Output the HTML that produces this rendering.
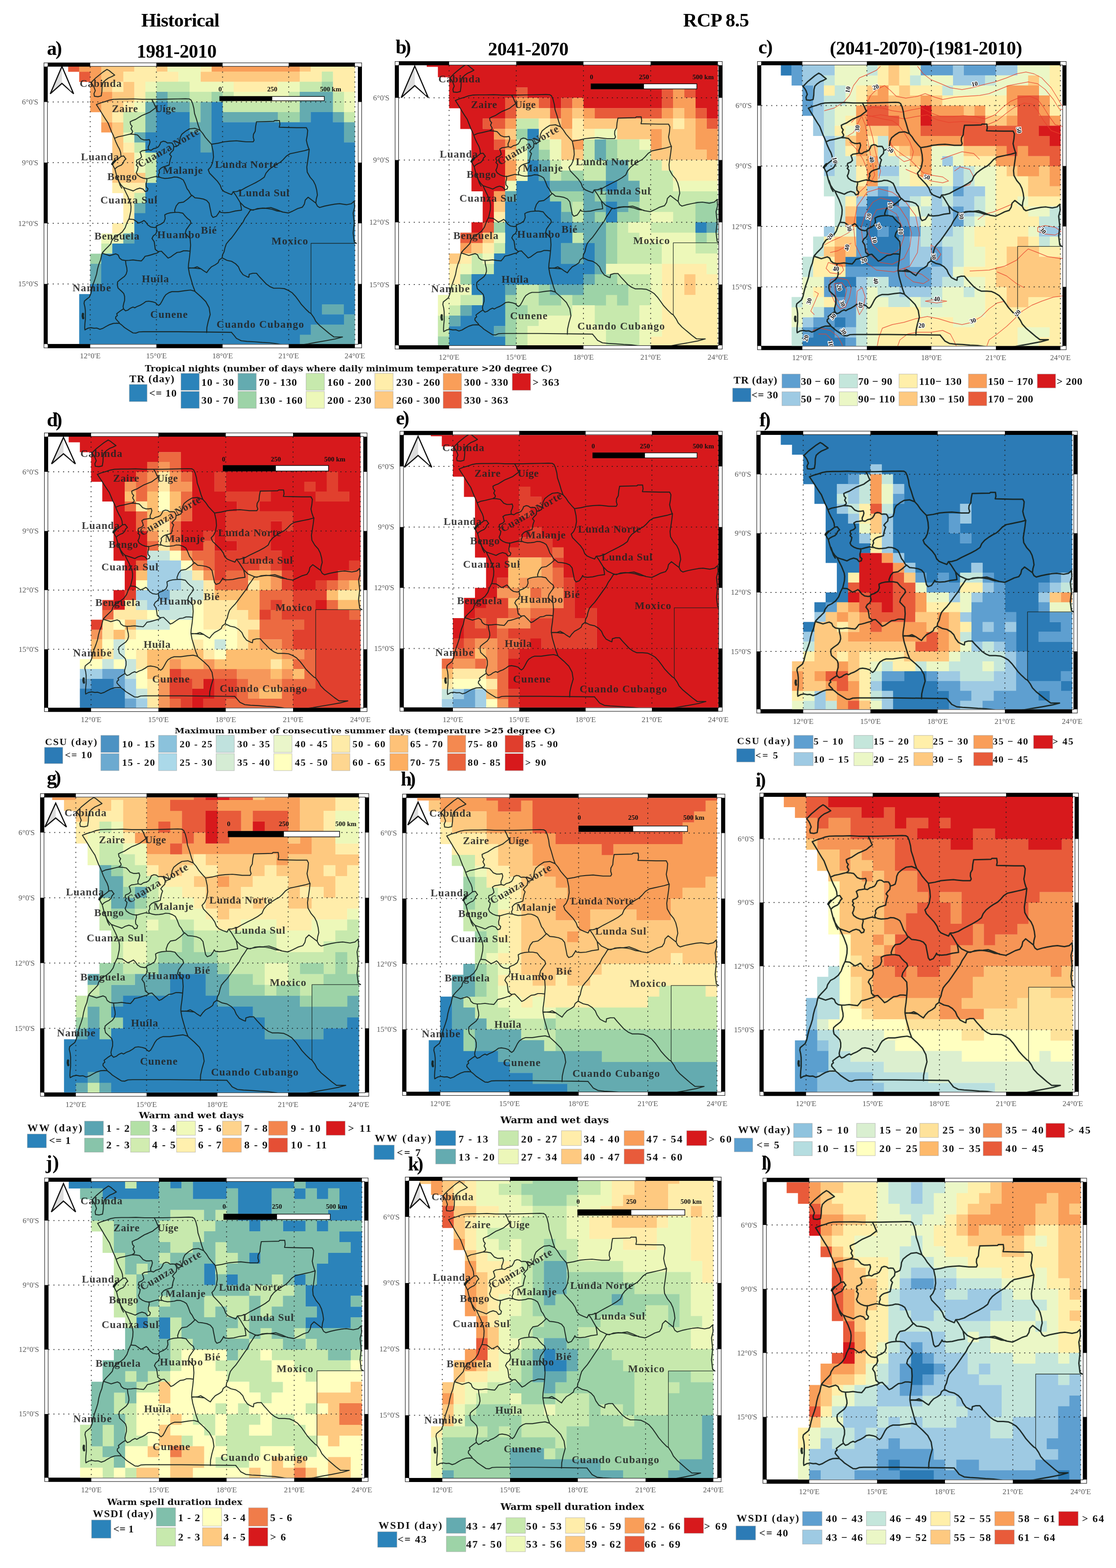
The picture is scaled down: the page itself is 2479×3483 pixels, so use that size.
<!DOCTYPE html>
<html lang="en"><head><meta charset="utf-8"><title>Climate indices over Angola</title>
<style>
html,body{margin:0;padding:0;background:#fff}
svg{display:block}
text{font-family:"Liberation Serif","DejaVu Serif",serif}
.tk text{font-size:17px;fill:#5a5a5a}
.sb text{font-size:15px;font-weight:bold;fill:#111}
.ttl{font-size:41px;font-weight:bold;fill:#000}
.pl{font-size:44px;font-weight:bold;fill:#000}
.lab text{font-weight:bold;fill:#222;fill-opacity:.88}
.lg text{font-weight:bold;fill:#111}
.cl text{font-weight:bold;font-size:14px;fill:#111;stroke:#fff;stroke-width:3px;paint-order:stroke;text-anchor:middle}
</style></head><body>
<svg xmlns="http://www.w3.org/2000/svg" width="2479" height="3483" viewBox="0 0 2479 3483">
<rect width="2479" height="3483" fill="#fff"/>
<defs><g id="brd" fill="none" stroke="#16211c" stroke-opacity=".92" stroke-linejoin="round" stroke-linecap="round"><path vector-effect="non-scaling-stroke" d="M3 -95l21 -23l17 -15l17 -15l18 -13l10 6l11 10l14 12l-14 8l-15 7l-13 10l-11 12l-4 17l-1 27l-3 22l-15 4l-16 -2l-2 -13l6 -15l-6 -18l-6 -11zM28 13l18 -8l22 -7l18 -7l19 -4l28 -1l32 0l33 -1l38 2l40 0l41 0l41 -1l40 -1l34 -1l18 1M450 -14l7 4l7 17l6 25l3 25l9 29l8 30l8 24l12 15l12 20l16 20l12 14M28 13l10 17l11 19l10 18l11 19l11 18l8 22l8 22l8 18l5 14l6 17l8 19l9 18l5 16l1 12l1 7l-10 9l-11 9l-11 9l-8 11l5 11l7 14l4 17l4 16l4 15l6 15l5 16l8 15M140 269l12 -2l5 8l5 7l-8 8l-5 13l-8 9l-11 5l-11 7l-7 8M124 372l7 23l10 17l10 11l10 23l10 22l6 17l6 17l2 16M185 518l-1 22l-4 20l-4 19M175 579l-9 20l-8 24l-13 20l-18 15l-17 9l-13 20l-4 15l-13 15l-13 14l-11 13M54 748l-3 12l-4 21l-8 22l-6 24l-4 24l-7 24l-8 24l-6 24l-5 24l-7 18l-13 11l-9 8l-2 12l4 18l2 18l0 21l0 21l-2 21l-1 21l1 11M60 740l-6 8M-24 1127l13 -8l14 -3l14 3l13 -1l14 6l14 -5l14 -9l16 -9l17 -6l17 -1l11 1l11 9l11 11l14 10l13 9l12 8l13 1l14 -6l20 -1l158 0M399 1136l242 3M279 -13l8 15l6 16l5 10l-14 11l-13 11l-19 9l-16 7l-14 9l-16 11l-14 6l-11 6l2 13l7 9l-5 12l7 13l-1 7l-10 7M110 180l17 -8l19 -4l19 -5l16 -4M181 159l17 1l16 3l8 9l8 10l14 6l13 0l11 -2l3 11l-3 13l-5 12l1 14M264 236l-15 3l-13 2l-10 7l4 11l3 13l-8 9l-14 6l-2 9l5 7l-5 9l8 9l-3 16l-5 12l5 12l13 10l14 6l16 3M264 236l12 3l11 -8l11 -3l11 -6l7 -12l4 -11l11 -5l10 2l9 7l10 -1l11 1l6 10l2 9M379 222l-2 16l-11 12l-6 9l8 10l-5 15l-3 15l-2 13l-14 5l-13 4l-10 6l-9 11l2 11l-5 12l3 11M257 380l19 -6l19 -5l17 3M379 222l11 -3l11 -6l5 -19l2 -18l7 -16l10 -9l7 -6M432 145l18 -12l25 -3l23 10M151 423l15 6l14 5l15 6l15 -9l15 -5l15 5l9 12l10 -3l3 -11l-8 -9l-1 -14l4 -17l-1 -11M311 370l12 5l15 3l15 -1l15 -2l12 -4l15 1l15 6l12 8l7 15l5 14l5 14l8 11l7 14l5 8M461 461l-19 19l-19 15l-22 4l-11 15l-7 21l1 11M384 546l-20 2l-15 4l-11 6l2 19l-6 17l-15 11l-15 6l-5 7M384 546l17 0l19 4l11 15l11 12l11 9l4 13l-11 16l-11 17l-4 17l11 13l11 13l2 33l-2 30M299 618l4 19l-6 16l-11 9l-6 13l10 16l3 22l2 16l13 11l15 -2l7 8l12 13l11 13l11 -5l15 -12l15 -11l15 -2l14 -6l15 0l15 2M461 461l14 13l19 2l19 4l15 7l11 14l3 17l4 21l4 22l7 10l15 -6l11 -17l4 -9l4 7l18 2l23 -2l26 -7l28 -4l-2 -17l-4 -21l-19 -34l-11 -17M550 209l7 35l2 29l-5 30l-8 19l-11 13l6 17l18 20l17 19l13 20l7 20l11 12l17 8l17 7l7 -14M993 234l-22 7l-22 5l-21 5l-22 5l-17 12l-14 17l-13 13l-17 10l-17 12l-18 15l-13 17l-8 20l-18 14l-21 13l-22 12l-22 12l-21 13l-22 7l-15 1M680 497l19 21l18 9l8 4M725 531l14 4l19 -8l22 -2l24 2l21 4l22 8l23 3M550 209l30 -5l27 -7l26 -3l30 -2l17 2l26 3l33 0l4 -8l-4 -14l1 -15l8 -15l2 -24l4 -23l43 -1l35 -1l4 -4l22 0l2 19l-3 14l36 1l43 1l44 0l6 13l-2 25l-4 24l4 20l6 20l3 5l-3 29l-4 30l-4 29l2 25l13 25l15 19l9 20l6 25l3 24l-5 20l-2 20M1023 500l7 15l10 7l22 -7l22 -5l26 -5l21 -2l31 5l22 -5l13 -13M726 535l19 -3l26 -5l26 -2l22 -3l26 10l26 12l28 5l20 -10l22 -12l21 -7l9 -15l4 -20l13 -14l35 29M726 535l-11 19l-13 20l-9 20l-13 19l-13 20l-13 20l-13 19l-13 15l-11 15l-6 19l-4 20l-7 15l-2 15M598 771l22 12l21 5l18 12l13 15l8 20l13 19l18 10l8 3l2 -15l16 -5l17 0l13 17l13 15l17 20l18 14l17 8l26 0l22 2l17 8l18 12l17 20l13 19l13 20l17 20l18 19l8 5l13 20l9 19l17 20l22 20l22 20l21 17l22 0l17 0l-34 10l-44 9l-43 8l-35 7l-34 5l-35 7M598 771l-13 10l-5 14l-13 10l-17 10l-13 15l-9 14l-13 -9l-13 -10l-17 -10l-13 5l-26 2M1197 490l2 30l-7 29l5 50l-5 49l5 44l10 7M476 938l26 25l22 24l15 30l5 34l-9 34l-6 30l-1 25M641 1140l11 14l11 15l22 12l26 3l34 2l35 3l35 2l34 5l35 8M175 579l21 2l11 8l13 10l11 -5l13 -8l8 8l9 14l13 10l17 3l9 -3M54 748l18 6l16 6l12 -4l16 -5l11 6l6 15l11 9l16 3l17 -1l17 -2l19 3l19 2l9 -11l8 -12l14 -3l13 -4l14 -5l11 -3l9 -6M160 784l2 19l4 18l1 15l-4 15l-8 12l-11 9l-11 9l-9 9l-1 15l3 15l9 9l9 9l8 9l4 15l0 19l-4 15l-3 15l2 12l-13 9l-11 9l-7 6l3 9l-7 6l-1 9l7 9l8 9l3 6M151 1023l9 10l11 -4l11 -9l12 -6l8 4l11 -7l14 -6l14 -9l11 -9l13 -2l17 3l14 5l8 9l6 4l8 -7l8 -15l9 -19l8 -12l14 -10l13 -5l17 0l12 0M399 938l31 -5l25 -3l20 6M453 738l-3 32l-4 30l-1 20l5 30l8 30l8 30l9 26M445 820l30 2l27 3"/><path vector-effect="non-scaling-stroke" stroke-width="5" d="M100 307l5 -8l7 -8M-33 1048l-1 11l2 10"/><path vector-effect="non-scaling-stroke" stroke-width="1.3" d="M1001 1046l0 -347l206 0"/></g></defs>
<g id="p_a">
<clipPath id="clip_a"><rect x="106" y="148" width="689" height="616.3"/></clipPath>
<rect x="97.6" y="139.6" width="705.8" height="633.1" fill="#fff" stroke="#222" stroke-width="1.2"/>
<rect x="105.4" y="147.4" width="690.2" height="617.5" fill="none" stroke="#222" stroke-width="1.2"/>
<path fill="#000" d="M106 139H200.4V148H106ZM106 764.3H200.4V773.3H106ZM347.4 139H494.4V148H347.4ZM347.4 764.3H494.4V773.3H347.4ZM641.3 139H788.3V148H641.3ZM641.3 764.3H788.3V773.3H641.3ZM97 148H106V226.5H97ZM795 148H804V226.5H795ZM97 361.3H106V496H97ZM795 361.3H804V496H795ZM97 630.8H106V764.3H97ZM795 630.8H804V764.3H795Z"/>
<g clip-path="url(#clip_a)">
<path fill="#e85b3a" d="M151.4 148H176.2V159.4H151.4ZM175.9 159.1H200.7V181.9H175.9Z"/>
<path fill="#f99e59" d="M175.9 148H225.2V159.4H175.9ZM469.9 148H666.1V159.4H469.9ZM200.4 159.1H225.2V181.9H200.4ZM200.4 181.6H225.2V204.3H200.4ZM200.4 204H249.7V226.8H200.4ZM200.4 226.5H225.2V249.3H200.4ZM224.9 271.4H249.7V294.2H224.9Z"/>
<path fill="#fec980" d="M224.9 148H298.7V159.4H224.9ZM347.4 148H372.2V159.4H347.4ZM665.8 148H690.6V159.4H665.8ZM224.9 159.1H274.2V181.9H224.9ZM445.4 159.1H666.1V181.9H445.4ZM224.9 181.6H249.7V204.3H224.9ZM273.9 181.6H298.7V204.3H273.9ZM249.4 204H298.7V226.8H249.4ZM224.9 226.5H274.2V249.3H224.9ZM224.9 249H249.7V271.7H224.9ZM249.4 271.4H274.2V294.2H249.4ZM249.4 293.9H274.2V316.6H249.4ZM249.4 316.3H274.2V339.1H249.4ZM249.4 338.8H298.7V361.6H249.4ZM249.4 361.3H298.7V384H249.4ZM249.4 383.7H323.2V406.5H249.4Z"/>
<path fill="#ffedaa" d="M298.4 148H347.7V159.4H298.4ZM445.4 148H470.2V159.4H445.4ZM690.3 148H788.6V159.4H690.3ZM273.9 159.1H396.7V181.9H273.9ZM665.8 159.1H715.1V181.9H665.8ZM739.3 159.1H788.6V181.9H739.3ZM249.4 181.6H274.2V204.3H249.4ZM298.4 181.6H323.2V204.3H298.4ZM518.8 181.6H617.1V204.3H518.8ZM739.3 181.6H788.6V204.3H739.3ZM298.4 204H323.2V226.8H298.4ZM273.9 226.5H298.7V249.3H273.9ZM249.4 249H274.2V271.7H249.4ZM273.9 316.3H298.7V339.1H273.9ZM249.4 406.2H323.2V428.9H249.4ZM273.9 428.6H298.7V451.4H273.9ZM273.9 451.1H298.7V473.9H273.9ZM273.9 473.6H298.7V496.3H273.9ZM249.4 496H274.2V518.8H249.4Z"/>
<path fill="#edf8b9" d="M371.9 148H445.7V159.4H371.9ZM396.4 159.1H445.7V181.9H396.4ZM322.9 181.6H347.7V204.3H322.9ZM420.9 181.6H519.1V204.3H420.9ZM616.8 181.6H666.1V204.3H616.8ZM518.8 204H641.6V226.8H518.8ZM763.8 204H788.6V226.8H763.8ZM298.4 226.5H323.2V249.3H298.4ZM763.8 226.5H788.6V249.3H763.8ZM273.9 293.9H298.7V316.6H273.9ZM298.4 338.8H323.2V361.6H298.4ZM298.4 361.3H323.2V384H298.4ZM273.9 496H298.7V518.8H273.9ZM224.9 518.5H274.2V541.3H224.9Z"/>
<path fill="#c7e9ad" d="M714.8 159.1H739.6V181.9H714.8ZM347.4 181.6H421.2V204.3H347.4ZM665.8 181.6H715.1V204.3H665.8ZM322.9 204H347.7V226.8H322.9ZM420.9 204H470.2V226.8H420.9ZM494.4 204H519.1V226.8H494.4ZM641.3 204H666.1V226.8H641.3ZM739.3 204H764.1V226.8H739.3ZM494.4 226.5H666.1V249.3H494.4ZM739.3 226.5H764.1V249.3H739.3ZM273.9 249H323.2V271.7H273.9ZM763.8 249H788.6V271.7H763.8ZM273.9 271.4H323.2V294.2H273.9ZM298.4 316.3H323.2V339.1H298.4ZM322.9 338.8H347.7V361.6H322.9ZM322.9 361.3H347.7V384H322.9ZM322.9 383.7H347.7V406.5H322.9ZM298.4 428.6H323.2V451.4H298.4ZM224.9 541H249.7V563.7H224.9Z"/>
<path fill="#9dd3a7" d="M714.8 181.6H739.6V204.3H714.8ZM371.9 204H421.2V226.8H371.9ZM469.9 204H494.7V226.8H469.9ZM420.9 226.5H445.7V249.3H420.9ZM420.9 249H445.7V271.7H420.9ZM616.8 249H666.1V271.7H616.8ZM200.4 563.4H225.2V586.2H200.4Z"/>
<path fill="#64abb0" d="M347.4 204H372.2V226.8H347.4ZM665.8 204H739.6V226.8H665.8ZM322.9 226.5H347.7V249.3H322.9ZM371.9 226.5H421.2V249.3H371.9ZM445.4 226.5H470.2V249.3H445.4ZM665.8 226.5H739.6V249.3H665.8ZM322.9 249H347.7V271.7H322.9ZM445.4 249H470.2V271.7H445.4ZM494.4 249H617.1V271.7H494.4ZM665.8 249H690.6V271.7H665.8ZM739.3 249H764.1V271.7H739.3ZM322.9 271.4H347.7V294.2H322.9ZM420.9 271.4H470.2V294.2H420.9ZM763.8 271.4H788.6V294.2H763.8ZM298.4 293.9H323.2V316.6H298.4ZM445.4 293.9H470.2V316.6H445.4ZM763.8 293.9H788.6V316.6H763.8ZM445.4 316.3H470.2V339.1H445.4ZM298.4 451.1H323.2V473.9H298.4ZM273.9 518.5H298.7V541.3H273.9ZM200.4 585.9H225.2V608.6H200.4ZM200.4 608.3H225.2V631.1H200.4ZM714.8 675.7H764.1V698.5H714.8ZM763.8 698.2H788.6V720.9H763.8ZM690.3 720.6H788.6V743.4H690.3ZM665.8 743.1H788.6V764.6H665.8Z"/>
<path fill="#2b83ba" d="M347.4 226.5H372.2V249.3H347.4ZM469.9 226.5H494.7V249.3H469.9ZM347.4 249H421.2V271.7H347.4ZM469.9 249H494.7V271.7H469.9ZM690.3 249H739.6V271.7H690.3ZM347.4 271.4H421.2V294.2H347.4ZM469.9 271.4H764.1V294.2H469.9ZM322.9 293.9H445.7V316.6H322.9ZM469.9 293.9H764.1V316.6H469.9ZM322.9 316.3H445.7V339.1H322.9ZM469.9 316.3H788.6V339.1H469.9ZM347.4 338.8H788.6V361.6H347.4ZM347.4 361.3H788.6V384H347.4ZM347.4 383.7H788.6V406.5H347.4ZM322.9 406.2H788.6V428.9H322.9ZM322.9 428.6H788.6V451.4H322.9ZM322.9 451.1H788.6V473.9H322.9ZM298.4 473.6H788.6V496.3H298.4ZM298.4 496H788.6V518.8H298.4ZM298.4 518.5H788.6V541.3H298.4ZM249.4 541H788.6V563.7H249.4ZM224.9 563.4H788.6V586.2H224.9ZM224.9 585.9H788.6V608.6H224.9ZM224.9 608.3H788.6V631.1H224.9ZM200.4 630.8H788.6V653.6H200.4ZM175.9 653.3H788.6V676H175.9ZM175.9 675.7H715.1V698.5H175.9ZM763.8 675.7H788.6V698.5H763.8ZM175.9 698.2H764.1V720.9H175.9ZM175.9 720.6H690.6V743.4H175.9ZM175.9 743.1H666.1V764.6H175.9Z"/>

<path d="M200.4 148V764.3M347.4 148V764.3M494.4 148V764.3M641.3 148V764.3M788.3 148V764.3M106 226.5H795M106 361.3H795M106 496H795M106 630.8H795" fill="none" stroke="#1a1a1a" stroke-opacity="0.8" stroke-width="2" stroke-dasharray="2.5 8.5"/>
<use href="#brd" stroke-width="2.2" transform="translate(200.4 226.5) scale(0.48992 0.44922)"/>
<g class="lab" font-size="23.5"><text x="176.9" y="192.8" textLength="93">Cabinda</text><text x="248.4" y="249" textLength="57.7">Zaire</text><text x="343.9" y="249" textLength="46.6">Uíge</text><text x="179.8" y="356.3" textLength="84.2">Luanda</text><text x="238.6" y="399.5" textLength="65.4">Bengo</text><text x="222.9" y="451.6" textLength="126.4">Cuanza Sul</text><text x="361.6" y="386" textLength="88.7">Malanje</text><text x="311.6" y="372.9" textLength="152.7" transform="rotate(-30 311.6 372.9)">Cuanza Norte</text><text x="477.7" y="372.9" textLength="139.7">Lunda Norte</text><text x="529.6" y="435.8" textLength="113">Lunda Sul</text><text x="209.7" y="532.4" textLength="99.8">Benguela</text><text x="349.3" y="529.3" textLength="95.3">Huambo</text><text x="315" y="627.2" textLength="59.9">Huíla</text><text x="161.2" y="647.4" textLength="85.3">Namibe</text><text x="333.7" y="706.3" textLength="83.1">Cunene</text><text x="446.3" y="518.5" textLength="35">Bié</text><text x="603.1" y="543.2" textLength="80.9">Moxico</text><text x="481.1" y="728.3" textLength="194">Cuando Cubango</text></g>

<rect x="488.1" y="214.3" width="232.3" height="9.5" fill="#fff" stroke="#111" stroke-width="1.5"/><rect x="488.1" y="214.3" width="116.6" height="9.5" fill="#000"/><g class="sb"><text x="489.1" y="203" text-anchor="middle">0</text><text x="604.7" y="203" text-anchor="middle">250</text><text x="734.4" y="203" text-anchor="middle">500 km</text></g>
<path d="M137.6 147.4L111.6 208.4L137.6 185.2Z" fill="#dcdcdc"/><path d="M137.6 147.4L111.6 208.4L137.6 185.2L163.6 208.4Z" fill="none" stroke="#111" stroke-width="2.6" stroke-linejoin="miter"/><path d="M138.4 154.4L138.4 182.7L159.1 203.9Z" fill="#fff" stroke="none"/>
</g>
<g class="tk"><text x="200.4" y="796.3" text-anchor="middle">12°0'E</text><text x="347.4" y="796.3" text-anchor="middle">15°0'E</text><text x="494.4" y="796.3" text-anchor="middle">18°0'E</text><text x="641.3" y="796.3" text-anchor="middle">21°0'E</text><text x="788.3" y="796.3" text-anchor="middle">24°0'E</text><text x="85" y="232" text-anchor="end">6°0'S</text><text x="85" y="366.8" text-anchor="end">9°0'S</text><text x="85" y="501.5" text-anchor="end">12°0'S</text><text x="85" y="636.3" text-anchor="end">15°0'S</text></g>
</g>
<g id="p_b">
<clipPath id="clip_b"><rect x="886" y="145" width="710" height="622"/></clipPath>
<rect x="877.6" y="136.6" width="726.8" height="638.8" fill="#fff" stroke="#222" stroke-width="1.2"/>
<rect x="885.4" y="144.4" width="711.2" height="623.2" fill="none" stroke="#222" stroke-width="1.2"/>
<path fill="#000" d="M886 136H997.6V145H886ZM886 767H997.6V776H886ZM1146.8 136H1296V145H1146.8ZM1146.8 767H1296V776H1146.8ZM1445.3 136H1594.5V145H1445.3ZM1445.3 767H1594.5V776H1445.3ZM877 145H886V217.2H877ZM1596 145H1605V217.2H1596ZM877 355.5H886V493.7H877ZM1596 355.5H1605V493.7H1596ZM877 632H886V767H877ZM1596 632H1605V767H1596Z"/>
<g clip-path="url(#clip_b)">
<path fill="#d7191c" d="M947.9 145H1594.8V148.4H947.9ZM972.7 148.1H1594.8V171.4H972.7ZM997.6 171.1H1594.8V194.5H997.6ZM997.6 194.2H1147.1V217.5H997.6ZM1171.7 194.2H1470.4V217.5H1171.7ZM1544.8 194.2H1594.8V217.5H1544.8ZM997.6 217.2H1122.3V240.5H997.6ZM1221.4 217.2H1246.6V240.5H1221.4ZM1296 217.2H1470.4V240.5H1296ZM1544.8 217.2H1594.8V240.5H1544.8ZM1022.5 240.2H1122.3V263.6H1022.5ZM1569.6 240.2H1594.8V263.6H1569.6ZM1022.5 263.3H1072.5V286.6H1022.5ZM1047.3 286.3H1097.4V309.7H1047.3ZM1047.3 309.4H1097.4V332.7H1047.3ZM1047.3 332.4H1122.3V355.8H1047.3ZM1047.3 355.5H1122.3V378.8H1047.3ZM1047.3 378.5H1122.3V401.9H1047.3ZM1047.3 401.6H1122.3V424.9H1047.3ZM1072.2 424.6H1097.4V447.9H1072.2ZM1072.2 447.6H1097.4V471H1072.2ZM1072.2 470.7H1097.4V494H1072.2ZM1047.3 493.7H1072.5V517.1H1047.3Z"/>
<path fill="#e85b3a" d="M1146.8 194.2H1172V217.5H1146.8ZM1470.1 194.2H1495.3V217.5H1470.1ZM1519.9 194.2H1545.1V217.5H1519.9ZM1122 217.2H1147.1V240.5H1122ZM1196.6 217.2H1221.7V240.5H1196.6ZM1246.3 217.2H1271.5V240.5H1246.3ZM1470.1 217.2H1495.3V240.5H1470.1ZM1122 240.2H1147.1V263.6H1122ZM1221.4 240.2H1246.6V263.6H1221.4ZM1320.9 240.2H1470.4V263.6H1320.9ZM1544.8 240.2H1569.9V263.6H1544.8ZM1072.2 263.3H1122.3V286.6H1072.2ZM1569.6 263.3H1594.8V286.6H1569.6ZM1097.1 309.4H1122.3V332.7H1097.1ZM1072.2 493.7H1097.4V517.1H1072.2ZM1022.5 516.8H1072.5V540.1H1022.5Z"/>
<path fill="#f99e59" d="M1495 194.2H1520.2V217.5H1495ZM1146.8 217.2H1196.9V240.5H1146.8ZM1271.2 217.2H1296.3V240.5H1271.2ZM1495 217.2H1545.1V240.5H1495ZM1246.3 240.2H1271.5V263.6H1246.3ZM1296 240.2H1321.2V263.6H1296ZM1470.1 240.2H1495.3V263.6H1470.1ZM1519.9 240.2H1545.1V263.6H1519.9ZM1122 263.3H1147.1V286.6H1122ZM1246.3 263.3H1271.5V286.6H1246.3ZM1544.8 263.3H1569.9V286.6H1544.8ZM1097.1 286.3H1122.3V309.7H1097.1ZM1445.3 286.3H1470.4V309.7H1445.3ZM1544.8 286.3H1594.8V309.7H1544.8ZM1122 309.4H1147.1V332.7H1122ZM1271.2 309.4H1296.3V332.7H1271.2ZM1445.3 309.4H1470.4V332.7H1445.3ZM1544.8 309.4H1594.8V332.7H1544.8ZM1569.6 332.4H1594.8V355.8H1569.6ZM1122 355.5H1147.1V378.8H1122ZM1122 378.5H1147.1V401.9H1122ZM1097.1 424.6H1122.3V447.9H1097.1ZM1022.5 539.8H1047.6V563.2H1022.5Z"/>
<path fill="#fec980" d="M1146.8 240.2H1221.7V263.6H1146.8ZM1271.2 240.2H1296.3V263.6H1271.2ZM1495 240.2H1520.2V263.6H1495ZM1221.4 263.3H1246.6V286.6H1221.4ZM1296 263.3H1495.3V286.6H1296ZM1519.9 263.3H1545.1V286.6H1519.9ZM1122 286.3H1147.1V309.7H1122ZM1221.4 286.3H1271.5V309.7H1221.4ZM1370.7 286.3H1445.6V309.7H1370.7ZM1470.1 286.3H1545.1V309.7H1470.1ZM1246.3 309.4H1271.5V332.7H1246.3ZM1470.1 309.4H1545.1V332.7H1470.1ZM1122 332.4H1147.1V355.8H1122ZM1246.3 332.4H1296.3V355.8H1246.3ZM1445.3 332.4H1569.9V355.8H1445.3ZM1097.1 447.6H1122.3V471H1097.1ZM1072.2 516.8H1097.4V540.1H1072.2ZM1047.3 539.8H1072.5V563.2H1047.3ZM997.6 562.9H1022.8V586.2H997.6ZM1519.9 609H1545.1V632.3H1519.9ZM1519.9 632H1545.1V655.3H1519.9Z"/>
<path fill="#c7e9ad" d="M1146.8 263.3H1196.9V286.6H1146.8ZM1146.8 309.4H1172V332.7H1146.8ZM1196.6 309.4H1221.7V332.7H1196.6ZM1296 309.4H1321.2V332.7H1296ZM1370.7 309.4H1420.7V332.7H1370.7ZM1296 332.4H1321.2V355.8H1296ZM1370.7 332.4H1445.6V355.8H1370.7ZM1221.4 355.5H1246.6V378.8H1221.4ZM1296 355.5H1346.1V378.8H1296ZM1395.5 355.5H1470.4V378.8H1395.5ZM1221.4 378.5H1246.6V401.9H1221.4ZM1296 378.5H1346.1V401.9H1296ZM1395.5 378.5H1495.3V401.9H1395.5ZM1420.4 401.6H1495.3V424.9H1420.4ZM1420.4 424.6H1594.8V447.9H1420.4ZM1271.2 447.6H1296.3V471H1271.2ZM1420.4 447.6H1545.1V471H1420.4ZM1271.2 470.7H1296.3V494H1271.2ZM1420.4 470.7H1445.6V494H1420.4ZM1495 470.7H1545.1V494H1495ZM1370.7 493.7H1395.8V517.1H1370.7ZM1445.3 493.7H1545.1V517.1H1445.3ZM1271.2 516.8H1296.3V540.1H1271.2ZM1370.7 516.8H1420.7V540.1H1370.7ZM1569.6 516.8H1594.8V540.1H1569.6ZM1097.1 539.8H1122.3V563.2H1097.1ZM1370.7 539.8H1470.4V563.2H1370.7ZM1544.8 539.8H1594.8V563.2H1544.8ZM1047.3 562.9H1072.5V586.2H1047.3ZM1370.7 562.9H1470.4V586.2H1370.7ZM1047.3 585.9H1097.4V609.3H1047.3ZM1370.7 609H1445.6V632.3H1370.7ZM1146.8 632H1196.9V655.3H1146.8ZM1395.5 632H1445.6V655.3H1395.5ZM1022.5 655H1072.5V678.4H1022.5ZM1146.8 655H1196.9V678.4H1146.8ZM1246.3 655H1271.5V678.4H1246.3ZM1345.8 655H1371V678.4H1345.8ZM1395.5 655H1445.6V678.4H1395.5ZM997.6 678.1H1022.8V701.4H997.6ZM1171.7 678.1H1271.5V701.4H1171.7ZM1320.9 678.1H1420.7V701.4H1320.9ZM972.7 701.1H997.9V724.5H972.7ZM1146.8 701.1H1196.9V724.5H1146.8ZM1320.9 701.1H1420.7V724.5H1320.9ZM972.7 724.2H997.9V747.5H972.7ZM1146.8 724.2H1172V747.5H1146.8ZM1345.8 724.2H1420.7V747.5H1345.8ZM1146.8 747.2H1172V767.3H1146.8ZM1345.8 747.2H1420.7V767.3H1345.8Z"/>
<path fill="#ffedaa" d="M1196.6 263.3H1221.7V286.6H1196.6ZM1271.2 263.3H1296.3V286.6H1271.2ZM1495 263.3H1520.2V286.6H1495ZM1196.6 286.3H1221.7V309.7H1196.6ZM1271.2 286.3H1321.2V309.7H1271.2ZM1146.8 355.5H1172V378.8H1146.8ZM1470.1 355.5H1594.8V378.8H1470.1ZM1495 378.5H1594.8V401.9H1495ZM1097.1 470.7H1122.3V494H1097.1ZM1072.2 539.8H1097.4V563.2H1072.2ZM1022.5 562.9H1047.6V586.2H1022.5ZM997.6 585.9H1022.8V609.3H997.6ZM1470.1 585.9H1569.9V609.3H1470.1ZM997.6 609H1022.8V632.3H997.6ZM1470.1 609H1520.2V632.3H1470.1ZM1544.8 609H1594.8V632.3H1544.8ZM1470.1 632H1520.2V655.3H1470.1ZM1544.8 632H1594.8V655.3H1544.8ZM1470.1 655H1594.8V678.4H1470.1ZM1470.1 678.1H1594.8V701.4H1470.1ZM1470.1 701.1H1594.8V724.5H1470.1ZM1470.1 724.2H1594.8V747.5H1470.1ZM1445.3 747.2H1594.8V767.3H1445.3Z"/>
<path fill="#9dd3a7" d="M1146.8 286.3H1172V309.7H1146.8ZM1345.8 309.4H1371V332.7H1345.8ZM1196.6 332.4H1221.7V355.8H1196.6ZM1345.8 332.4H1371V355.8H1345.8ZM1246.3 378.5H1296.3V401.9H1246.3ZM1221.4 424.6H1296.3V447.9H1221.4ZM1320.9 424.6H1346.1V447.9H1320.9ZM1246.3 447.6H1271.5V471H1246.3ZM1395.5 447.6H1420.7V471H1395.5ZM1544.8 447.6H1594.8V471H1544.8ZM1320.9 470.7H1346.1V494H1320.9ZM1370.7 470.7H1420.7V494H1370.7ZM1544.8 470.7H1594.8V494H1544.8ZM1097.1 493.7H1122.3V517.1H1097.1ZM1345.8 493.7H1371V517.1H1345.8ZM1345.8 516.8H1371V540.1H1345.8ZM1544.8 516.8H1569.9V540.1H1544.8ZM1345.8 539.8H1371V563.2H1345.8ZM1345.8 562.9H1371V586.2H1345.8ZM1022.5 609H1047.6V632.3H1022.5ZM1320.9 609H1371V632.3H1320.9ZM1196.6 632H1221.7V655.3H1196.6ZM1296 632H1395.8V655.3H1296ZM1122 655H1147.1V678.4H1122ZM1196.6 655H1246.6V678.4H1196.6ZM1271.2 655H1346.1V678.4H1271.2ZM1370.7 655H1395.8V678.4H1370.7ZM1122 678.1H1172V701.4H1122ZM1122 701.1H1147.1V724.5H1122ZM1122 724.2H1147.1V747.5H1122ZM972.7 747.2H997.9V767.3H972.7ZM1122 747.2H1147.1V767.3H1122Z"/>
<path fill="#2b83ba" d="M1171.7 286.3H1196.9V309.7H1171.7ZM1171.7 355.5H1196.9V378.8H1171.7ZM1171.7 378.5H1196.9V401.9H1171.7ZM1146.8 401.6H1221.7V424.9H1146.8ZM1345.8 401.6H1371V424.9H1345.8ZM1146.8 424.6H1221.7V447.9H1146.8ZM1122 447.6H1246.6V471H1122ZM1345.8 447.6H1371V471H1345.8ZM1122 470.7H1246.6V494H1122ZM1345.8 470.7H1371V494H1345.8ZM1122 493.7H1271.5V517.1H1122ZM1544.8 493.7H1569.9V517.1H1544.8ZM1122 516.8H1271.5V540.1H1122ZM1122 539.8H1246.6V563.2H1122ZM1296 539.8H1321.2V563.2H1296ZM1097.1 562.9H1246.6V586.2H1097.1ZM1296 562.9H1321.2V586.2H1296ZM1097.1 585.9H1321.2V609.3H1097.1ZM1047.3 609H1296.3V632.3H1047.3ZM1047.3 632H1122.3V655.3H1047.3ZM1072.2 655H1122.3V678.4H1072.2ZM1047.3 678.1H1122.3V701.4H1047.3ZM1022.5 701.1H1122.3V724.5H1022.5ZM997.6 724.2H1097.4V747.5H997.6ZM997.6 747.2H1122.3V767.3H997.6Z"/>
<path fill="#edf8b9" d="M1320.9 286.3H1371V309.7H1320.9ZM1221.4 309.4H1246.6V332.7H1221.4ZM1420.4 309.4H1445.6V332.7H1420.4ZM1146.8 332.4H1172V355.8H1146.8ZM1221.4 332.4H1246.6V355.8H1221.4ZM1246.3 355.5H1296.3V378.8H1246.3ZM1146.8 378.5H1172V401.9H1146.8ZM1122 401.6H1147.1V424.9H1122ZM1495 401.6H1594.8V424.9H1495ZM1445.3 470.7H1495.3V494H1445.3ZM1395.5 493.7H1445.6V517.1H1395.5ZM1097.1 516.8H1122.3V540.1H1097.1ZM1420.4 516.8H1545.1V540.1H1420.4ZM1470.1 539.8H1545.1V563.2H1470.1ZM1072.2 562.9H1097.4V586.2H1072.2ZM1470.1 562.9H1594.8V586.2H1470.1ZM1022.5 585.9H1047.6V609.3H1022.5ZM1345.8 585.9H1470.4V609.3H1345.8ZM1569.6 585.9H1594.8V609.3H1569.6ZM1445.3 609H1470.4V632.3H1445.3ZM997.6 632H1047.6V655.3H997.6ZM1445.3 632H1470.4V655.3H1445.3ZM972.7 655H1022.8V678.4H972.7ZM1445.3 655H1470.4V678.4H1445.3ZM972.7 678.1H997.9V701.4H972.7ZM1271.2 678.1H1321.2V701.4H1271.2ZM1420.4 678.1H1470.4V701.4H1420.4ZM1196.6 701.1H1321.2V724.5H1196.6ZM1420.4 701.1H1470.4V724.5H1420.4ZM1171.7 724.2H1346.1V747.5H1171.7ZM1420.4 724.2H1470.4V747.5H1420.4ZM1171.7 747.2H1346.1V767.3H1171.7ZM1420.4 747.2H1445.6V767.3H1420.4Z"/>
<path fill="#64abb0" d="M1171.7 309.4H1196.9V332.7H1171.7ZM1320.9 309.4H1346.1V332.7H1320.9ZM1171.7 332.4H1196.9V355.8H1171.7ZM1320.9 332.4H1346.1V355.8H1320.9ZM1196.6 355.5H1221.7V378.8H1196.6ZM1345.8 355.5H1395.8V378.8H1345.8ZM1196.6 378.5H1221.7V401.9H1196.6ZM1345.8 378.5H1395.8V401.9H1345.8ZM1221.4 401.6H1346.1V424.9H1221.4ZM1370.7 401.6H1420.7V424.9H1370.7ZM1122 424.6H1147.1V447.9H1122ZM1296 424.6H1321.2V447.9H1296ZM1345.8 424.6H1420.7V447.9H1345.8ZM1296 447.6H1346.1V471H1296ZM1370.7 447.6H1395.8V471H1370.7ZM1246.3 470.7H1271.5V494H1246.3ZM1296 470.7H1321.2V494H1296ZM1271.2 493.7H1346.1V517.1H1271.2ZM1569.6 493.7H1594.8V517.1H1569.6ZM1296 516.8H1346.1V540.1H1296ZM1246.3 539.8H1296.3V563.2H1246.3ZM1320.9 539.8H1346.1V563.2H1320.9ZM1246.3 562.9H1296.3V586.2H1246.3ZM1320.9 562.9H1346.1V586.2H1320.9ZM1320.9 585.9H1346.1V609.3H1320.9ZM1296 609H1321.2V632.3H1296ZM1122 632H1147.1V655.3H1122ZM1221.4 632H1296.3V655.3H1221.4ZM1022.5 678.1H1047.6V701.4H1022.5ZM997.6 701.1H1022.8V724.5H997.6ZM1097.1 724.2H1122.3V747.5H1097.1Z"/>

<path d="M997.6 145V767M1146.8 145V767M1296 145V767M1445.3 145V767M1594.5 145V767M886 217.2H1596M886 355.5H1596M886 493.7H1596M886 632H1596" fill="none" stroke="#1a1a1a" stroke-opacity="0.8" stroke-width="2" stroke-dasharray="2.5 8.5"/>
<use href="#brd" stroke-width="2.2" transform="translate(997.6 217.2) scale(0.49742 0.46089)"/>
<g class="lab" font-size="23.5"><text x="973.7" y="182.6" textLength="93">Cabinda</text><text x="1046.3" y="240.2" textLength="57.7">Zaire</text><text x="1143.3" y="240.2" textLength="46.6">Uíge</text><text x="976.7" y="350.4" textLength="84.2">Luanda</text><text x="1036.4" y="394.6" textLength="65.4">Bengo</text><text x="1020.5" y="448.1" textLength="126.4">Cuanza Sul</text><text x="1161.3" y="380.8" textLength="88.7">Malanje</text><text x="1110.5" y="367.4" textLength="152.7" transform="rotate(-30 1110.5 367.4)">Cuanza Norte</text><text x="1279.1" y="367.4" textLength="139.7">Lunda Norte</text><text x="1331.9" y="432" textLength="113">Lunda Sul</text><text x="1007.1" y="531.1" textLength="99.8">Benguela</text><text x="1148.8" y="527.8" textLength="95.3">Huambo</text><text x="1114" y="628.3" textLength="59.9">Huíla</text><text x="957.8" y="649.1" textLength="85.3">Namibe</text><text x="1132.9" y="709.4" textLength="83.1">Cunene</text><text x="1247.3" y="516.8" textLength="35">Bié</text><text x="1406.5" y="542.1" textLength="80.9">Moxico</text><text x="1282.6" y="732" textLength="194">Cuando Cubango</text></g>

<rect x="1312.9" y="186.2" width="235" height="11.3" fill="#fff" stroke="#111" stroke-width="1.5"/><rect x="1312.9" y="186.2" width="117.5" height="11.3" fill="#000"/><g class="sb"><text x="1313.9" y="175.5" text-anchor="middle">0</text><text x="1430.4" y="175.5" text-anchor="middle">250</text><text x="1561.9" y="175.5" text-anchor="middle">500 km</text></g>
<path d="M921.3 146.8L891.3 216.8L921.3 190.2Z" fill="#dcdcdc"/><path d="M921.3 146.8L891.3 216.8L921.3 190.2L951.3 216.8Z" fill="none" stroke="#111" stroke-width="2.6" stroke-linejoin="miter"/><path d="M922.1 153.8L922.1 187.7L946.8 212.3Z" fill="#fff" stroke="none"/>
</g>
<g class="tk"><text x="997.6" y="799" text-anchor="middle">12°0'E</text><text x="1146.8" y="799" text-anchor="middle">15°0'E</text><text x="1296" y="799" text-anchor="middle">18°0'E</text><text x="1445.3" y="799" text-anchor="middle">21°0'E</text><text x="1594.5" y="799" text-anchor="middle">24°0'E</text><text x="865" y="222.7" text-anchor="end">6°0'S</text><text x="865" y="361" text-anchor="end">9°0'S</text><text x="865" y="499.2" text-anchor="end">12°0'S</text><text x="865" y="637.5" text-anchor="end">15°0'S</text></g>
</g>
<g id="p_c">
<clipPath id="clip_c"><rect x="1691" y="145" width="669" height="623.4"/></clipPath>
<rect x="1682.6" y="136.6" width="685.8" height="640.2" fill="#fff" stroke="#222" stroke-width="1.2"/>
<rect x="1690.4" y="144.4" width="670.2" height="624.6" fill="none" stroke="#222" stroke-width="1.2"/>
<path fill="#000" d="M1691 136H1782.3V145H1691ZM1691 768.4H1782.3V777.4H1691ZM1925.6 136H2068.9V145H1925.6ZM1925.6 768.4H2068.9V777.4H1925.6ZM2212.2 136H2355.5V145H2212.2ZM2212.2 768.4H2355.5V777.4H2212.2ZM1682 145H1691V234.5H1682ZM2360 145H2369V234.5H2360ZM1682 368.8H1691V503H1682ZM2360 368.8H2369V503H2360ZM1682 637.3H1691V768.4H1682ZM2360 637.3H2369V768.4H2360Z"/>
<g clip-path="url(#clip_c)">
<path fill="#2c7bb6" d="M1734.5 145H1758.7V167.7H1734.5ZM1925.6 435.9H1997.5V458.6H1925.6ZM1925.6 458.3H1973.7V481H1925.6ZM1901.7 480.7H1997.5V503.3H1901.7ZM1925.6 503H1949.8V525.7H1925.6ZM1973.4 503H2021.4V525.7H1973.4ZM1925.6 525.4H1997.5V548.1H1925.6ZM1925.6 547.8H1997.5V570.5H1925.6ZM1877.8 570.2H1997.5V592.8H1877.8ZM1854 614.9H1902V637.6H1854ZM1854 637.3H1878.1V660H1854ZM1854 704.4H1878.1V727.1H1854ZM1806.2 726.8H1854.2V749.5H1806.2ZM1782.3 749.2H1878.1V768.7H1782.3Z"/>
<path fill="#5e9fd0" d="M1758.4 145H1782.6V167.7H1758.4ZM2045 145H2117V167.7H2045ZM2140.6 145H2212.5V167.7H2140.6ZM1758.4 167.4H1782.6V190H1758.4ZM1782.3 189.7H1806.5V212.4H1782.3ZM1782.3 212.1H1806.5V234.8H1782.3ZM1782.3 234.5H1806.5V257.2H1782.3ZM1949.5 413.5H1973.7V436.2H1949.5ZM2116.7 413.5H2140.9V436.2H2116.7ZM1901.7 458.3H1925.9V481H1901.7ZM1973.4 458.3H2021.4V481H1973.4ZM2116.7 458.3H2140.9V481H2116.7ZM1997.2 480.7H2021.4V503.3H1997.2ZM2116.7 480.7H2140.9V503.3H2116.7ZM1901.7 503H1925.9V525.7H1901.7ZM1949.5 503H1973.7V525.7H1949.5ZM2021.1 503H2045.3V525.7H2021.1ZM1901.7 525.4H1925.9V548.1H1901.7ZM1997.2 525.4H2021.4V548.1H1997.2ZM1901.7 547.8H1925.9V570.5H1901.7ZM1997.2 547.8H2021.4V570.5H1997.2ZM2068.9 547.8H2093.1V570.5H2068.9ZM1997.2 570.2H2021.4V592.8H1997.2ZM2068.9 570.2H2093.1V592.8H2068.9ZM1877.8 592.5H2069.2V615.2H1877.8ZM1830.1 614.9H1854.2V637.6H1830.1ZM1973.4 614.9H2069.2V637.6H1973.4ZM1830.1 637.3H1854.2V660H1830.1ZM1877.8 637.3H1902V660H1877.8ZM1854 659.7H1902V682.4H1854ZM1830.1 682.1H1902V704.7H1830.1ZM1806.2 704.4H1854.2V727.1H1806.2ZM1877.8 704.4H1902V727.1H1877.8ZM1782.3 726.8H1806.5V749.5H1782.3ZM1854 726.8H1878.1V749.5H1854ZM1877.8 749.2H1902V768.7H1877.8Z"/>
<path fill="#9ecae3" d="M1782.3 145H1854.2V167.7H1782.3ZM2116.7 145H2140.9V167.7H2116.7ZM2212.2 145H2260.3V167.7H2212.2ZM1782.3 167.4H1830.4V190H1782.3ZM2116.7 167.4H2188.6V190H2116.7ZM1806.2 189.7H1830.4V212.4H1806.2ZM1806.2 212.1H1830.4V234.8H1806.2ZM1806.2 234.5H1830.4V257.2H1806.2ZM1806.2 256.9H1830.4V279.6H1806.2ZM1806.2 279.3H1830.4V301.9H1806.2ZM1830.1 301.6H1854.2V324.3H1830.1ZM1830.1 324H1854.2V346.7H1830.1ZM1830.1 346.4H1854.2V369.1H1830.1ZM2092.8 346.4H2117V369.1H2092.8ZM1830.1 368.8H1854.2V391.4H1830.1ZM1949.5 368.8H1997.5V391.4H1949.5ZM2116.7 368.8H2140.9V391.4H2116.7ZM2116.7 391.1H2140.9V413.8H2116.7ZM1925.6 413.5H1949.8V436.2H1925.6ZM1973.4 413.5H2093.1V436.2H1973.4ZM2140.6 413.5H2188.6V436.2H2140.6ZM1901.7 435.9H1925.9V458.6H1901.7ZM1997.2 435.9H2021.4V458.6H1997.2ZM2068.9 435.9H2093.1V458.6H2068.9ZM2116.7 435.9H2164.7V458.6H2116.7ZM2068.9 458.3H2117V481H2068.9ZM2140.6 458.3H2164.7V481H2140.6ZM2021.1 480.7H2045.3V503.3H2021.1ZM2068.9 480.7H2117V503.3H2068.9ZM1830.1 503H1854.2V525.7H1830.1ZM2068.9 503H2117V525.7H2068.9ZM2307.7 503H2355.8V525.7H2307.7ZM2021.1 525.4H2045.3V548.1H2021.1ZM2068.9 525.4H2093.1V548.1H2068.9ZM2021.1 547.8H2069.2V570.5H2021.1ZM2092.8 547.8H2117V570.5H2092.8ZM2021.1 570.2H2069.2V592.8H2021.1ZM2092.8 570.2H2117V592.8H2092.8ZM2068.9 592.5H2117V615.2H2068.9ZM1901.7 614.9H1925.9V637.6H1901.7ZM2068.9 614.9H2093.1V637.6H2068.9ZM1901.7 637.3H1925.9V660H1901.7ZM1997.2 637.3H2069.2V660H1997.2ZM1901.7 659.7H1925.9V682.4H1901.7ZM1782.3 704.4H1806.5V727.1H1782.3ZM1877.8 726.8H1902V749.5H1877.8Z"/>
<path fill="#ebf7c6" d="M1854 145H1925.9V167.7H1854ZM2021.1 145H2045.3V167.7H2021.1ZM2260 145H2331.9V167.7H2260ZM1854 167.4H1949.8V190H1854ZM2045 167.4H2117V190H2045ZM2212.2 167.4H2284.2V190H2212.2ZM2307.7 167.4H2331.9V190H2307.7ZM1877.8 189.7H1902V212.4H1877.8ZM2116.7 189.7H2236.4V212.4H2116.7ZM2307.7 189.7H2331.9V212.4H2307.7ZM1877.8 212.1H1902V234.8H1877.8ZM1854 234.5H1902V257.2H1854ZM1854 256.9H1878.1V279.6H1854ZM1877.8 279.3H1902V301.9H1877.8ZM2068.9 324H2140.9V346.7H2068.9ZM1997.2 346.4H2021.4V369.1H1997.2ZM2068.9 346.4H2093.1V369.1H2068.9ZM2116.7 346.4H2140.9V369.1H2116.7ZM1997.2 368.8H2021.4V391.4H1997.2ZM2068.9 368.8H2117V391.4H2068.9ZM2164.4 368.8H2212.5V391.4H2164.4ZM1997.2 391.1H2021.4V413.8H1997.2ZM2068.9 391.1H2117V413.8H2068.9ZM2164.4 391.1H2212.5V413.8H2164.4ZM2188.3 413.5H2212.5V436.2H2188.3ZM2045 435.9H2069.2V458.6H2045ZM2188.3 435.9H2212.5V458.6H2188.3ZM2260 435.9H2284.2V458.6H2260ZM2021.1 458.3H2045.3V481H2021.1ZM2188.3 458.3H2212.5V481H2188.3ZM2283.8 458.3H2331.9V481H2283.8ZM2045 480.7H2069.2V503.3H2045ZM2164.4 480.7H2188.6V503.3H2164.4ZM1854 503H1902V525.7H1854ZM2140.6 503H2164.7V525.7H2140.6ZM2283.8 503H2308V525.7H2283.8ZM2140.6 525.4H2164.7V548.1H2140.6ZM2331.6 525.4H2355.8V548.1H2331.6ZM2140.6 547.8H2188.6V570.5H2140.6ZM2140.6 570.2H2188.6V592.8H2140.6ZM2116.7 592.5H2140.9V615.2H2116.7ZM1782.3 614.9H1830.4V637.6H1782.3ZM2140.6 614.9H2188.6V637.6H2140.6ZM1782.3 637.3H1806.5V660H1782.3ZM1925.6 637.3H1949.8V660H1925.6ZM2092.8 637.3H2140.9V660H2092.8ZM2164.4 637.3H2188.6V660H2164.4ZM1782.3 659.7H1830.4V682.4H1782.3ZM1925.6 659.7H1973.7V682.4H1925.6ZM2021.1 659.7H2045.3V682.4H2021.1ZM2092.8 659.7H2188.6V682.4H2092.8ZM1758.4 682.1H1806.5V704.7H1758.4ZM1925.6 682.1H1949.8V704.7H1925.6ZM2045 682.1H2188.6V704.7H2045ZM1758.4 704.4H1782.6V727.1H1758.4ZM1925.6 704.4H1949.8V727.1H1925.6ZM2116.7 704.4H2164.7V727.1H2116.7ZM1925.6 726.8H1949.8V749.5H1925.6ZM2260 726.8H2331.9V749.5H2260ZM1925.6 749.2H1949.8V768.7H1925.6ZM2260 749.2H2308V768.7H2260Z"/>
<path fill="#c4e6db" d="M1925.6 145H1949.8V167.7H1925.6ZM1830.1 167.4H1854.2V190H1830.1ZM2021.1 167.4H2045.3V190H2021.1ZM2188.3 167.4H2212.5V190H2188.3ZM1854 189.7H1878.1V212.4H1854ZM2092.8 189.7H2117V212.4H2092.8ZM1830.1 212.1H1878.1V234.8H1830.1ZM1830.1 234.5H1854.2V257.2H1830.1ZM1830.1 256.9H1854.2V279.6H1830.1ZM1830.1 279.3H1854.2V301.9H1830.1ZM1854 301.6H1878.1V324.3H1854ZM1949.5 301.6H1973.7V324.3H1949.5ZM1854 324H1878.1V346.7H1854ZM1949.5 324H1973.7V346.7H1949.5ZM1854 346.4H1902V369.1H1854ZM1949.5 346.4H1997.5V369.1H1949.5ZM1854 368.8H1902V391.4H1854ZM2140.6 368.8H2164.7V391.4H2140.6ZM1830.1 391.1H1902V413.8H1830.1ZM1949.5 391.1H1997.5V413.8H1949.5ZM2140.6 391.1H2164.7V413.8H2140.6ZM1830.1 413.5H1902V436.2H1830.1ZM2092.8 413.5H2117V436.2H2092.8ZM1854 435.9H1878.1V458.6H1854ZM2021.1 435.9H2045.3V458.6H2021.1ZM2092.8 435.9H2117V458.6H2092.8ZM2164.4 435.9H2188.6V458.6H2164.4ZM1854 458.3H1878.1V481H1854ZM2045 458.3H2069.2V481H2045ZM2164.4 458.3H2188.6V481H2164.4ZM2331.6 458.3H2355.8V481H2331.6ZM1854 480.7H1878.1V503.3H1854ZM2140.6 480.7H2164.7V503.3H2140.6ZM2307.7 480.7H2355.8V503.3H2307.7ZM2045 503H2069.2V525.7H2045ZM2116.7 503H2140.9V525.7H2116.7ZM1806.2 525.4H1830.4V548.1H1806.2ZM2045 525.4H2069.2V548.1H2045ZM2092.8 525.4H2140.9V548.1H2092.8ZM2307.7 525.4H2331.9V548.1H2307.7ZM1806.2 547.8H1830.4V570.5H1806.2ZM2116.7 547.8H2140.9V570.5H2116.7ZM1782.3 570.2H1806.5V592.8H1782.3ZM2116.7 570.2H2140.9V592.8H2116.7ZM1782.3 592.5H1806.5V615.2H1782.3ZM1925.6 614.9H1973.7V637.6H1925.6ZM2092.8 614.9H2140.9V637.6H2092.8ZM1949.5 637.3H1997.5V660H1949.5ZM2068.9 637.3H2093.1V660H2068.9ZM2140.6 637.3H2164.7V660H2140.6ZM1758.4 659.7H1782.6V682.4H1758.4ZM1973.4 659.7H2021.4V682.4H1973.4ZM2045 659.7H2093.1V682.4H2045ZM1806.2 682.1H1830.4V704.7H1806.2ZM1901.7 682.1H1925.9V704.7H1901.7ZM1901.7 704.4H1925.9V727.1H1901.7ZM1758.4 726.8H1782.6V749.5H1758.4ZM1901.7 726.8H1925.9V749.5H1901.7ZM1758.4 749.2H1782.6V768.7H1758.4ZM1901.7 749.2H1925.9V768.7H1901.7Z"/>
<path fill="#ffefaa" d="M1949.5 145H1973.7V167.7H1949.5ZM1997.2 145H2021.4V167.7H1997.2ZM2331.6 145H2355.8V167.7H2331.6ZM1949.5 167.4H1973.7V190H1949.5ZM1997.2 167.4H2021.4V190H1997.2ZM2331.6 167.4H2355.8V190H2331.6ZM1830.1 189.7H1854.2V212.4H1830.1ZM1901.7 189.7H1925.9V212.4H1901.7ZM1973.4 189.7H1997.5V212.4H1973.4ZM2021.1 189.7H2093.1V212.4H2021.1ZM2331.6 189.7H2355.8V212.4H2331.6ZM1901.7 212.1H1925.9V234.8H1901.7ZM2092.8 212.1H2236.4V234.8H2092.8ZM2331.6 212.1H2355.8V234.8H2331.6ZM2188.3 234.5H2236.4V257.2H2188.3ZM2331.6 234.5H2355.8V257.2H2331.6ZM1877.8 256.9H1902V279.6H1877.8ZM1854 279.3H1878.1V301.9H1854ZM1925.6 301.6H1949.8V324.3H1925.6ZM1877.8 324H1902V346.7H1877.8ZM1973.4 324H1997.5V346.7H1973.4ZM2140.6 346.4H2212.5V369.1H2140.6ZM1901.7 368.8H1925.9V391.4H1901.7ZM2021.1 368.8H2045.3V391.4H2021.1ZM2212.2 368.8H2236.4V391.4H2212.2ZM1901.7 391.1H1925.9V413.8H1901.7ZM2021.1 391.1H2069.2V413.8H2021.1ZM2212.2 391.1H2284.2V413.8H2212.2ZM2212.2 413.5H2284.2V436.2H2212.2ZM1877.8 435.9H1902V458.6H1877.8ZM2212.2 435.9H2260.3V458.6H2212.2ZM2283.8 435.9H2355.8V458.6H2283.8ZM2212.2 458.3H2284.2V481H2212.2ZM2188.3 480.7H2308V503.3H2188.3ZM2164.4 503H2284.2V525.7H2164.4ZM1830.1 525.4H1854.2V548.1H1830.1ZM2164.4 525.4H2260.3V548.1H2164.4ZM2283.8 525.4H2308V548.1H2283.8ZM2188.3 547.8H2236.4V570.5H2188.3ZM2307.7 547.8H2355.8V570.5H2307.7ZM1806.2 570.2H1854.2V592.8H1806.2ZM2188.3 570.2H2236.4V592.8H2188.3ZM1806.2 592.5H1878.1V615.2H1806.2ZM2140.6 592.5H2212.5V615.2H2140.6ZM2188.3 614.9H2212.5V637.6H2188.3ZM1806.2 637.3H1830.4V660H1806.2ZM2188.3 637.3H2236.4V660H2188.3ZM1830.1 659.7H1854.2V682.4H1830.1ZM2188.3 659.7H2236.4V682.4H2188.3ZM2283.8 659.7H2355.8V682.4H2283.8ZM1949.5 682.1H2045.3V704.7H1949.5ZM2188.3 682.1H2355.8V704.7H2188.3ZM1949.5 704.4H2117V727.1H1949.5ZM2164.4 704.4H2355.8V727.1H2164.4ZM1949.5 726.8H2260.3V749.5H1949.5ZM2331.6 726.8H2355.8V749.5H2331.6ZM1949.5 749.2H2260.3V768.7H1949.5ZM2307.7 749.2H2355.8V768.7H2307.7Z"/>
<path fill="#fec980" d="M1973.4 145H1997.5V167.7H1973.4ZM1973.4 167.4H1997.5V190H1973.4ZM2283.8 167.4H2308V190H2283.8ZM1925.6 189.7H1949.8V212.4H1925.6ZM1997.2 189.7H2021.4V212.4H1997.2ZM1973.4 212.1H2045.3V234.8H1973.4ZM2068.9 212.1H2093.1V234.8H2068.9ZM2140.6 234.5H2164.7V257.2H2140.6ZM2236.1 234.5H2260.3V257.2H2236.1ZM2188.3 256.9H2236.4V279.6H2188.3ZM1925.6 279.3H1973.7V301.9H1925.6ZM1877.8 301.6H1902V324.3H1877.8ZM1925.6 324H1949.8V346.7H1925.6ZM1997.2 324H2021.4V346.7H1997.2ZM2140.6 324H2212.5V346.7H2140.6ZM1901.7 346.4H1925.9V369.1H1901.7ZM2021.1 346.4H2045.3V369.1H2021.1ZM2236.1 368.8H2260.3V391.4H2236.1ZM2307.7 368.8H2331.9V391.4H2307.7ZM2283.8 391.1H2331.9V413.8H2283.8ZM1901.7 413.5H1925.9V436.2H1901.7ZM2283.8 413.5H2355.8V436.2H2283.8ZM1877.8 458.3H1902V481H1877.8ZM1854 525.4H1902V548.1H1854ZM2260 525.4H2284.2V548.1H2260ZM1830.1 547.8H1854.2V570.5H1830.1ZM1877.8 547.8H1902V570.5H1877.8ZM2236.1 547.8H2308V570.5H2236.1ZM2236.1 570.2H2355.8V592.8H2236.1ZM2212.2 592.5H2355.8V615.2H2212.2ZM2212.2 614.9H2355.8V637.6H2212.2ZM2236.1 637.3H2355.8V660H2236.1ZM2236.1 659.7H2284.2V682.4H2236.1Z"/>
<path fill="#f99e59" d="M1949.5 189.7H1973.7V212.4H1949.5ZM2236.1 189.7H2308V212.4H2236.1ZM1925.6 212.1H1973.7V234.8H1925.6ZM2045 212.1H2069.2V234.8H2045ZM2236.1 212.1H2260.3V234.8H2236.1ZM2307.7 212.1H2331.9V234.8H2307.7ZM1901.7 234.5H1925.9V257.2H1901.7ZM1973.4 234.5H2045.3V257.2H1973.4ZM2068.9 234.5H2140.9V257.2H2068.9ZM2164.4 234.5H2188.6V257.2H2164.4ZM2307.7 234.5H2331.9V257.2H2307.7ZM1901.7 256.9H1925.9V279.6H1901.7ZM1997.2 256.9H2045.3V279.6H1997.2ZM2236.1 256.9H2260.3V279.6H2236.1ZM2331.6 256.9H2355.8V279.6H2331.6ZM1901.7 279.3H1925.9V301.9H1901.7ZM1973.4 279.3H2045.3V301.9H1973.4ZM1901.7 301.6H1925.9V324.3H1901.7ZM1973.4 301.6H2140.9V324.3H1973.4ZM1901.7 324H1925.9V346.7H1901.7ZM2021.1 324H2069.2V346.7H2021.1ZM2212.2 324H2236.4V346.7H2212.2ZM2260 324H2284.2V346.7H2260ZM1925.6 346.4H1949.8V369.1H1925.6ZM2045 346.4H2069.2V369.1H2045ZM2212.2 346.4H2331.9V369.1H2212.2ZM1925.6 368.8H1949.8V391.4H1925.6ZM2045 368.8H2069.2V391.4H2045ZM2260 368.8H2308V391.4H2260ZM2331.6 368.8H2355.8V391.4H2331.6ZM1925.6 391.1H1949.8V413.8H1925.6ZM2331.6 391.1H2355.8V413.8H2331.6ZM1877.8 480.7H1902V503.3H1877.8ZM1854 547.8H1878.1V570.5H1854ZM1854 570.2H1878.1V592.8H1854Z"/>
<path fill="#e85b3a" d="M2260 212.1H2308V234.8H2260ZM1925.6 234.5H1973.7V257.2H1925.6ZM2260 234.5H2308V257.2H2260ZM1925.6 256.9H1997.5V279.6H1925.6ZM2068.9 256.9H2188.6V279.6H2068.9ZM2260 256.9H2331.9V279.6H2260ZM2045 279.3H2308V301.9H2045ZM2140.6 301.6H2331.9V324.3H2140.6ZM2236.1 324H2260.3V346.7H2236.1ZM2283.8 324H2355.8V346.7H2283.8ZM2331.6 346.4H2355.8V369.1H2331.6Z"/>
<path fill="#d7191c" d="M2045 234.5H2069.2V257.2H2045ZM2045 256.9H2069.2V279.6H2045ZM2307.7 279.3H2355.8V301.9H2307.7ZM2331.6 301.6H2355.8V324.3H2331.6Z"/>
<path d="M1831 246L1853 240L1874 227L1887 212L1896 190L1909 173L1930 164L1947 156L1956 147M1926 229L1934 212L1947 199L1965 190L1978 201L1991 214L2012 218L2038 214L2055 208L2077 216L2094 221L2120 216L2146 214L2176 212L2197 208L2219 199L2241 190L2262 186L2284 182L2305 186L2322 199L2340 221L2353 242L2370 246M2038 147L2051 164L2068 177L2090 186L2111 195L2137 199L2159 195L2185 188L2210 182L2236 173L2258 164L2279 160L2297 164L2314 173L2335 195L2348 216L2361 238L2374 242M1922 246L1939 238L1960 240L1982 246L2003 249L2025 244L2047 240L2068 251L2090 259L2116 259L2141 257L2167 259L2189 264L2210 255L2228 238L2245 225L2266 216L2288 214L2305 221L2318 238L2331 259L2344 277L2361 281M1930 259L1956 255L1982 259L2008 264L2034 259L2060 255L2081 266L2107 272L2137 270L2167 272L2193 277L2215 268L2236 251L2254 238L2275 229L2292 231L2305 246L2318 268L2335 290L2357 298M1891 272L1904 259L1922 255L1939 259L1960 264L1982 268L1995 277L2008 294L2021 315L2029 337L2025 354L2008 359L1991 346L1982 328L1978 315M1883 302L1896 294L1904 277L1913 259M1887 315L1904 333L1917 354L1926 376L1930 397L1922 415L1909 427L1904 440M1913 255L1922 277L1926 302L1930 324L1934 346L1939 367L1943 389L1934 406M1922 259L1932 281L1939 307L1944 333L1950 359L1956 380L1952 397M1978 320L1991 333L2008 346L2021 354L2038 371L2051 384L2068 389L2094 393L2107 402L2094 406L2068 402L2042 389L2021 380L2012 376M1939 449L1922 475L1913 505L1917 540L1930 565L1956 583L1982 587L2008 574L2021 548L2025 518L2016 488L1999 462L1978 445L1956 440L1939 449M1947 466L1934 492L1930 518L1939 544L1956 561L1982 565L1999 553L2008 527L2003 501L1991 475L1969 462L1947 466M1926 427L1904 458L1896 501L1900 544L1917 578L1947 600L1986 604L2021 591L2038 561L2042 518L2034 479L2012 449L1982 427L1952 419L1926 427M1840 583L1853 587L1870 589L1874 600L1866 609L1844 606L1835 596L1840 583M1844 622L1861 617L1883 622L1891 639L1887 660L1878 682L1866 686L1853 669L1844 647L1844 622M1853 630L1870 628L1881 643L1876 665L1866 675L1857 660L1853 630M1805 734L1822 729L1844 734L1861 747L1870 764L1874 777M1818 742L1835 742L1848 755L1853 777M1947 777L1952 751L1960 729L1982 721L2008 716L2034 708L2060 703L2085 708L2111 716L2137 721L2159 716L2180 703L2197 686L2215 673L2232 669M1991 777L1999 755L2016 742L2038 738L2068 738L2094 734L2111 742L2120 759L2128 777M2189 777L2197 755L2215 742L2236 725L2254 708L2271 691L2292 678L2314 669L2340 660L2370 656M2154 602L2197 600L2232 591L2258 578L2275 561L2284 553L2305 561L2327 570L2353 574L2374 574M2215 604L2236 613L2258 630L2275 639M2305 505L2322 501L2344 505L2357 514L2344 522L2322 520L2305 514L2305 505M2055 669L2077 665L2103 669L2081 673L2055 669M2090 354L2111 346L2137 337L2163 341L2176 354M2120 380L2133 371L2154 376L2163 393L2154 410L2137 415M1831 544L1848 535L1866 527L1883 518L1896 509M1844 561L1861 557L1878 548L1891 540M1809 647L1818 652L1809 673L1801 691L1809 699M1904 647L1915 639L1922 660L1917 686L1909 699L1902 678L1904 647M2008 596L2025 604L2047 609L2064 622L2051 630L2029 626L2012 613L2008 596M2172 488L2189 475L2206 471L2228 462L2249 453M2068 544L2081 553L2090 565L2081 578L2070 570L2068 544" fill="none" stroke="#e8412c" stroke-opacity=".8" stroke-width="1.4" stroke-linejoin="round"/>
<path d="M1782.3 145V768.4M1925.6 145V768.4M2068.9 145V768.4M2212.2 145V768.4M2355.5 145V768.4M1691 234.5H2360M1691 368.8H2360M1691 503H2360M1691 637.3H2360" fill="none" stroke="#1a1a1a" stroke-opacity="0.8" stroke-width="2" stroke-dasharray="2.5 8.5"/>
<use href="#brd" stroke-width="3.0" transform="translate(1782.3 234.5) scale(0.47767 0.44756)"/>

<g class="cl"><text x="1883" y="199" transform="rotate(-80 1883 199)" dy="5">10</text><text x="1945" y="193" transform="rotate(-20 1945 193)" dy="5">20</text><text x="2165" y="186" transform="rotate(-10 2165 186)" dy="5">10</text><text x="1904" y="285" transform="rotate(-85 1904 285)" dy="5">30</text><text x="1978" y="333" transform="rotate(30 1978 333)" dy="5">50</text><text x="1937" y="354" transform="rotate(80 1937 354)" dy="5">40</text><text x="1855" y="356" transform="rotate(80 1855 356)" dy="5">10</text><text x="2059" y="393" transform="rotate(10 2059 393)" dy="5">50</text><text x="2264" y="289" transform="rotate(80 2264 289)" dy="5">50</text><text x="1978" y="456" transform="rotate(85 1978 456)" dy="5">10</text><text x="1929" y="481" transform="rotate(-80 1929 481)" dy="5">20</text><text x="1952" y="502" transform="rotate(60 1952 502)" dy="5">20</text><text x="1943" y="533" transform="rotate(80 1943 533)" dy="5">10</text><text x="2001" y="514" transform="rotate(90 2001 514)" dy="5">10</text><text x="1887" y="507" transform="rotate(80 1887 507)" dy="5">30</text><text x="1844" y="525" transform="rotate(-50 1844 525)" dy="5">20</text><text x="1881" y="550" transform="rotate(-80 1881 550)" dy="5">40</text><text x="1919" y="578" transform="rotate(-20 1919 578)" dy="5">20</text><text x="1857" y="597" transform="rotate(0 1857 597)" dy="5">40</text><text x="2136" y="480" transform="rotate(85 2136 480)" dy="5">30</text><text x="2317" y="512" transform="rotate(50 2317 512)" dy="5">30</text><text x="2075" y="570" transform="rotate(80 2075 570)" dy="5">30</text><text x="1946" y="624" transform="rotate(80 1946 624)" dy="5">40</text><text x="1865" y="639" transform="rotate(80 1865 639)" dy="5">20</text><text x="1872" y="674" transform="rotate(70 1872 674)" dy="5">30</text><text x="1912" y="677" transform="rotate(85 1912 677)" dy="5">40</text><text x="1797" y="669" transform="rotate(-75 1797 669)" dy="5">30</text><text x="1850" y="703" transform="rotate(-50 1850 703)" dy="5">30</text><text x="1874" y="736" transform="rotate(60 1874 736)" dy="5">30</text><text x="1790" y="751" transform="rotate(-75 1790 751)" dy="5">20</text><text x="1846" y="764" transform="rotate(80 1846 764)" dy="5">10</text><text x="2081" y="664" transform="rotate(0 2081 664)" dy="5">40</text><text x="2047" y="723" transform="rotate(0 2047 723)" dy="5">20</text><text x="2161" y="712" transform="rotate(-20 2161 712)" dy="5">30</text><text x="2260" y="695" transform="rotate(-50 2260 695)" dy="5">20</text></g>


</g>
<g class="tk"><text x="1782.3" y="800.4" text-anchor="middle">12°0'E</text><text x="1925.6" y="800.4" text-anchor="middle">15°0'E</text><text x="2068.9" y="800.4" text-anchor="middle">18°0'E</text><text x="2212.2" y="800.4" text-anchor="middle">21°0'E</text><text x="2355.5" y="800.4" text-anchor="middle">24°0'E</text><text x="1670" y="240" text-anchor="end">6°0'S</text><text x="1670" y="374.3" text-anchor="end">9°0'S</text><text x="1670" y="508.5" text-anchor="end">12°0'S</text><text x="1670" y="642.8" text-anchor="end">15°0'S</text></g>
</g>
<g id="p_d">
<clipPath id="clip_d"><rect x="107" y="970" width="700" height="602.2"/></clipPath>
<rect x="98.6" y="961.6" width="716.8" height="619" fill="#fff" stroke="#222" stroke-width="1.2"/>
<rect x="106.4" y="969.4" width="701.2" height="603.4" fill="none" stroke="#222" stroke-width="1.2"/>
<path fill="#000" d="M107 961H202.3V970H107ZM107 1572.2H202.3V1581.2H107ZM351.9 961H501.4V970H351.9ZM351.9 1572.2H501.4V1581.2H351.9ZM651 961H800.5V970H651ZM651 1572.2H800.5V1581.2H651ZM98 970H107V1048H98ZM807 970H816V1048H807ZM98 1179.4H107V1310.8H98ZM807 1179.4H816V1310.8H807ZM98 1442.2H107V1572.2H98ZM807 1442.2H816V1572.2H807Z"/>
<g clip-path="url(#clip_d)">
<path fill="#d7191c" d="M152.5 970H800.8V982.6H152.5ZM177.4 982.3H800.8V1004.5H177.4ZM202.3 1004.2H352.2V1026.4H202.3ZM401.7 1004.2H800.8V1026.4H401.7ZM202.3 1026.1H327.2V1048.3H202.3ZM401.7 1026.1H800.8V1048.3H401.7ZM202.3 1048H302.3V1070.2H202.3ZM426.6 1048H476.8V1070.2H426.6ZM501.4 1048H726V1070.2H501.4ZM750.7 1048H800.8V1070.2H750.7ZM227.2 1069.9H277.4V1092.1H227.2ZM426.6 1069.9H476.8V1092.1H426.6ZM501.4 1069.9H676.2V1092.1H501.4ZM700.8 1069.9H726V1092.1H700.8ZM750.7 1069.9H800.8V1092.1H750.7ZM227.2 1091.8H277.4V1114H227.2ZM426.6 1091.8H501.7V1114H426.6ZM601.1 1091.8H701.1V1114H601.1ZM775.6 1091.8H800.8V1114H775.6ZM252.2 1113.7H277.4V1135.9H252.2ZM426.6 1113.7H526.6V1135.9H426.6ZM576.2 1113.7H800.8V1135.9H576.2ZM252.2 1135.6H302.3V1157.8H252.2ZM426.6 1135.6H501.7V1157.8H426.6ZM651 1135.6H800.8V1157.8H651ZM252.2 1157.5H302.3V1179.7H252.2ZM401.7 1157.5H501.7V1179.7H401.7ZM601.1 1157.5H626.3V1179.7H601.1ZM651 1157.5H800.8V1179.7H651ZM252.2 1179.4H327.2V1201.6H252.2ZM401.7 1179.4H451.9V1201.6H401.7ZM476.5 1179.4H501.7V1201.6H476.5ZM601.1 1179.4H800.8V1201.6H601.1ZM252.2 1201.3H327.2V1223.5H252.2ZM401.7 1201.3H451.9V1223.5H401.7ZM476.5 1201.3H526.6V1223.5H476.5ZM601.1 1201.3H800.8V1223.5H601.1ZM252.2 1223.2H327.2V1245.4H252.2ZM626 1223.2H800.8V1245.4H626ZM277.1 1245.1H302.3V1267.3H277.1ZM626 1245.1H775.9V1267.3H626ZM277.1 1267H302.3V1289.2H277.1ZM651 1267H751V1289.2H651ZM277.1 1288.9H302.3V1311.1H277.1ZM651 1288.9H701.1V1311.1H651ZM252.2 1310.8H277.4V1333H252.2ZM252.2 1332.7H277.4V1354.9H252.2ZM700.8 1332.7H726V1354.9H700.8ZM451.6 1507.9H476.8V1530.1H451.6ZM426.6 1529.8H476.8V1552H426.6ZM426.6 1551.7H451.9V1572.5H426.6Z"/>
<path fill="#ec6a41" d="M351.9 1004.2H402V1026.4H351.9ZM326.9 1026.1H352.2V1048.3H326.9ZM376.8 1026.1H402V1048.3H376.8ZM302 1048H327.2V1070.2H302ZM401.7 1048H426.9V1070.2H401.7ZM302 1069.9H327.2V1092.1H302ZM302 1091.8H327.2V1114H302ZM401.7 1091.8H426.9V1114H401.7ZM277.1 1113.7H302.3V1135.9H277.1ZM401.7 1113.7H426.9V1135.9H401.7ZM302 1135.6H327.2V1157.8H302ZM401.7 1135.6H426.9V1157.8H401.7ZM302 1157.5H327.2V1179.7H302ZM376.8 1157.5H402V1179.7H376.8ZM376.8 1179.4H402V1201.6H376.8ZM326.9 1201.3H352.2V1223.5H326.9ZM451.6 1201.3H476.8V1223.5H451.6ZM426.6 1223.2H476.8V1245.4H426.6ZM302 1245.1H327.2V1267.3H302ZM451.6 1245.1H476.8V1267.3H451.6ZM576.2 1245.1H601.4V1267.3H576.2ZM501.4 1267H551.5V1289.2H501.4ZM750.7 1267H800.8V1289.2H750.7ZM476.5 1288.9H551.5V1311.1H476.5ZM725.7 1288.9H751V1311.1H725.7ZM576.2 1310.8H651.2V1333H576.2ZM576.2 1332.7H601.4V1354.9H576.2ZM626 1332.7H651.2V1354.9H626ZM725.7 1332.7H751V1354.9H725.7ZM227.2 1354.6H252.5V1376.8H227.2ZM601.1 1354.6H626.3V1376.8H601.1ZM775.6 1354.6H800.8V1376.8H775.6ZM576.2 1376.5H676.2V1398.7H576.2ZM576.2 1398.4H651.2V1420.6H576.2ZM626 1420.3H651.2V1442.5H626ZM675.9 1442.2H701.1V1464.4H675.9ZM651 1464.1H701.1V1486.3H651ZM401.7 1486H526.6V1508.2H401.7ZM675.9 1486H701.1V1508.2H675.9ZM426.6 1507.9H451.9V1530.1H426.6ZM526.3 1507.9H551.5V1530.1H526.3ZM626 1507.9H701.1V1530.1H626ZM526.3 1529.8H551.5V1552H526.3ZM626 1529.8H651.2V1552H626ZM376.8 1551.7H402V1572.5H376.8ZM501.4 1551.7H651.2V1572.5H501.4Z"/>
<path fill="#f6975a" d="M351.9 1026.1H377.1V1048.3H351.9ZM326.9 1048H352.2V1070.2H326.9ZM376.8 1048H402V1070.2H376.8ZM277.1 1069.9H302.3V1092.1H277.1ZM326.9 1069.9H352.2V1092.1H326.9ZM376.8 1069.9H426.9V1092.1H376.8ZM376.8 1135.6H402V1157.8H376.8ZM326.9 1179.4H352.2V1201.6H326.9ZM376.8 1201.3H402V1223.5H376.8ZM401.7 1223.2H426.9V1245.4H401.7ZM426.6 1245.1H451.9V1267.3H426.6ZM451.6 1267H476.8V1289.2H451.6ZM601.1 1267H626.3V1289.2H601.1ZM601.1 1288.9H626.3V1311.1H601.1ZM750.7 1288.9H775.9V1311.1H750.7ZM202.3 1398.4H227.5V1420.6H202.3ZM576.2 1420.3H626.3V1442.5H576.2ZM626 1442.2H676.2V1464.4H626ZM376.8 1464.1H402V1486.3H376.8ZM451.6 1464.1H476.8V1486.3H451.6ZM526.3 1486H601.4V1508.2H526.3ZM626 1486H651.2V1508.2H626ZM351.9 1507.9H377.1V1530.1H351.9ZM551.2 1507.9H626.3V1530.1H551.2ZM351.9 1529.8H377.1V1552H351.9ZM551.2 1529.8H576.5V1552H551.2ZM351.9 1551.7H377.1V1572.5H351.9Z"/>
<path fill="#ffe9a5" d="M351.9 1048H377.1V1070.2H351.9ZM351.9 1069.9H377.1V1092.1H351.9ZM302 1113.7H327.2V1135.9H302ZM351.9 1157.5H377.1V1179.7H351.9ZM351.9 1179.4H377.1V1201.6H351.9ZM351.9 1201.3H377.1V1223.5H351.9ZM426.6 1267H451.9V1289.2H426.6ZM451.6 1288.9H476.8V1311.1H451.6ZM551.2 1288.9H576.5V1311.1H551.2ZM451.6 1310.8H476.8V1333H451.6ZM750.7 1310.8H800.8V1333H750.7ZM277.1 1332.7H302.3V1354.9H277.1ZM451.6 1332.7H526.6V1354.9H451.6ZM252.2 1354.6H327.2V1376.8H252.2ZM451.6 1354.6H551.5V1376.8H451.6ZM227.2 1376.5H252.5V1398.7H227.2ZM451.6 1376.5H501.7V1398.7H451.6ZM526.3 1376.5H576.5V1398.7H526.3ZM227.2 1398.4H252.5V1420.6H227.2ZM277.1 1398.4H302.3V1420.6H277.1ZM526.3 1398.4H551.5V1420.6H526.3ZM426.6 1420.3H451.9V1442.5H426.6ZM526.3 1420.3H551.5V1442.5H526.3ZM227.2 1442.2H252.5V1464.4H227.2ZM302 1442.2H327.2V1464.4H302ZM451.6 1442.2H476.8V1464.4H451.6ZM302 1464.1H327.2V1486.3H302ZM601.1 1464.1H626.3V1486.3H601.1ZM326.9 1507.9H352.2V1530.1H326.9ZM326.9 1529.8H352.2V1552H326.9ZM326.9 1551.7H352.2V1572.5H326.9Z"/>
<path fill="#e1402e" d="M476.5 1048H501.7V1070.2H476.5ZM725.7 1048H751V1070.2H725.7ZM476.5 1069.9H501.7V1092.1H476.5ZM675.9 1069.9H701.1V1092.1H675.9ZM725.7 1069.9H751V1092.1H725.7ZM501.4 1091.8H601.4V1114H501.4ZM700.8 1091.8H775.9V1114H700.8ZM526.3 1113.7H576.5V1135.9H526.3ZM501.4 1135.6H651.2V1157.8H501.4ZM501.4 1157.5H601.4V1179.7H501.4ZM626 1157.5H651.2V1179.7H626ZM451.6 1179.4H476.8V1201.6H451.6ZM501.4 1179.4H601.4V1201.6H501.4ZM526.3 1201.3H601.4V1223.5H526.3ZM476.5 1223.2H626.3V1245.4H476.5ZM476.5 1245.1H576.5V1267.3H476.5ZM601.1 1245.1H626.3V1267.3H601.1ZM775.6 1245.1H800.8V1267.3H775.6ZM476.5 1267H501.7V1289.2H476.5ZM626 1267H651.2V1289.2H626ZM626 1288.9H651.2V1311.1H626ZM700.8 1288.9H726V1311.1H700.8ZM277.1 1310.8H302.3V1333H277.1ZM651 1310.8H726V1333H651ZM227.2 1332.7H252.5V1354.9H227.2ZM601.1 1332.7H626.3V1354.9H601.1ZM651 1332.7H701.1V1354.9H651ZM576.2 1354.6H601.4V1376.8H576.2ZM626 1354.6H775.9V1376.8H626ZM202.3 1376.5H227.5V1398.7H202.3ZM675.9 1376.5H800.8V1398.7H675.9ZM651 1398.4H800.8V1420.6H651ZM651 1420.3H800.8V1442.5H651ZM700.8 1442.2H800.8V1464.4H700.8ZM700.8 1464.1H800.8V1486.3H700.8ZM376.8 1486H402V1508.2H376.8ZM700.8 1486H800.8V1508.2H700.8ZM376.8 1507.9H426.9V1530.1H376.8ZM476.5 1507.9H526.6V1530.1H476.5ZM700.8 1507.9H800.8V1530.1H700.8ZM376.8 1529.8H426.9V1552H376.8ZM476.5 1529.8H526.6V1552H476.5ZM651 1529.8H800.8V1552H651ZM401.7 1551.7H426.9V1572.5H401.7ZM451.6 1551.7H501.7V1572.5H451.6ZM651 1551.7H800.8V1572.5H651Z"/>
<path fill="#fdbe70" d="M277.1 1091.8H302.3V1114H277.1ZM326.9 1091.8H352.2V1114H326.9ZM376.8 1091.8H402V1114H376.8ZM326.9 1113.7H352.2V1135.9H326.9ZM376.8 1113.7H402V1135.9H376.8ZM326.9 1135.6H377.1V1157.8H326.9ZM326.9 1157.5H352.2V1179.7H326.9ZM302 1267H327.2V1289.2H302ZM551.2 1267H601.4V1289.2H551.2ZM576.2 1288.9H601.4V1311.1H576.2ZM775.6 1288.9H800.8V1311.1H775.6ZM476.5 1310.8H576.5V1333H476.5ZM725.7 1310.8H751V1333H725.7ZM526.3 1332.7H576.5V1354.9H526.3ZM750.7 1332.7H800.8V1354.9H750.7ZM551.2 1354.6H576.5V1376.8H551.2ZM277.1 1376.5H302.3V1398.7H277.1ZM252.2 1398.4H277.4V1420.6H252.2ZM551.2 1398.4H576.5V1420.6H551.2ZM202.3 1420.3H227.5V1442.5H202.3ZM551.2 1420.3H576.5V1442.5H551.2ZM202.3 1442.2H227.5V1464.4H202.3ZM326.9 1442.2H451.9V1464.4H326.9ZM501.4 1442.2H626.3V1464.4H501.4ZM326.9 1464.1H377.1V1486.3H326.9ZM401.7 1464.1H451.9V1486.3H401.7ZM476.5 1464.1H601.4V1486.3H476.5ZM626 1464.1H651.2V1486.3H626ZM326.9 1486H377.1V1508.2H326.9ZM601.1 1486H626.3V1508.2H601.1ZM651 1486H676.2V1508.2H651ZM576.2 1529.8H626.3V1552H576.2Z"/>
<path fill="#ffffbf" d="M351.9 1091.8H377.1V1114H351.9ZM351.9 1113.7H377.1V1135.9H351.9ZM376.8 1223.2H402V1245.4H376.8ZM401.7 1245.1H426.9V1267.3H401.7ZM302 1288.9H327.2V1311.1H302ZM426.6 1332.7H451.9V1354.9H426.6ZM326.9 1354.6H352.2V1376.8H326.9ZM426.6 1354.6H451.9V1376.8H426.6ZM252.2 1376.5H277.4V1398.7H252.2ZM376.8 1376.5H451.9V1398.7H376.8ZM501.4 1376.5H526.6V1398.7H501.4ZM302 1398.4H526.6V1420.6H302ZM227.2 1420.3H252.5V1442.5H227.2ZM277.1 1420.3H426.9V1442.5H277.1ZM451.6 1420.3H476.8V1442.5H451.6ZM501.4 1420.3H526.6V1442.5H501.4ZM277.1 1442.2H302.3V1464.4H277.1ZM476.5 1442.2H501.7V1464.4H476.5ZM177.4 1464.1H227.5V1486.3H177.4ZM252.2 1464.1H277.4V1486.3H252.2ZM302 1486H327.2V1508.2H302ZM302 1507.9H327.2V1530.1H302Z"/>
<path fill="#c9e6dc" d="M326.9 1223.2H377.1V1245.4H326.9ZM401.7 1267H426.9V1289.2H401.7ZM401.7 1288.9H451.9V1311.1H401.7ZM376.8 1310.8H451.9V1333H376.8ZM302 1332.7H327.2V1354.9H302ZM376.8 1332.7H426.9V1354.9H376.8ZM351.9 1354.6H426.9V1376.8H351.9ZM302 1376.5H377.1V1398.7H302ZM252.2 1420.3H277.4V1442.5H252.2ZM476.5 1420.3H501.7V1442.5H476.5ZM252.2 1442.2H277.4V1464.4H252.2ZM227.2 1464.1H252.5V1486.3H227.2ZM277.1 1464.1H302.3V1486.3H277.1ZM277.1 1486H302.3V1508.2H277.1ZM302 1529.8H327.2V1552H302Z"/>
<path fill="#a3cfe5" d="M326.9 1245.1H402V1267.3H326.9ZM326.9 1267H402V1289.2H326.9ZM326.9 1288.9H402V1311.1H326.9ZM302 1310.8H352.2V1333H302ZM326.9 1332.7H377.1V1354.9H326.9ZM177.4 1486H227.5V1508.2H177.4ZM277.1 1507.9H302.3V1530.1H277.1ZM277.1 1529.8H302.3V1552H277.1ZM302 1551.7H327.2V1572.5H302Z"/>
<path fill="#6aa6d1" d="M351.9 1310.8H377.1V1333H351.9ZM227.2 1486H277.4V1508.2H227.2ZM177.4 1507.9H202.6V1530.1H177.4ZM252.2 1507.9H277.4V1530.1H252.2ZM277.1 1551.7H302.3V1572.5H277.1Z"/>
<path fill="#2c7bb6" d="M202.3 1507.9H252.5V1530.1H202.3ZM177.4 1529.8H277.4V1552H177.4ZM177.4 1551.7H277.4V1572.5H177.4Z"/>

<path d="M202.3 970V1572.2M351.9 970V1572.2M501.4 970V1572.2M651 970V1572.2M800.5 970V1572.2M107 1048H807M107 1179.4H807M107 1310.8H807M107 1442.2H807" fill="none" stroke="#1a1a1a" stroke-opacity="0.8" stroke-width="2" stroke-dasharray="2.5 8.5"/>
<use href="#brd" stroke-width="2.2" transform="translate(202.3 1048) scale(0.49850 0.43800)"/>
<g class="lab" font-size="23.5"><text x="178.4" y="1015.1" textLength="93">Cabinda</text><text x="251.2" y="1069.9" textLength="57.7">Zaire</text><text x="348.4" y="1069.9" textLength="46.6">Uíge</text><text x="181.4" y="1174.6" textLength="84.2">Luanda</text><text x="241.2" y="1216.6" textLength="65.4">Bengo</text><text x="225.2" y="1267.4" textLength="126.4">Cuanza Sul</text><text x="366.3" y="1203.5" textLength="88.7">Malanje</text><text x="315.5" y="1190.8" textLength="152.7" transform="rotate(-30 315.5 1190.8)">Cuanza Norte</text><text x="484.5" y="1190.8" textLength="139.7">Lunda Norte</text><text x="537.3" y="1252.1" textLength="113">Lunda Sul</text><text x="211.8" y="1346.3" textLength="99.8">Benguela</text><text x="353.8" y="1343.2" textLength="95.3">Huambo</text><text x="318.9" y="1438.7" textLength="59.9">Huíla</text><text x="162.4" y="1458.4" textLength="85.3">Namibe</text><text x="337.9" y="1515.8" textLength="83.1">Cunene</text><text x="452.5" y="1332.7" textLength="35">Bié</text><text x="612.1" y="1356.8" textLength="80.9">Moxico</text><text x="487.9" y="1537.2" textLength="194">Cuando Cubango</text></g>

<rect x="495.7" y="1034" width="234" height="12.3" fill="#fff" stroke="#111" stroke-width="1.5"/><rect x="495.7" y="1034" width="117" height="12.3" fill="#000"/><g class="sb"><text x="496.7" y="1025" text-anchor="middle">0</text><text x="612.7" y="1025" text-anchor="middle">250</text><text x="743.7" y="1025" text-anchor="middle">500 km</text></g>
<path d="M141 971.4L114.5 1030.4L141 1008Z" fill="#dcdcdc"/><path d="M141 971.4L114.5 1030.4L141 1008L167.5 1030.4Z" fill="none" stroke="#111" stroke-width="2.6" stroke-linejoin="miter"/><path d="M141.8 978.4L141.8 1005.5L163 1025.9Z" fill="#fff" stroke="none"/>
</g>
<g class="tk"><text x="202.3" y="1604.2" text-anchor="middle">12°0'E</text><text x="351.9" y="1604.2" text-anchor="middle">15°0'E</text><text x="501.4" y="1604.2" text-anchor="middle">18°0'E</text><text x="651" y="1604.2" text-anchor="middle">21°0'E</text><text x="800.5" y="1604.2" text-anchor="middle">24°0'E</text><text x="86" y="1053.5" text-anchor="end">6°0'S</text><text x="86" y="1184.9" text-anchor="end">9°0'S</text><text x="86" y="1316.3" text-anchor="end">12°0'S</text><text x="86" y="1447.7" text-anchor="end">15°0'S</text></g>
</g>
<g id="p_e">
<clipPath id="clip_e"><rect x="896.8" y="966.3" width="699.2" height="605.3"/></clipPath>
<rect x="888.4" y="957.9" width="716" height="622.1" fill="#fff" stroke="#222" stroke-width="1.2"/>
<rect x="896.2" y="965.7" width="700.4" height="606.5" fill="none" stroke="#222" stroke-width="1.2"/>
<path fill="#000" d="M896.8 957.3H1006V966.3H896.8ZM896.8 1571.6H1006V1580.6H896.8ZM1153.4 957.3H1300.8V966.3H1153.4ZM1153.4 1571.6H1300.8V1580.6H1153.4ZM1448.1 957.3H1595.5V966.3H1448.1ZM1448.1 1571.6H1595.5V1580.6H1448.1ZM887.8 966.3H896.8V1036H887.8ZM1596 966.3H1605V1036H1596ZM887.8 1170.8H896.8V1305.7H887.8ZM1596 1170.8H1605V1305.7H1596ZM887.8 1440.5H896.8V1571.6H887.8ZM1596 1440.5H1605V1571.6H1596Z"/>
<g clip-path="url(#clip_e)">
<path fill="#d7191c" d="M956.9 966.3H1595.8V968.9H956.9ZM981.4 968.6H1595.8V991.4H981.4ZM1006 991.1H1595.8V1013.8H1006ZM1006 1013.5H1595.8V1036.3H1006ZM1006 1036H1595.8V1058.8H1006ZM1030.6 1058.5H1595.8V1081.2H1030.6ZM1030.6 1080.9H1153.7V1103.7H1030.6ZM1177.9 1080.9H1595.8V1103.7H1177.9ZM1055.1 1103.4H1153.7V1126.2H1055.1ZM1202.5 1103.4H1595.8V1126.2H1202.5ZM1055.1 1125.9H1153.7V1148.7H1055.1ZM1177.9 1125.9H1595.8V1148.7H1177.9ZM1055.1 1148.4H1595.8V1171.1H1055.1ZM1055.1 1170.8H1178.2V1193.6H1055.1ZM1202.5 1170.8H1595.8V1193.6H1202.5ZM1055.1 1193.3H1153.7V1216.1H1055.1ZM1227.1 1193.3H1595.8V1216.1H1227.1ZM1055.1 1215.8H1129.1V1238.5H1055.1ZM1251.6 1215.8H1595.8V1238.5H1251.6ZM1079.7 1238.2H1129.1V1261H1079.7ZM1251.6 1238.2H1595.8V1261H1251.6ZM1079.7 1260.7H1129.1V1283.5H1079.7ZM1251.6 1260.7H1595.8V1283.5H1251.6ZM1079.7 1283.2H1104.5V1306H1079.7ZM1276.2 1283.2H1595.8V1306H1276.2ZM1055.1 1305.7H1104.5V1328.4H1055.1ZM1276.2 1305.7H1595.8V1328.4H1276.2ZM1030.6 1328.1H1080V1350.9H1030.6ZM1276.2 1328.1H1595.8V1350.9H1276.2ZM1030.6 1350.6H1055.4V1373.4H1030.6ZM1276.2 1350.6H1301V1373.4H1276.2ZM1325.3 1350.6H1595.8V1373.4H1325.3ZM1006 1373.1H1030.9V1395.9H1006ZM1325.3 1373.1H1595.8V1395.9H1325.3ZM1006 1395.6H1030.9V1418.3H1006ZM1325.3 1395.6H1595.8V1418.3H1325.3ZM1177.9 1418H1202.8V1440.8H1177.9ZM1325.3 1418H1595.8V1440.8H1325.3ZM1153.4 1440.5H1595.8V1463.3H1153.4ZM1128.8 1463H1595.8V1485.7H1128.8ZM1128.8 1485.4H1595.8V1508.2H1128.8ZM1128.8 1507.9H1595.8V1530.7H1128.8ZM1153.4 1530.4H1595.8V1553.2H1153.4ZM1153.4 1552.9H1595.8V1571.9H1153.4Z"/>
<path fill="#e1402e" d="M1153.4 1080.9H1178.2V1103.7H1153.4ZM1153.4 1103.4H1202.8V1126.2H1153.4ZM1153.4 1125.9H1178.2V1148.7H1153.4ZM1177.9 1170.8H1202.8V1193.6H1177.9ZM1153.4 1193.3H1227.4V1216.1H1153.4ZM1128.8 1215.8H1227.4V1238.5H1128.8ZM1227.1 1238.2H1251.9V1261H1227.1ZM1104.2 1283.2H1129.1V1306H1104.2ZM1251.6 1283.2H1276.5V1306H1251.6ZM1251.6 1305.7H1276.5V1328.4H1251.6ZM1079.7 1328.1H1129.1V1350.9H1079.7ZM1251.6 1328.1H1276.5V1350.9H1251.6ZM1055.1 1350.6H1129.1V1373.4H1055.1ZM1227.1 1350.6H1276.5V1373.4H1227.1ZM1300.8 1350.6H1325.6V1373.4H1300.8ZM1030.6 1373.1H1055.4V1395.9H1030.6ZM1079.7 1373.1H1104.5V1395.9H1079.7ZM1177.9 1373.1H1325.6V1395.9H1177.9ZM1030.6 1395.6H1104.5V1418.3H1030.6ZM1128.8 1395.6H1325.6V1418.3H1128.8ZM1006 1418H1030.9V1440.8H1006ZM1153.4 1418H1178.2V1440.8H1153.4ZM1202.5 1418H1325.6V1440.8H1202.5ZM1128.8 1440.5H1153.7V1463.3H1128.8ZM1128.8 1530.4H1153.7V1553.2H1128.8ZM1128.8 1552.9H1153.7V1571.9H1128.8Z"/>
<path fill="#ec6a41" d="M1227.1 1215.8H1251.9V1238.5H1227.1ZM1227.1 1260.7H1251.9V1283.5H1227.1ZM1227.1 1283.2H1251.9V1306H1227.1ZM1177.9 1305.7H1202.8V1328.4H1177.9ZM1128.8 1350.6H1153.7V1373.4H1128.8ZM1177.9 1350.6H1227.4V1373.4H1177.9ZM1055.1 1373.1H1080V1395.9H1055.1ZM1104.2 1395.6H1129.1V1418.3H1104.2ZM1030.6 1418H1055.4V1440.8H1030.6ZM1104.2 1418H1153.7V1440.8H1104.2ZM1006 1440.5H1055.4V1463.3H1006ZM1104.2 1440.5H1129.1V1463.3H1104.2ZM981.4 1463H1006.3V1485.7H981.4ZM1055.1 1463H1080V1485.7H1055.1ZM1104.2 1463H1129.1V1485.7H1104.2ZM1104.2 1485.4H1129.1V1508.2H1104.2ZM1104.2 1507.9H1129.1V1530.7H1104.2ZM1104.2 1530.4H1129.1V1553.2H1104.2Z"/>
<path fill="#fdbe70" d="M1128.8 1238.2H1202.8V1261H1128.8ZM1128.8 1260.7H1202.8V1283.5H1128.8ZM1128.8 1283.2H1153.7V1306H1128.8ZM1153.4 1305.7H1178.2V1328.4H1153.4ZM1128.8 1328.1H1178.2V1350.9H1128.8ZM1055.1 1440.5H1080V1463.3H1055.1ZM981.4 1485.4H1006.3V1508.2H981.4ZM1079.7 1530.4H1104.5V1553.2H1079.7Z"/>
<path fill="#f6975a" d="M1202.5 1238.2H1227.4V1261H1202.5ZM1202.5 1260.7H1227.4V1283.5H1202.5ZM1153.4 1283.2H1227.4V1306H1153.4ZM1104.2 1305.7H1153.7V1328.4H1104.2ZM1202.5 1305.7H1251.9V1328.4H1202.5ZM1177.9 1328.1H1251.9V1350.9H1177.9ZM1153.4 1350.6H1178.2V1373.4H1153.4ZM1104.2 1373.1H1178.2V1395.9H1104.2ZM1055.1 1418H1104.5V1440.8H1055.1ZM1079.7 1440.5H1104.5V1463.3H1079.7ZM1006 1463H1055.4V1485.7H1006ZM1079.7 1463H1104.5V1485.7H1079.7ZM1079.7 1485.4H1104.5V1508.2H1079.7ZM1104.2 1552.9H1129.1V1571.9H1104.2Z"/>
<path fill="#ffe9a5" d="M1006 1485.4H1080V1508.2H1006ZM981.4 1507.9H1006.3V1530.7H981.4ZM1079.7 1507.9H1104.5V1530.7H1079.7Z"/>
<path fill="#ffffbf" d="M1006 1507.9H1080V1530.7H1006ZM1079.7 1552.9H1104.5V1571.9H1079.7Z"/>
<path fill="#c9e6dc" d="M981.4 1530.4H1006.3V1553.2H981.4Z"/>
<path fill="#a3cfe5" d="M1006 1530.4H1030.9V1553.2H1006ZM1055.1 1530.4H1080V1553.2H1055.1ZM981.4 1552.9H1006.3V1571.9H981.4ZM1055.1 1552.9H1080V1571.9H1055.1Z"/>
<path fill="#6aa6d1" d="M1030.6 1530.4H1055.4V1553.2H1030.6ZM1006 1552.9H1055.4V1571.9H1006Z"/>

<path d="M1006 966.3V1571.6M1153.4 966.3V1571.6M1300.8 966.3V1571.6M1448.1 966.3V1571.6M1595.5 966.3V1571.6M896.8 1036H1596M896.8 1170.8H1596M896.8 1305.7H1596M896.8 1440.5H1596" fill="none" stroke="#1a1a1a" stroke-opacity="0.8" stroke-width="2" stroke-dasharray="2.5 8.5"/>
<use href="#brd" stroke-width="2.2" transform="translate(1006 1036) scale(0.49125 0.44944)"/>
<g class="lab" font-size="23.5"><text x="982.4" y="1002.3" textLength="93">Cabinda</text><text x="1054.1" y="1058.5" textLength="57.7">Zaire</text><text x="1149.9" y="1058.5" textLength="46.6">Uíge</text><text x="985.4" y="1165.9" textLength="84.2">Luanda</text><text x="1044.3" y="1209" textLength="65.4">Bengo</text><text x="1028.6" y="1261.2" textLength="126.4">Cuanza Sul</text><text x="1167.6" y="1195.6" textLength="88.7">Malanje</text><text x="1117.5" y="1182.5" textLength="152.7" transform="rotate(-30 1117.5 1182.5)">Cuanza Norte</text><text x="1284" y="1182.5" textLength="139.7">Lunda Norte</text><text x="1336.1" y="1245.4" textLength="113">Lunda Sul</text><text x="1015.3" y="1342.1" textLength="99.8">Benguela</text><text x="1155.3" y="1338.9" textLength="95.3">Huambo</text><text x="1121" y="1436.9" textLength="59.9">Huíla</text><text x="966.7" y="1457.1" textLength="85.3">Namibe</text><text x="1139.6" y="1516" textLength="83.1">Cunene</text><text x="1252.6" y="1328.1" textLength="35">Bié</text><text x="1409.8" y="1352.9" textLength="80.9">Moxico</text><text x="1287.5" y="1538" textLength="194">Cuando Cubango</text></g>

<rect x="1316.8" y="1005.9" width="231.6" height="11.3" fill="#fff" stroke="#111" stroke-width="1.5"/><rect x="1316.8" y="1005.9" width="115.8" height="11.3" fill="#000"/><g class="sb"><text x="1317.8" y="996.3" text-anchor="middle">0</text><text x="1432.6" y="996.3" text-anchor="middle">250</text><text x="1562.4" y="996.3" text-anchor="middle">500 km</text></g>
<path d="M928.7 969L898.4 1038L928.7 1011.8Z" fill="#dcdcdc"/><path d="M928.7 969L898.4 1038L928.7 1011.8L959 1038Z" fill="none" stroke="#111" stroke-width="2.6" stroke-linejoin="miter"/><path d="M929.5 976L929.5 1009.3L954.5 1033.5Z" fill="#fff" stroke="none"/>
</g>
<g class="tk"><text x="1006" y="1603.6" text-anchor="middle">12°0'E</text><text x="1153.4" y="1603.6" text-anchor="middle">15°0'E</text><text x="1300.8" y="1603.6" text-anchor="middle">18°0'E</text><text x="1448.1" y="1603.6" text-anchor="middle">21°0'E</text><text x="1595.5" y="1603.6" text-anchor="middle">24°0'E</text><text x="875.8" y="1041.5" text-anchor="end">6°0'S</text><text x="875.8" y="1176.3" text-anchor="end">9°0'S</text><text x="875.8" y="1311.2" text-anchor="end">12°0'S</text><text x="875.8" y="1446" text-anchor="end">15°0'S</text></g>
</g>
<g id="p_f">
<clipPath id="clip_f"><rect x="1689.4" y="966" width="695.3" height="609.5"/></clipPath>
<rect x="1681" y="957.6" width="712.1" height="626.3" fill="#fff" stroke="#222" stroke-width="1.2"/>
<rect x="1688.8" y="965.4" width="696.5" height="610.7" fill="none" stroke="#222" stroke-width="1.2"/>
<path fill="#000" d="M1689.4 957H1784.2V966H1689.4ZM1689.4 1575.5H1784.2V1584.5H1689.4ZM1933.5 957H2082.8V966H1933.5ZM1933.5 1575.5H2082.8V1584.5H1933.5ZM2232.2 957H2381.5V966H2232.2ZM2232.2 1575.5H2381.5V1584.5H2232.2ZM1680.4 966H1689.4V1053.4H1680.4ZM2384.7 966H2393.7V1053.4H2384.7ZM1680.4 1184.6H1689.4V1315.9H1680.4ZM2384.7 1184.6H2393.7V1315.9H2384.7ZM1680.4 1447.1H1689.4V1575.5H1680.4ZM2384.7 1447.1H2393.7V1575.5H2384.7Z"/>
<g clip-path="url(#clip_f)">
<path fill="#2c7bb6" d="M1734.4 966H2381.8V988.1H1734.4ZM1759.3 987.8H2381.8V1010H1759.3ZM1784.2 1009.7H2381.8V1031.8H1784.2ZM1784.2 1031.5H1933.8V1053.7H1784.2ZM1958.4 1031.5H2381.8V1053.7H1958.4ZM1784.2 1053.4H1884V1075.6H1784.2ZM1983.3 1053.4H2381.8V1075.6H1983.3ZM1809.1 1075.3H1859.2V1097.4H1809.1ZM2008.2 1075.3H2381.8V1097.4H2008.2ZM1809.1 1097.1H1859.2V1119.3H1809.1ZM2008.2 1097.1H2381.8V1119.3H2008.2ZM1834 1119H1859.2V1141.2H1834ZM1983.3 1119H2132.9V1141.2H1983.3ZM2157.5 1119H2381.8V1141.2H2157.5ZM1834 1140.9H1884V1163.1H1834ZM1983.3 1140.9H2108V1163.1H1983.3ZM2157.5 1140.9H2381.8V1163.1H2157.5ZM1834 1162.8H1908.9V1184.9H1834ZM1983.3 1162.8H2108V1184.9H1983.3ZM2132.6 1162.8H2381.8V1184.9H2132.6ZM1834 1184.6H1908.9V1206.8H1834ZM1983.3 1184.6H2132.9V1206.8H1983.3ZM2157.5 1184.6H2381.8V1206.8H2157.5ZM1834 1206.5H1933.8V1228.7H1834ZM1983.3 1206.5H2381.8V1228.7H1983.3ZM1834 1228.4H1908.9V1250.5H1834ZM2008.2 1228.4H2381.8V1250.5H2008.2ZM1858.9 1250.2H1908.9V1272.4H1858.9ZM2033.1 1250.2H2157.8V1272.4H2033.1ZM2182.4 1250.2H2381.8V1272.4H2182.4ZM1858.9 1272.1H1884V1294.3H1858.9ZM2058 1272.1H2083.2V1294.3H2058ZM2107.7 1272.1H2132.9V1294.3H2107.7ZM2207.3 1272.1H2332V1294.3H2207.3ZM1858.9 1294H1884V1316.2H1858.9ZM2232.2 1294H2307.1V1316.2H2232.2ZM1834 1315.9H1884V1338H1834ZM2232.2 1315.9H2307.1V1338H2232.2ZM1809.1 1337.7H1834.3V1359.9H1809.1ZM2232.2 1337.7H2307.1V1359.9H2232.2ZM2257.1 1359.6H2332V1381.8H2257.1ZM1784.2 1381.5H1809.4V1403.7H1784.2ZM2257.1 1381.5H2356.9V1403.7H2257.1ZM2257.1 1403.4H2307.1V1425.5H2257.1ZM2257.1 1425.2H2381.8V1447.4H2257.1ZM2281.9 1447.1H2381.8V1469.3H2281.9ZM2281.9 1469H2381.8V1491.1H2281.9ZM2008.2 1490.8H2058.3V1513H2008.2ZM2281.9 1490.8H2356.9V1513H2281.9ZM1958.4 1512.7H2083.2V1534.9H1958.4ZM2356.6 1512.7H2381.8V1534.9H2356.6ZM1983.3 1534.6H2108V1556.8H1983.3ZM2306.8 1534.6H2332V1556.8H2306.8ZM1983.3 1556.5H2108V1575.8H1983.3Z"/>
<path fill="#9ecae3" d="M1933.5 1031.5H1958.7V1053.7H1933.5ZM1858.9 1075.3H1908.9V1097.4H1858.9ZM1983.3 1075.3H2008.5V1097.4H1983.3ZM1883.8 1097.1H1908.9V1119.3H1883.8ZM1858.9 1119H1884V1141.2H1858.9ZM2132.6 1119H2157.8V1141.2H2132.6ZM1883.8 1140.9H1908.9V1163.1H1883.8ZM1958.4 1140.9H1983.6V1163.1H1958.4ZM2132.6 1140.9H2157.8V1163.1H2132.6ZM1958.4 1162.8H1983.6V1184.9H1958.4ZM1908.6 1184.6H1933.8V1206.8H1908.6ZM1958.4 1184.6H1983.6V1206.8H1958.4ZM1958.4 1206.5H1983.6V1228.7H1958.4ZM1983.3 1228.4H2008.5V1250.5H1983.3ZM2008.2 1250.2H2033.4V1272.4H2008.2ZM2157.5 1250.2H2182.7V1272.4H2157.5ZM2356.6 1272.1H2381.8V1294.3H2356.6ZM2182.4 1294H2207.6V1316.2H2182.4ZM2331.7 1294H2356.9V1316.2H2331.7ZM2107.7 1315.9H2132.9V1338H2107.7ZM2157.5 1315.9H2182.7V1338H2157.5ZM2306.8 1315.9H2332V1338H2306.8ZM1809.1 1359.6H1834.3V1381.8H1809.1ZM2132.6 1359.6H2157.8V1381.8H2132.6ZM2182.4 1381.5H2207.6V1403.7H2182.4ZM2232.2 1381.5H2257.4V1403.7H2232.2ZM1784.2 1403.4H1809.4V1425.5H1784.2ZM2157.5 1425.2H2182.7V1447.4H2157.5ZM2207.3 1425.2H2232.5V1447.4H2207.3ZM2232.2 1447.1H2257.4V1469.3H2232.2ZM2232.2 1469H2257.4V1491.1H2232.2ZM2082.8 1490.8H2132.9V1513H2082.8ZM2207.3 1490.8H2257.4V1513H2207.3ZM1933.5 1512.7H1958.7V1534.9H1933.5ZM2132.6 1512.7H2257.4V1534.9H2132.6ZM1809.1 1534.6H1834.3V1556.8H1809.1ZM1958.4 1534.6H1983.6V1556.8H1958.4ZM2157.5 1534.6H2207.6V1556.8H2157.5ZM1809.1 1556.5H1834.3V1575.8H1809.1ZM1958.4 1556.5H1983.6V1575.8H1958.4ZM2132.6 1556.5H2182.7V1575.8H2132.6Z"/>
<path fill="#5e9fd0" d="M1883.8 1053.4H1908.9V1075.6H1883.8ZM1983.3 1097.1H2008.5V1119.3H1983.3ZM2107.7 1140.9H2132.9V1163.1H2107.7ZM2107.7 1162.8H2132.9V1184.9H2107.7ZM2132.6 1184.6H2157.8V1206.8H2132.6ZM2033.1 1272.1H2058.3V1294.3H2033.1ZM2082.8 1272.1H2108V1294.3H2082.8ZM2182.4 1272.1H2207.6V1294.3H2182.4ZM2331.7 1272.1H2356.9V1294.3H2331.7ZM2058 1294H2132.9V1316.2H2058ZM2207.3 1294H2232.5V1316.2H2207.3ZM2306.8 1294H2332V1316.2H2306.8ZM2182.4 1315.9H2232.5V1338H2182.4ZM1834 1337.7H1859.2V1359.9H1834ZM2157.5 1337.7H2232.5V1359.9H2157.5ZM2306.8 1337.7H2332V1359.9H2306.8ZM2157.5 1359.6H2257.4V1381.8H2157.5ZM2331.7 1359.6H2381.8V1381.8H2331.7ZM2157.5 1381.5H2182.7V1403.7H2157.5ZM2207.3 1381.5H2232.5V1403.7H2207.3ZM2356.6 1381.5H2381.8V1403.7H2356.6ZM2157.5 1403.4H2257.4V1425.5H2157.5ZM2306.8 1403.4H2381.8V1425.5H2306.8ZM2232.2 1425.2H2257.4V1447.4H2232.2ZM2257.1 1447.1H2282.2V1469.3H2257.1ZM2257.1 1469H2282.2V1491.1H2257.1ZM1958.4 1490.8H2008.5V1513H1958.4ZM2058 1490.8H2083.2V1513H2058ZM2257.1 1490.8H2282.2V1513H2257.1ZM2356.6 1490.8H2381.8V1513H2356.6ZM2082.8 1512.7H2132.9V1534.9H2082.8ZM2257.1 1512.7H2356.9V1534.9H2257.1ZM2107.7 1534.6H2157.8V1556.8H2107.7ZM2207.3 1534.6H2307.1V1556.8H2207.3ZM2331.7 1534.6H2381.8V1556.8H2331.7ZM2107.7 1556.5H2132.9V1575.8H2107.7ZM2182.4 1556.5H2381.8V1575.8H2182.4Z"/>
<path fill="#c4e6db" d="M1908.6 1053.4H1933.8V1075.6H1908.6ZM1958.4 1053.4H1983.6V1075.6H1958.4ZM1908.6 1075.3H1933.8V1097.4H1908.6ZM1858.9 1097.1H1884V1119.3H1858.9ZM1908.6 1097.1H1933.8V1119.3H1908.6ZM1883.8 1119H1908.9V1141.2H1883.8ZM1958.4 1119H1983.6V1141.2H1958.4ZM2132.6 1272.1H2182.7V1294.3H2132.6ZM2356.6 1294H2381.8V1316.2H2356.6ZM2132.6 1403.4H2157.8V1425.5H2132.6ZM1784.2 1425.2H1809.4V1447.4H1784.2ZM2182.4 1425.2H2207.6V1447.4H2182.4ZM2132.6 1447.1H2232.5V1469.3H2132.6ZM1958.4 1469H1983.6V1491.1H1958.4ZM2033.1 1469H2058.3V1491.1H2033.1ZM2107.7 1469H2182.7V1491.1H2107.7ZM2207.3 1469H2232.5V1491.1H2207.3ZM1933.5 1490.8H1958.7V1513H1933.5ZM2132.6 1490.8H2207.6V1513H2132.6ZM1933.5 1534.6H1958.7V1556.8H1933.5ZM1784.2 1556.5H1809.4V1575.8H1784.2ZM1834 1556.5H1859.2V1575.8H1834Z"/>
<path fill="#f99e59" d="M1933.5 1053.4H1958.7V1075.6H1933.5ZM1933.5 1075.3H1958.7V1097.4H1933.5ZM1933.5 1097.1H1958.7V1119.3H1933.5ZM1958.4 1228.4H1983.6V1250.5H1958.4ZM1983.3 1250.2H2008.5V1272.4H1983.3ZM2033.1 1315.9H2058.3V1338H2033.1ZM2356.6 1315.9H2381.8V1338H2356.6ZM1883.8 1337.7H1908.9V1359.9H1883.8ZM2033.1 1337.7H2058.3V1359.9H2033.1ZM1858.9 1359.6H1884V1381.8H1858.9ZM1908.6 1359.6H1933.8V1381.8H1908.6ZM2082.8 1359.6H2108V1381.8H2082.8ZM1908.6 1381.5H1933.8V1403.7H1908.6ZM1958.4 1381.5H2058.3V1403.7H1958.4ZM2082.8 1381.5H2108V1403.7H2082.8ZM1883.8 1403.4H2058.3V1425.5H1883.8ZM2082.8 1403.4H2108V1425.5H2082.8ZM2082.8 1425.2H2108V1447.4H2082.8ZM1858.9 1469H1884V1491.1H1858.9ZM1759.3 1490.8H1784.5V1513H1759.3ZM1809.1 1490.8H1834.3V1513H1809.1ZM1759.3 1512.7H1784.5V1534.9H1759.3ZM1834 1512.7H1859.2V1534.9H1834ZM1883.8 1512.7H1908.9V1534.9H1883.8ZM1858.9 1534.6H1908.9V1556.8H1858.9ZM1858.9 1556.5H1884V1575.8H1858.9Z"/>
<path fill="#ebf7c6" d="M1958.4 1075.3H1983.6V1097.4H1958.4ZM1958.4 1097.1H1983.6V1119.3H1958.4ZM1908.6 1162.8H1933.8V1184.9H1908.6ZM2033.1 1294H2058.3V1316.2H2033.1ZM2058 1315.9H2108V1338H2058ZM2132.6 1315.9H2157.8V1338H2132.6ZM2132.6 1337.7H2157.8V1359.9H2132.6ZM2331.7 1337.7H2381.8V1359.9H2331.7ZM2132.6 1425.2H2157.8V1447.4H2132.6ZM2107.7 1447.1H2132.9V1469.3H2107.7ZM1933.5 1469H1958.7V1491.1H1933.5ZM2058 1469H2108V1491.1H2058ZM2182.4 1469H2207.6V1491.1H2182.4ZM1784.2 1534.6H1809.4V1556.8H1784.2ZM1759.3 1556.5H1784.5V1575.8H1759.3ZM1933.5 1556.5H1958.7V1575.8H1933.5Z"/>
<path fill="#ffefaa" d="M1908.6 1119H1933.8V1141.2H1908.6ZM1908.6 1140.9H1933.8V1163.1H1908.6ZM1933.5 1184.6H1958.7V1206.8H1933.5ZM1933.5 1206.5H1958.7V1228.7H1933.5ZM1883.8 1272.1H1908.9V1294.3H1883.8ZM2132.6 1294H2182.7V1316.2H2132.6ZM2058 1337.7H2132.9V1359.9H2058ZM1858.9 1381.5H1884V1403.7H1858.9ZM2132.6 1381.5H2157.8V1403.7H2132.6ZM1784.2 1447.1H1809.4V1469.3H1784.2ZM1858.9 1447.1H1884V1469.3H1858.9ZM1908.6 1447.1H2008.5V1469.3H1908.6ZM1908.6 1469H1933.8V1491.1H1908.6ZM1983.3 1469H2033.4V1491.1H1983.3ZM1908.6 1490.8H1933.8V1513H1908.6ZM1908.6 1512.7H1933.8V1534.9H1908.6ZM1759.3 1534.6H1784.5V1556.8H1759.3ZM1908.6 1534.6H1933.8V1556.8H1908.6Z"/>
<path fill="#e85b3a" d="M1933.5 1119H1958.7V1141.2H1933.5ZM1983.3 1272.1H2008.5V1294.3H1983.3ZM1883.8 1294H1908.9V1316.2H1883.8ZM1983.3 1294H2033.4V1316.2H1983.3ZM1908.6 1315.9H1933.8V1338H1908.6ZM1983.3 1315.9H2033.4V1338H1983.3ZM1908.6 1337.7H1958.7V1359.9H1908.6ZM1983.3 1337.7H2033.4V1359.9H1983.3ZM1933.5 1359.6H2033.4V1381.8H1933.5ZM1933.5 1381.5H1958.7V1403.7H1933.5ZM2058 1403.4H2083.2V1425.5H2058ZM2033.1 1425.2H2083.2V1447.4H2033.1ZM1834 1490.8H1884V1513H1834ZM1858.9 1512.7H1884V1534.9H1858.9ZM1883.8 1556.5H1908.9V1575.8H1883.8Z"/>
<path fill="#fec980" d="M1933.5 1140.9H1958.7V1163.1H1933.5ZM1933.5 1162.8H1958.7V1184.9H1933.5ZM2008.2 1272.1H2033.4V1294.3H2008.2ZM2331.7 1315.9H2356.9V1338H2331.7ZM1858.9 1337.7H1884V1359.9H1858.9ZM1834 1359.6H1859.2V1381.8H1834ZM1883.8 1359.6H1908.9V1381.8H1883.8ZM2033.1 1359.6H2083.2V1381.8H2033.1ZM2107.7 1359.6H2132.9V1381.8H2107.7ZM1809.1 1381.5H1859.2V1403.7H1809.1ZM1883.8 1381.5H1908.9V1403.7H1883.8ZM2058 1381.5H2083.2V1403.7H2058ZM2107.7 1381.5H2132.9V1403.7H2107.7ZM1809.1 1403.4H1884V1425.5H1809.1ZM2107.7 1403.4H2132.9V1425.5H2107.7ZM1809.1 1425.2H2033.4V1447.4H1809.1ZM2107.7 1425.2H2132.9V1447.4H2107.7ZM1809.1 1447.1H1859.2V1469.3H1809.1ZM1883.8 1447.1H1908.9V1469.3H1883.8ZM2008.2 1447.1H2108V1469.3H2008.2ZM1759.3 1469H1859.2V1491.1H1759.3ZM1883.8 1469H1908.9V1491.1H1883.8ZM1784.2 1490.8H1809.4V1513H1784.2ZM1883.8 1490.8H1908.9V1513H1883.8ZM1784.2 1512.7H1834.3V1534.9H1784.2ZM1834 1534.6H1859.2V1556.8H1834ZM1908.6 1556.5H1933.8V1575.8H1908.6Z"/>
<path fill="#d7191c" d="M1908.6 1228.4H1958.7V1250.5H1908.6ZM1908.6 1250.2H1983.6V1272.4H1908.6ZM1908.6 1272.1H1983.6V1294.3H1908.6ZM1908.6 1294H1983.6V1316.2H1908.6ZM1883.8 1315.9H1908.9V1338H1883.8ZM1933.5 1315.9H1983.6V1338H1933.5ZM1958.4 1337.7H1983.6V1359.9H1958.4Z"/>

<path d="M1784.2 966V1575.5M1933.5 966V1575.5M2082.8 966V1575.5M2232.2 966V1575.5M2381.5 966V1575.5M1689.4 1053.4H2384.7M1689.4 1184.6H2384.7M1689.4 1315.9H2384.7M1689.4 1447.1H2384.7" fill="none" stroke="#1a1a1a" stroke-opacity="0.8" stroke-width="2" stroke-dasharray="2.5 8.5"/>
<use href="#brd" stroke-width="3.0" transform="translate(1784.2 1053.4) scale(0.49775 0.43744)"/>




</g>
<g class="tk"><text x="1784.2" y="1607.5" text-anchor="middle">12°0'E</text><text x="1933.5" y="1607.5" text-anchor="middle">15°0'E</text><text x="2082.8" y="1607.5" text-anchor="middle">18°0'E</text><text x="2232.2" y="1607.5" text-anchor="middle">21°0'E</text><text x="2381.5" y="1607.5" text-anchor="middle">24°0'E</text><text x="1668.4" y="1058.9" text-anchor="end">6°0'S</text><text x="1668.4" y="1190.1" text-anchor="end">9°0'S</text><text x="1668.4" y="1321.4" text-anchor="end">12°0'S</text><text x="1668.4" y="1452.6" text-anchor="end">15°0'S</text></g>
</g>
<g id="p_g">
<clipPath id="clip_g"><rect x="98.3" y="1771.2" width="712.5" height="655.6"/></clipPath>
<rect x="89.9" y="1762.8" width="729.3" height="672.4" fill="#fff" stroke="#222" stroke-width="1.2"/>
<rect x="97.7" y="1770.6" width="713.7" height="656.8" fill="none" stroke="#222" stroke-width="1.2"/>
<path fill="#000" d="M98.3 1762.2H168.4V1771.2H98.3ZM98.3 2426.8H168.4V2435.8H98.3ZM325.6 1762.2H482.9V1771.2H325.6ZM325.6 2426.8H482.9V2435.8H325.6ZM640.1 1762.2H797.3V1771.2H640.1ZM640.1 2426.8H797.3V2435.8H640.1ZM89.3 1771.2H98.3V1849.2H89.3ZM810.8 1771.2H819.8V1849.2H810.8ZM89.3 1994.2H98.3V2139.2H89.3ZM810.8 1994.2H819.8V2139.2H810.8ZM89.3 2284.2H98.3V2426.8H89.3ZM810.8 2284.2H819.8V2426.8H810.8Z"/>
<g clip-path="url(#clip_g)">
<path fill="#f99e59" d="M116 1771.2H168.7V1777H116ZM325.6 1771.2H430.7V1777H325.6ZM587.7 1771.2H666.6V1777H587.7ZM325.6 1776.7H378.3V1801.2H325.6ZM482.9 1776.7H666.6V1801.2H482.9ZM325.6 1800.9H404.5V1825.3H325.6ZM535.3 1800.9H561.8V1825.3H535.3ZM640.1 1800.9H666.6V1825.3H640.1ZM325.6 1825H352.1V1849.5H325.6ZM378 1825H404.5V1849.5H378ZM535.3 1825H561.8V1849.5H535.3ZM640.1 1825H666.6V1849.5H640.1ZM299.4 1849.2H404.5V1873.7H299.4ZM430.4 1849.2H456.9V1873.7H430.4ZM509.1 1849.2H640.4V1873.7H509.1ZM666.3 1849.2H692.8V1873.7H666.3ZM325.6 1873.4H378.3V1897.8H325.6ZM404.2 1873.4H692.8V1897.8H404.2ZM613.9 1897.5H640.4V1922H613.9ZM482.9 1945.9H509.4V1970.3H482.9Z"/>
<path fill="#fec980" d="M168.4 1771.2H325.9V1777H168.4ZM561.5 1771.2H588V1777H561.5ZM666.3 1771.2H745.2V1777H666.3ZM142.2 1776.7H247.3V1801.2H142.2ZM273.2 1776.7H325.9V1801.2H273.2ZM666.3 1776.7H745.2V1801.2H666.3ZM168.4 1800.9H194.9V1825.3H168.4ZM273.2 1800.9H325.9V1825.3H273.2ZM666.3 1800.9H719V1825.3H666.3ZM273.2 1825H325.9V1849.5H273.2ZM666.3 1825H719V1849.5H666.3ZM640.1 1849.2H666.6V1873.7H640.1ZM692.5 1849.2H745.2V1873.7H692.5ZM692.5 1873.4H745.2V1897.8H692.5ZM325.6 1897.5H430.7V1922H325.6ZM456.6 1897.5H614.2V1922H456.6ZM640.1 1897.5H797.6V1922H640.1ZM351.8 1921.7H404.5V1946.2H351.8ZM482.9 1921.7H588V1946.2H482.9ZM613.9 1921.7H719V1946.2H613.9ZM744.9 1921.7H771.4V1946.2H744.9ZM430.4 1945.9H483.2V1970.3H430.4ZM509.1 1945.9H561.8V1970.3H509.1ZM640.1 1945.9H745.2V1970.3H640.1ZM456.6 1970H535.6V1994.5H456.6ZM640.1 1970H666.6V1994.5H640.1ZM718.7 1970H745.2V1994.5H718.7ZM456.6 1994.2H535.6V2018.7H456.6ZM561.5 1994.2H588V2018.7H561.5ZM640.1 1994.2H692.8V2018.7H640.1ZM482.9 2018.4H509.4V2042.8H482.9Z"/>
<path fill="#e85b3a" d="M430.4 1771.2H456.9V1777H430.4ZM509.1 1771.2H561.8V1777H509.1ZM378 1776.7H483.2V1801.2H378ZM404.2 1800.9H456.9V1825.3H404.2ZM482.9 1800.9H535.6V1825.3H482.9ZM561.5 1800.9H640.4V1825.3H561.5ZM351.8 1825H378.3V1849.5H351.8ZM404.2 1825H456.9V1849.5H404.2ZM482.9 1825H535.6V1849.5H482.9ZM587.7 1825H640.4V1849.5H587.7ZM404.2 1849.2H430.7V1873.7H404.2ZM482.9 1849.2H509.4V1873.7H482.9ZM378 1873.4H404.5V1897.8H378Z"/>
<path fill="#d7191c" d="M456.6 1771.2H509.4V1777H456.6ZM456.6 1800.9H483.2V1825.3H456.6ZM456.6 1825H483.2V1849.5H456.6ZM561.5 1825H588V1849.5H561.5ZM456.6 1849.2H483.2V1873.7H456.6Z"/>
<path fill="#ffedaa" d="M744.9 1771.2H797.6V1777H744.9ZM247 1776.7H273.5V1801.2H247ZM744.9 1776.7H797.6V1801.2H744.9ZM194.6 1800.9H273.5V1825.3H194.6ZM718.7 1800.9H745.2V1825.3H718.7ZM168.4 1825H221.1V1849.5H168.4ZM718.7 1825H745.2V1849.5H718.7ZM168.4 1849.2H194.9V1873.7H168.4ZM273.2 1849.2H299.7V1873.7H273.2ZM744.9 1873.4H797.6V1897.8H744.9ZM430.4 1897.5H456.9V1922H430.4ZM325.6 1921.7H352.1V1946.2H325.6ZM404.2 1921.7H483.2V1946.2H404.2ZM587.7 1921.7H614.2V1946.2H587.7ZM718.7 1921.7H745.2V1946.2H718.7ZM771.1 1921.7H797.6V1946.2H771.1ZM351.8 1945.9H430.7V1970.3H351.8ZM561.5 1945.9H640.4V1970.3H561.5ZM744.9 1945.9H797.6V1970.3H744.9ZM404.2 1970H456.9V1994.5H404.2ZM535.3 1970H640.4V1994.5H535.3ZM666.3 1970H719V1994.5H666.3ZM744.9 1970H797.6V1994.5H744.9ZM430.4 1994.2H456.9V2018.7H430.4ZM535.3 1994.2H561.8V2018.7H535.3ZM587.7 1994.2H640.4V2018.7H587.7ZM692.5 1994.2H797.6V2018.7H692.5ZM456.6 2018.4H483.2V2042.8H456.6ZM509.1 2018.4H771.4V2042.8H509.1ZM482.9 2042.5H535.6V2067H482.9ZM613.9 2042.5H692.8V2067H613.9Z"/>
<path fill="#edf8b9" d="M744.9 1800.9H797.6V1825.3H744.9ZM247 1825H273.5V1849.5H247ZM744.9 1825H797.6V1849.5H744.9ZM194.6 1849.2H273.5V1873.7H194.6ZM744.9 1849.2H797.6V1873.7H744.9ZM194.6 1873.4H221.1V1897.8H194.6ZM273.2 1873.4H325.9V1897.8H273.2ZM194.6 1897.5H221.1V1922H194.6ZM299.4 1897.5H325.9V1922H299.4ZM351.8 1970H404.5V1994.5H351.8ZM351.8 1994.2H430.7V2018.7H351.8ZM378 2018.4H456.9V2042.8H378ZM771.1 2018.4H797.6V2042.8H771.1ZM325.6 2042.5H352.1V2067H325.6ZM430.4 2042.5H483.2V2067H430.4ZM535.3 2042.5H614.2V2067H535.3ZM692.5 2042.5H771.4V2067H692.5ZM613.9 2066.7H745.2V2091.2H613.9ZM273.2 2090.9H325.9V2115.3H273.2ZM613.9 2090.9H719V2115.3H613.9ZM273.2 2115H325.9V2139.5H273.2ZM587.7 2139.2H640.4V2163.7H587.7ZM587.7 2163.4H640.4V2187.8H587.7Z"/>
<path fill="#c7e9ad" d="M220.8 1825H247.3V1849.5H220.8ZM220.8 1873.4H273.5V1897.8H220.8ZM220.8 1897.5H299.7V1922H220.8ZM273.2 1921.7H325.9V1946.2H273.2ZM273.2 1945.9H352.1V1970.3H273.2ZM325.6 1970H352.1V1994.5H325.6ZM220.8 1994.2H247.3V2018.7H220.8ZM325.6 1994.2H352.1V2018.7H325.6ZM220.8 2018.4H247.3V2042.8H220.8ZM299.4 2018.4H378.3V2042.8H299.4ZM220.8 2042.5H325.9V2067H220.8ZM351.8 2042.5H430.7V2067H351.8ZM771.1 2042.5H797.6V2067H771.1ZM247 2066.7H404.5V2091.2H247ZM430.4 2066.7H614.2V2091.2H430.4ZM744.9 2066.7H797.6V2091.2H744.9ZM247 2090.9H273.5V2115.3H247ZM325.6 2090.9H404.5V2115.3H325.6ZM430.4 2090.9H614.2V2115.3H430.4ZM718.7 2090.9H797.6V2115.3H718.7ZM247 2115H273.5V2139.5H247ZM325.6 2115H352.1V2139.5H325.6ZM482.9 2115H745.2V2139.5H482.9ZM771.1 2115H797.6V2139.5H771.1ZM273.2 2139.2H325.9V2163.7H273.2ZM509.1 2139.2H588V2163.7H509.1ZM640.1 2139.2H666.6V2163.7H640.1ZM718.7 2139.2H745.2V2163.7H718.7ZM771.1 2139.2H797.6V2163.7H771.1ZM561.5 2163.4H588V2187.8H561.5ZM640.1 2163.4H719V2187.8H640.1ZM194.6 2187.5H221.1V2212H194.6ZM587.7 2187.5H614.2V2212H587.7ZM666.3 2187.5H692.8V2212H666.3ZM168.4 2211.7H194.9V2236.2H168.4ZM168.4 2235.9H194.9V2260.3H168.4ZM194.6 2405H221.1V2427.1H194.6Z"/>
<path fill="#64abb0" d="M220.8 1921.7H247.3V1946.2H220.8ZM220.8 1945.9H273.5V1970.3H220.8ZM220.8 1970H273.5V1994.5H220.8ZM299.4 1970H325.9V1994.5H299.4ZM247 1994.2H299.7V2018.7H247ZM351.8 2139.2H483.2V2163.7H351.8ZM194.6 2163.4H221.1V2187.8H194.6ZM299.4 2163.4H378.3V2187.8H299.4ZM456.6 2163.4H509.4V2187.8H456.6ZM247 2187.5H378.3V2212H247ZM456.6 2187.5H509.4V2212H456.6ZM247 2211.7H273.5V2236.2H247ZM482.9 2211.7H666.6V2236.2H482.9ZM771.1 2211.7H797.6V2236.2H771.1ZM194.6 2235.9H221.1V2260.3H194.6ZM561.5 2235.9H797.6V2260.3H561.5ZM194.6 2260H221.1V2284.5H194.6ZM587.7 2260H771.4V2284.5H587.7ZM168.4 2284.2H194.9V2308.7H168.4ZM587.7 2284.2H719V2308.7H587.7ZM194.6 2380.9H221.1V2405.3H194.6ZM168.4 2405H194.9V2427.1H168.4ZM220.8 2405H247.3V2427.1H220.8Z"/>
<path fill="#9dd3a7" d="M247 1921.7H273.5V1946.2H247ZM273.2 1970H299.7V1994.5H273.2ZM299.4 1994.2H325.9V2018.7H299.4ZM247 2018.4H299.7V2042.8H247ZM404.2 2066.7H430.7V2091.2H404.2ZM404.2 2090.9H430.7V2115.3H404.2ZM351.8 2115H483.2V2139.5H351.8ZM744.9 2115H771.4V2139.5H744.9ZM220.8 2139.2H273.5V2163.7H220.8ZM325.6 2139.2H352.1V2163.7H325.6ZM482.9 2139.2H509.4V2163.7H482.9ZM666.3 2139.2H719V2163.7H666.3ZM744.9 2139.2H771.4V2163.7H744.9ZM220.8 2163.4H299.7V2187.8H220.8ZM509.1 2163.4H561.8V2187.8H509.1ZM718.7 2163.4H797.6V2187.8H718.7ZM220.8 2187.5H247.3V2212H220.8ZM509.1 2187.5H588V2212H509.1ZM613.9 2187.5H666.6V2212H613.9ZM692.5 2187.5H797.6V2212H692.5ZM194.6 2211.7H247.3V2236.2H194.6ZM666.3 2211.7H771.4V2236.2H666.3ZM220.8 2235.9H247.3V2260.3H220.8ZM168.4 2260H194.9V2284.5H168.4ZM220.8 2260H273.5V2284.5H220.8ZM220.8 2284.2H247.3V2308.7H220.8Z"/>
<path fill="#2b83ba" d="M378 2163.4H456.9V2187.8H378ZM378 2187.5H456.9V2212H378ZM273.2 2211.7H483.2V2236.2H273.2ZM247 2235.9H561.8V2260.3H247ZM273.2 2260H588V2284.5H273.2ZM771.1 2260H797.6V2284.5H771.1ZM194.6 2284.2H221.1V2308.7H194.6ZM247 2284.2H588V2308.7H247ZM718.7 2284.2H797.6V2308.7H718.7ZM142.2 2308.4H797.6V2332.8H142.2ZM142.2 2332.5H797.6V2357H142.2ZM142.2 2356.7H797.6V2381.2H142.2ZM142.2 2380.9H194.9V2405.3H142.2ZM220.8 2380.9H797.6V2405.3H220.8ZM142.2 2405H168.7V2427.1H142.2ZM247 2405H797.6V2427.1H247Z"/>

<path d="M168.4 1771.2V2426.8M325.6 1771.2V2426.8M482.9 1771.2V2426.8M640.1 1771.2V2426.8M797.3 1771.2V2426.8M98.3 1849.2H810.8M98.3 1994.2H810.8M98.3 2139.2H810.8M98.3 2284.2H810.8" fill="none" stroke="#1a1a1a" stroke-opacity="0.8" stroke-width="2" stroke-dasharray="2.5 8.5"/>
<use href="#brd" stroke-width="2.2" transform="translate(168.4 1849.2) scale(0.52408 0.48333)"/>
<g class="lab" font-size="23.5"><text x="143.2" y="1813" textLength="93">Cabinda</text><text x="219.8" y="1873.4" textLength="57.7">Zaire</text><text x="322" y="1873.4" textLength="46.6">Uíge</text><text x="146.4" y="1988.9" textLength="84.2">Luanda</text><text x="209.3" y="2035.3" textLength="65.4">Bengo</text><text x="192.5" y="2091.3" textLength="126.4">Cuanza Sul</text><text x="340.8" y="2020.8" textLength="88.7">Malanje</text><text x="287.4" y="2006.8" textLength="152.7" transform="rotate(-30 287.4 2006.8)">Cuanza Norte</text><text x="465" y="2006.8" textLength="139.7">Lunda Norte</text><text x="520.6" y="2074.4" textLength="113">Lunda Sul</text><text x="178.4" y="2178.3" textLength="99.8">Benguela</text><text x="327.7" y="2175" textLength="95.3">Huambo</text><text x="291" y="2280.3" textLength="59.9">Huíla</text><text x="126.5" y="2302.1" textLength="85.3">Namibe</text><text x="311" y="2365.4" textLength="83.1">Cunene</text><text x="431.5" y="2163.4" textLength="35">Bié</text><text x="599.2" y="2189.9" textLength="80.9">Moxico</text><text x="468.7" y="2389.1" textLength="194">Cuando Cubango</text></g>

<rect x="507" y="1846.6" width="247.3" height="12.3" fill="#fff" stroke="#111" stroke-width="1.5"/><rect x="507" y="1846.6" width="123.6" height="12.3" fill="#000"/><g class="sb"><text x="508" y="1834.6" text-anchor="middle">0</text><text x="630.6" y="1834.6" text-anchor="middle">250</text><text x="768.3" y="1834.6" text-anchor="middle">500 km</text></g>
<path d="M123.7 1784L99.7 1837L123.7 1816.9Z" fill="#dcdcdc"/><path d="M123.7 1784L99.7 1837L123.7 1816.9L147.7 1837Z" fill="none" stroke="#111" stroke-width="2.6" stroke-linejoin="miter"/><path d="M124.5 1791L124.5 1814.4L143.2 1832.5Z" fill="#fff" stroke="none"/>
</g>
<g class="tk"><text x="168.4" y="2458.8" text-anchor="middle">12°0'E</text><text x="325.6" y="2458.8" text-anchor="middle">15°0'E</text><text x="482.9" y="2458.8" text-anchor="middle">18°0'E</text><text x="640.1" y="2458.8" text-anchor="middle">21°0'E</text><text x="797.3" y="2458.8" text-anchor="middle">24°0'E</text><text x="77.3" y="1854.7" text-anchor="end">6°0'S</text><text x="77.3" y="1999.7" text-anchor="end">9°0'S</text><text x="77.3" y="2144.7" text-anchor="end">12°0'S</text><text x="77.3" y="2289.7" text-anchor="end">15°0'S</text></g>
</g>
<g id="p_h">
<clipPath id="clip_h"><rect x="902.6" y="1772.3" width="699.3" height="652.7"/></clipPath>
<rect x="894.2" y="1763.9" width="716.1" height="669.5" fill="#fff" stroke="#222" stroke-width="1.2"/>
<rect x="902" y="1771.7" width="700.5" height="653.9" fill="none" stroke="#222" stroke-width="1.2"/>
<path fill="#000" d="M902.6 1763.3H978V1772.3H902.6ZM902.6 2425H978V2434H902.6ZM1131.7 1763.3H1285.3V1772.3H1131.7ZM1131.7 2425H1285.3V2434H1131.7ZM1439 1763.3H1592.7V1772.3H1439ZM1439 2425H1592.7V2434H1439ZM893.6 1772.3H902.6V1850.6H893.6ZM1601.9 1772.3H1610.9V1850.6H1601.9ZM893.6 1995.9H902.6V2141.1H893.6ZM1601.9 1995.9H1610.9V2141.1H1601.9ZM893.6 2286.4H902.6V2425H893.6ZM1601.9 2286.4H1610.9V2425H1601.9Z"/>
<g clip-path="url(#clip_h)">
<path fill="#f99e59" d="M926.8 1772.3H1080.8V1778.3H926.8ZM978 1778H1106.4V1802.5H978ZM1157.3 1778H1183.2V1802.5H1157.3ZM1567.1 1778H1593V1802.5H1567.1ZM1080.5 1802.2H1183.2V1826.7H1080.5ZM1541.5 1802.2H1593V1826.7H1541.5ZM1080.5 1826.4H1183.2V1850.9H1080.5ZM1515.9 1826.4H1593V1850.9H1515.9ZM1131.7 1850.6H1234.4V1875.1H1131.7ZM1515.9 1850.6H1593V1875.1H1515.9ZM1182.9 1874.8H1336.9V1899.3H1182.9ZM1362.2 1874.8H1593V1899.3H1362.2ZM1182.9 1899H1593V1923.5H1182.9ZM1208.5 1923.2H1593V1947.7H1208.5ZM1234.1 1947.4H1567.4V1972H1234.1ZM1259.7 1971.7H1516.2V1996.2H1259.7ZM1234.1 1995.9H1490.5V2020.4H1234.1ZM1234.1 2020.1H1311.3V2044.6H1234.1ZM1413.4 2020.1H1490.5V2044.6H1413.4ZM1285.3 2044.3H1311.3V2068.8H1285.3ZM1259.7 2068.5H1285.6V2093H1259.7Z"/>
<path fill="#e85b3a" d="M1080.5 1772.3H1593V1778.3H1080.5ZM1106.1 1778H1157.6V1802.5H1106.1ZM1182.9 1778H1567.4V1802.5H1182.9ZM1182.9 1802.2H1541.8V1826.7H1182.9ZM1182.9 1826.4H1516.2V1850.9H1182.9ZM1234.1 1850.6H1516.2V1875.1H1234.1ZM1336.6 1874.8H1362.5V1899.3H1336.6Z"/>
<path fill="#fec980" d="M952.4 1778H978.3V1802.5H952.4ZM978 1802.2H1080.8V1826.7H978ZM1003.6 1826.4H1080.8V1850.9H1003.6ZM1080.5 1850.6H1132V1875.1H1080.5ZM1106.1 1874.8H1183.2V1899.3H1106.1ZM1106.1 1899H1183.2V1923.5H1106.1ZM1131.7 1923.2H1208.8V1947.7H1131.7ZM1157.3 1947.4H1234.4V1972H1157.3ZM1567.1 1947.4H1593V1972H1567.1ZM1157.3 1971.7H1260V1996.2H1157.3ZM1515.9 1971.7H1593V1996.2H1515.9ZM1157.3 1995.9H1234.4V2020.4H1157.3ZM1490.2 1995.9H1593V2020.4H1490.2ZM1157.3 2020.1H1234.4V2044.6H1157.3ZM1311 2020.1H1413.7V2044.6H1311ZM1490.2 2020.1H1593V2044.6H1490.2ZM1157.3 2044.3H1285.6V2068.8H1157.3ZM1311 2044.3H1593V2068.8H1311ZM1157.3 2068.5H1260V2093H1157.3ZM1285.3 2068.5H1593V2093H1285.3ZM1157.3 2092.7H1593V2117.2H1157.3ZM1157.3 2116.9H1490.5V2141.4H1157.3ZM1515.9 2116.9H1593V2141.4H1515.9ZM1157.3 2141.1H1336.9V2165.6H1157.3ZM1182.9 2165.3H1234.4V2189.9H1182.9ZM1259.7 2165.3H1311.3V2189.9H1259.7Z"/>
<path fill="#ffedaa" d="M978 1826.4H1003.9V1850.9H978ZM978 1850.6H1080.8V1875.1H978ZM1003.6 1874.8H1106.4V1899.3H1003.6ZM1054.8 1899H1106.4V1923.5H1054.8ZM1080.5 1923.2H1132V1947.7H1080.5ZM1080.5 1947.4H1157.6V1972H1080.5ZM1131.7 1971.7H1157.6V1996.2H1131.7ZM1131.7 1995.9H1157.6V2020.4H1131.7ZM1106.1 2020.1H1157.6V2044.6H1106.1ZM1106.1 2044.3H1157.6V2068.8H1106.1ZM1106.1 2068.5H1157.6V2093H1106.1ZM1131.7 2092.7H1157.6V2117.2H1131.7ZM1106.1 2116.9H1157.6V2141.4H1106.1ZM1490.2 2116.9H1516.2V2141.4H1490.2ZM1131.7 2141.1H1157.6V2165.6H1131.7ZM1336.6 2141.1H1593V2165.6H1336.6ZM1106.1 2165.3H1183.2V2189.9H1106.1ZM1234.1 2165.3H1260V2189.9H1234.1ZM1311 2165.3H1593V2189.9H1311ZM1131.7 2189.6H1464.9V2214.1H1131.7ZM1567.1 2189.6H1593V2214.1H1567.1ZM1157.3 2213.8H1183.2V2238.3H1157.3ZM1208.5 2213.8H1439.3V2238.3H1208.5Z"/>
<path fill="#c7e9ad" d="M1003.6 1899H1055.1V1923.5H1003.6ZM1029.2 1923.2H1055.1V1947.7H1029.2ZM1054.8 1947.4H1080.8V1972H1054.8ZM1054.8 1971.7H1106.4V1996.2H1054.8ZM1054.8 1995.9H1106.4V2020.4H1054.8ZM1029.2 2020.1H1106.4V2044.6H1029.2ZM1029.2 2044.3H1106.4V2068.8H1029.2ZM1080.5 2068.5H1106.4V2093H1080.5ZM1054.8 2092.7H1106.4V2117.2H1054.8ZM1054.8 2116.9H1080.8V2141.4H1054.8ZM1080.5 2141.1H1106.4V2165.6H1080.5ZM1080.5 2165.3H1106.4V2189.9H1080.5ZM1080.5 2189.6H1106.4V2214.1H1080.5ZM1464.6 2189.6H1567.4V2214.1H1464.6ZM1029.2 2213.8H1106.4V2238.3H1029.2ZM1439 2213.8H1593V2238.3H1439ZM1054.8 2238H1132V2262.5H1054.8ZM1234.1 2238H1593V2262.5H1234.1ZM1080.5 2262.2H1208.8V2286.7H1080.5ZM1234.1 2262.2H1593V2286.7H1234.1ZM1157.3 2286.4H1234.4V2310.9H1157.3ZM1208.5 2310.6H1234.4V2335.1H1208.5Z"/>
<path fill="#edf8b9" d="M1054.8 1923.2H1080.8V1947.7H1054.8ZM1106.1 1971.7H1132V1996.2H1106.1ZM1106.1 1995.9H1132V2020.4H1106.1ZM1106.1 2092.7H1132V2117.2H1106.1ZM1080.5 2116.9H1106.4V2141.4H1080.5ZM1106.1 2141.1H1132V2165.6H1106.1ZM1106.1 2189.6H1132V2214.1H1106.1ZM1106.1 2213.8H1157.6V2238.3H1106.1ZM1182.9 2213.8H1208.8V2238.3H1182.9ZM1131.7 2238H1234.4V2262.5H1131.7Z"/>
<path fill="#9dd3a7" d="M1029.2 1947.4H1055.1V1972H1029.2ZM1029.2 1971.7H1055.1V1996.2H1029.2ZM1029.2 1995.9H1055.1V2020.4H1029.2ZM1054.8 2068.5H1080.8V2093H1054.8ZM1054.8 2141.1H1080.8V2165.6H1054.8ZM1054.8 2165.3H1080.8V2189.9H1054.8ZM1054.8 2189.6H1080.8V2214.1H1054.8ZM1208.5 2262.2H1234.4V2286.7H1208.5ZM1029.2 2286.4H1055.1V2310.9H1029.2ZM1234.1 2286.4H1593V2310.9H1234.1ZM1029.2 2310.6H1055.1V2335.1H1029.2ZM1234.1 2310.6H1593V2335.1H1234.1ZM1336.6 2334.8H1593V2359.3H1336.6Z"/>
<path fill="#64abb0" d="M1029.2 2141.1H1055.1V2165.6H1029.2ZM1003.6 2165.3H1055.1V2189.9H1003.6ZM1003.6 2189.6H1055.1V2214.1H1003.6ZM1003.6 2213.8H1029.5V2238.3H1003.6ZM1003.6 2238H1055.1V2262.5H1003.6ZM1003.6 2262.2H1080.8V2286.7H1003.6ZM1054.8 2286.4H1157.6V2310.9H1054.8ZM1054.8 2310.6H1208.8V2335.1H1054.8ZM1106.1 2334.8H1336.9V2359.3H1106.1ZM1131.7 2359H1593V2383.5H1131.7ZM1182.9 2383.2H1593V2407.8H1182.9ZM1259.7 2407.5H1593V2425.3H1259.7Z"/>
<path fill="#2b83ba" d="M978 2213.8H1003.9V2238.3H978ZM978 2238H1003.9V2262.5H978ZM978 2262.2H1003.9V2286.7H978ZM978 2286.4H1029.5V2310.9H978ZM952.4 2310.6H1029.5V2335.1H952.4ZM952.4 2334.8H1106.4V2359.3H952.4ZM952.4 2359H1132V2383.5H952.4ZM952.4 2383.2H1183.2V2407.8H952.4ZM952.4 2407.5H1260V2425.3H952.4Z"/>

<path d="M978 1772.3V2425M1131.7 1772.3V2425M1285.3 1772.3V2425M1439 1772.3V2425M1592.7 1772.3V2425M902.6 1850.6H1601.9M902.6 1995.9H1601.9M902.6 2141.1H1601.9M902.6 2286.4H1601.9" fill="none" stroke="#1a1a1a" stroke-opacity="0.8" stroke-width="2" stroke-dasharray="2.5 8.5"/>
<use href="#brd" stroke-width="2.2" transform="translate(978 1850.6) scale(0.51225 0.48422)"/>
<g class="lab" font-size="23.5"><text x="953.4" y="1814.3" textLength="93">Cabinda</text><text x="1028.2" y="1874.8" textLength="57.7">Zaire</text><text x="1128.1" y="1874.8" textLength="46.6">Uíge</text><text x="956.5" y="1990.5" textLength="84.2">Luanda</text><text x="1018" y="2037" textLength="65.4">Bengo</text><text x="1001.6" y="2093.2" textLength="126.4">Cuanza Sul</text><text x="1146.5" y="2022.5" textLength="88.7">Malanje</text><text x="1094.3" y="2008.5" textLength="152.7" transform="rotate(-30 1094.3 2008.5)">Cuanza Norte</text><text x="1267.9" y="2008.5" textLength="139.7">Lunda Norte</text><text x="1322.2" y="2076.2" textLength="113">Lunda Sul</text><text x="987.7" y="2180.4" textLength="99.8">Benguela</text><text x="1133.7" y="2177" textLength="95.3">Huambo</text><text x="1097.9" y="2282.5" textLength="59.9">Huíla</text><text x="937" y="2304.3" textLength="85.3">Namibe</text><text x="1117.3" y="2367.7" textLength="83.1">Cunene</text><text x="1235.1" y="2165.3" textLength="35">Bié</text><text x="1399.1" y="2192" textLength="80.9">Moxico</text><text x="1271.5" y="2391.5" textLength="194">Cuando Cubango</text></g>

<rect x="1285.8" y="1834.8" width="241.4" height="12.3" fill="#fff" stroke="#111" stroke-width="1.5"/><rect x="1285.8" y="1834.8" width="120.7" height="12.3" fill="#000"/><g class="sb"><text x="1286.8" y="1821.3" text-anchor="middle">0</text><text x="1406.5" y="1821.3" text-anchor="middle">250</text><text x="1541.2" y="1821.3" text-anchor="middle">500 km</text></g>
<path d="M928.7 1781.6L905.7 1832.6L928.7 1813.2Z" fill="#dcdcdc"/><path d="M928.7 1781.6L905.7 1832.6L928.7 1813.2L951.7 1832.6Z" fill="none" stroke="#111" stroke-width="2.6" stroke-linejoin="miter"/><path d="M929.5 1788.6L929.5 1810.7L947.2 1828.1Z" fill="#fff" stroke="none"/>
</g>
<g class="tk"><text x="978" y="2457" text-anchor="middle">12°0'E</text><text x="1131.7" y="2457" text-anchor="middle">15°0'E</text><text x="1285.3" y="2457" text-anchor="middle">18°0'E</text><text x="1439" y="2457" text-anchor="middle">21°0'E</text><text x="1592.7" y="2457" text-anchor="middle">24°0'E</text><text x="881.6" y="1856.1" text-anchor="end">6°0'S</text><text x="881.6" y="2001.4" text-anchor="end">9°0'S</text><text x="881.6" y="2146.6" text-anchor="end">12°0'S</text><text x="881.6" y="2291.9" text-anchor="end">15°0'S</text></g>
</g>
<g id="p_i">
<clipPath id="clip_i"><rect x="1696.2" y="1770" width="691" height="655.3"/></clipPath>
<rect x="1687.8" y="1761.6" width="707.8" height="672.1" fill="#fff" stroke="#222" stroke-width="1.2"/>
<rect x="1695.6" y="1769.4" width="692.2" height="656.5" fill="none" stroke="#222" stroke-width="1.2"/>
<path fill="#000" d="M1696.2 1761H1790.5V1770H1696.2ZM1696.2 2425.3H1790.5V2434.3H1696.2ZM1938.6 1761H2086.8V1770H1938.6ZM1938.6 2425.3H2086.8V2434.3H1938.6ZM2234.9 1761H2383V1770H2234.9ZM2234.9 2425.3H2383V2434.3H2234.9ZM1687.2 1770H1696.2V1863.5H1687.2ZM2387.2 1770H2396.2V1863.5H2387.2ZM1687.2 2004.8H1696.2V2146.2H1687.2ZM2387.2 2004.8H2396.2V2146.2H2387.2ZM1687.2 2287.5H1696.2V2425.3H1687.2ZM2387.2 2287.5H2396.2V2425.3H2387.2Z"/>
<g clip-path="url(#clip_i)">
<path fill="#f69556" d="M1741.1 1770H1790.8V1793.1H1741.1ZM1765.8 1792.8H1790.8V1816.7H1765.8ZM1790.5 1816.4H1815.5V1840.2H1790.5ZM1839.9 1816.4H1889.5V1840.2H1839.9ZM1790.5 1839.9H1889.5V1863.8H1790.5ZM1815.2 1863.5H1988.3V1887.4H1815.2ZM1864.6 1887.1H1889.5V1910.9H1864.6ZM1913.9 1887.1H1988.3V1910.9H1913.9ZM1864.6 1910.6H1889.5V1934.5H1864.6ZM1938.6 1910.6H1988.3V1934.5H1938.6ZM1913.9 1934.2H1938.9V1958H1913.9ZM1963.3 1934.2H2037.7V1958H1963.3ZM1963.3 1957.7H2037.7V1981.6H1963.3ZM1963.3 1981.3H2062.4V2005.1H1963.3ZM2086.8 1981.3H2136.4V2005.1H2086.8ZM2308.9 1981.3H2383.3V2005.1H2308.9ZM1963.3 2004.8H2037.7V2028.7H1963.3ZM2111.4 2004.8H2136.4V2028.7H2111.4ZM2284.2 2004.8H2383.3V2028.7H2284.2ZM1963.3 2028.4H2013V2052.2H1963.3ZM2111.4 2028.4H2136.4V2052.2H2111.4ZM2284.2 2028.4H2383.3V2052.2H2284.2ZM1963.3 2051.9H2013V2075.8H1963.3ZM2160.8 2051.9H2185.8V2075.8H2160.8ZM2259.6 2051.9H2383.3V2075.8H2259.6ZM1938.6 2075.5H1963.6V2099.4H1938.6ZM2160.8 2075.5H2185.8V2099.4H2160.8ZM2210.2 2075.5H2383.3V2099.4H2210.2ZM1963.3 2099.1H1988.3V2122.9H1963.3ZM2111.4 2099.1H2383.3V2122.9H2111.4ZM1938.6 2122.6H1963.6V2146.5H1938.6ZM2111.4 2122.6H2383.3V2146.5H2111.4ZM1938.6 2146.2H1988.3V2170H1938.6ZM2012.7 2146.2H2037.7V2170H2012.7ZM2086.8 2146.2H2185.8V2170H2086.8ZM2333.6 2146.2H2358.6V2170H2333.6ZM1938.6 2169.7H2161.1V2193.6H1938.6ZM1938.6 2193.3H2161.1V2217.1H1938.6ZM2086.8 2216.8H2136.4V2240.7H2086.8ZM2086.8 2240.4H2185.8V2264.2H2086.8Z"/>
<path fill="#e85b3a" d="M1790.5 1770H1840.2V1793.1H1790.5ZM1790.5 1792.8H1914.2V1816.7H1790.5ZM1963.3 1792.8H1988.3V1816.7H1963.3ZM1815.2 1816.4H1840.2V1840.2H1815.2ZM1889.2 1816.4H1988.3V1840.2H1889.2ZM2012.7 1816.4H2062.4V1840.2H2012.7ZM2086.8 1816.4H2111.7V1840.2H2086.8ZM1889.2 1839.9H2037.7V1863.8H1889.2ZM2160.8 1839.9H2210.5V1863.8H2160.8ZM1988 1863.5H2111.7V1887.4H1988ZM2160.8 1863.5H2284.6V1887.4H2160.8ZM2358.3 1863.5H2383.3V1887.4H2358.3ZM1988 1887.1H2383.3V1910.9H1988ZM1988 1910.6H2383.3V1934.5H1988ZM2037.4 1934.2H2383.3V1958H2037.4ZM2037.4 1957.7H2383.3V1981.6H2037.4ZM2062.1 1981.3H2087.1V2005.1H2062.1ZM2136.1 1981.3H2309.2V2005.1H2136.1ZM2037.4 2004.8H2111.7V2028.7H2037.4ZM2136.1 2004.8H2284.6V2028.7H2136.1ZM2012.7 2028.4H2111.7V2052.2H2012.7ZM2136.1 2028.4H2284.6V2052.2H2136.1ZM2012.7 2051.9H2161.1V2075.8H2012.7ZM2185.5 2051.9H2259.9V2075.8H2185.5ZM1988 2075.5H2161.1V2099.4H1988ZM2185.5 2075.5H2210.5V2099.4H2185.5ZM1988 2099.1H2111.7V2122.9H1988ZM1963.3 2122.6H2111.7V2146.5H1963.3ZM1988 2146.2H2013V2170H1988ZM2037.4 2146.2H2087.1V2170H2037.4Z"/>
<path fill="#d7191c" d="M1839.9 1770H2383.3V1793.1H1839.9ZM1913.9 1792.8H1963.6V1816.7H1913.9ZM1988 1792.8H2383.3V1816.7H1988ZM1988 1816.4H2013V1840.2H1988ZM2062.1 1816.4H2087.1V1840.2H2062.1ZM2111.4 1816.4H2383.3V1840.2H2111.4ZM2037.4 1839.9H2161.1V1863.8H2037.4ZM2210.2 1839.9H2383.3V1863.8H2210.2ZM2111.4 1863.5H2161.1V1887.4H2111.4ZM2284.2 1863.5H2358.6V1887.4H2284.2Z"/>
<path fill="#fdc57a" d="M1790.5 1863.5H1815.5V1887.4H1790.5ZM1815.2 1887.1H1864.9V1910.9H1815.2ZM1889.2 1887.1H1914.2V1910.9H1889.2ZM1815.2 1910.6H1864.9V1934.5H1815.2ZM1889.2 1910.6H1938.9V1934.5H1889.2ZM1839.9 1934.2H1914.2V1958H1839.9ZM1938.6 1934.2H1963.6V1958H1938.6ZM1864.6 1957.7H1963.6V1981.6H1864.6ZM1864.6 1981.3H1963.6V2005.1H1864.6ZM1864.6 2004.8H1963.6V2028.7H1864.6ZM1864.6 2028.4H1963.6V2052.2H1864.6ZM1864.6 2051.9H1963.6V2075.8H1864.6ZM1889.2 2075.5H1938.9V2099.4H1889.2ZM1963.3 2075.5H1988.3V2099.4H1963.3ZM1889.2 2099.1H1963.6V2122.9H1889.2ZM1913.9 2122.6H1938.9V2146.5H1913.9ZM1889.2 2146.2H1938.9V2170H1889.2ZM2185.5 2146.2H2333.9V2170H2185.5ZM2358.3 2146.2H2383.3V2170H2358.3ZM1913.9 2169.7H1938.9V2193.6H1913.9ZM2160.8 2169.7H2383.3V2193.6H2160.8ZM1913.9 2193.3H1938.9V2217.1H1913.9ZM2160.8 2193.3H2284.6V2217.1H2160.8ZM2333.6 2193.3H2383.3V2217.1H2333.6ZM1913.9 2216.8H2087.1V2240.7H1913.9ZM2136.1 2216.8H2259.9V2240.7H2136.1ZM1938.6 2240.4H2087.1V2264.2H1938.6Z"/>
<path fill="#ffffc0" d="M1839.9 1957.7H1864.9V1981.6H1839.9ZM1839.9 1981.3H1864.9V2005.1H1839.9ZM1839.9 2004.8H1864.9V2028.7H1839.9ZM1839.9 2028.4H1864.9V2052.2H1839.9ZM1839.9 2051.9H1864.9V2075.8H1839.9ZM1864.6 2075.5H1889.5V2099.4H1864.6ZM1864.6 2099.1H1889.5V2122.9H1864.6ZM1864.6 2122.6H1889.5V2146.5H1864.6ZM1864.6 2146.2H1889.5V2170H1864.6ZM1864.6 2169.7H1889.5V2193.6H1864.6ZM1864.6 2193.3H1889.5V2217.1H1864.6ZM1864.6 2216.8H1889.5V2240.7H1864.6ZM1864.6 2240.4H1914.2V2264.2H1864.6ZM1839.9 2263.9H2013V2287.8H1839.9ZM1963.3 2287.5H2136.4V2311.4H1963.3ZM2185.5 2287.5H2333.9V2311.4H2185.5ZM1988 2311.1H2383.3V2334.9H1988ZM2136.1 2334.6H2309.2V2358.5H2136.1ZM2333.6 2334.6H2383.3V2358.5H2333.6Z"/>
<path fill="#fee29a" d="M1889.2 2122.6H1914.2V2146.5H1889.2ZM1889.2 2169.7H1914.2V2193.6H1889.2ZM1889.2 2193.3H1914.2V2217.1H1889.2ZM2284.2 2193.3H2333.9V2217.1H2284.2ZM1889.2 2216.8H1914.2V2240.7H1889.2ZM2259.6 2216.8H2383.3V2240.7H2259.6ZM1913.9 2240.4H1938.9V2264.2H1913.9ZM2185.5 2240.4H2383.3V2264.2H2185.5ZM2012.7 2263.9H2383.3V2287.8H2012.7ZM2136.1 2287.5H2185.8V2311.4H2136.1ZM2333.6 2287.5H2383.3V2311.4H2333.6Z"/>
<path fill="#b9dfdf" d="M1839.9 2146.2H1864.9V2170H1839.9ZM1815.2 2169.7H1864.9V2193.6H1815.2ZM1815.2 2193.3H1864.9V2217.1H1815.2ZM1815.2 2216.8H1864.9V2240.7H1815.2ZM1815.2 2240.4H1864.9V2264.2H1815.2ZM1815.2 2287.5H1864.9V2311.4H1815.2ZM1839.9 2311.1H1864.9V2334.9H1839.9ZM1839.9 2334.6H1889.5V2358.5H1839.9ZM1839.9 2358.2H1963.6V2382H1839.9ZM1938.6 2381.7H2062.4V2405.6H1938.6ZM1963.3 2405.3H2210.5V2425.6H1963.3Z"/>
<path fill="#8fc3de" d="M1790.5 2216.8H1815.5V2240.7H1790.5ZM1790.5 2240.4H1815.5V2264.2H1790.5ZM1790.5 2263.9H1815.5V2287.8H1790.5ZM1815.2 2311.1H1840.2V2334.9H1815.2ZM1815.2 2381.7H1938.9V2405.6H1815.2ZM1815.2 2405.3H1963.6V2425.6H1815.2Z"/>
<path fill="#dcefcf" d="M1815.2 2263.9H1840.2V2287.8H1815.2ZM1864.6 2287.5H1963.6V2311.4H1864.6ZM1864.6 2311.1H1988.3V2334.9H1864.6ZM1889.2 2334.6H2136.4V2358.5H1889.2ZM2308.9 2334.6H2333.9V2358.5H2308.9ZM1963.3 2358.2H2383.3V2382H1963.3ZM2062.1 2381.7H2383.3V2405.6H2062.1ZM2210.2 2405.3H2383.3V2425.6H2210.2Z"/>
<path fill="#5b9fcf" d="M1790.5 2287.5H1815.5V2311.4H1790.5ZM1765.8 2311.1H1815.5V2334.9H1765.8ZM1765.8 2334.6H1840.2V2358.5H1765.8ZM1765.8 2358.2H1840.2V2382H1765.8ZM1765.8 2381.7H1815.5V2405.6H1765.8ZM1765.8 2405.3H1815.5V2425.6H1765.8Z"/>

<path d="M1790.5 1770V2425.3M1938.6 1770V2425.3M2086.8 1770V2425.3M2234.9 1770V2425.3M2383 1770V2425.3M1696.2 1863.5H2387.2M1696.2 2004.8H2387.2M1696.2 2146.2H2387.2M1696.2 2287.5H2387.2" fill="none" stroke="#1a1a1a" stroke-opacity="0.8" stroke-width="2" stroke-dasharray="2.5 8.5"/>
<use href="#brd" stroke-width="3.0" transform="translate(1790.5 1863.5) scale(0.49375 0.47111)"/>




</g>
<g class="tk"><text x="1790.5" y="2457.3" text-anchor="middle">12°0'E</text><text x="1938.6" y="2457.3" text-anchor="middle">15°0'E</text><text x="2086.8" y="2457.3" text-anchor="middle">18°0'E</text><text x="2234.9" y="2457.3" text-anchor="middle">21°0'E</text><text x="2383" y="2457.3" text-anchor="middle">24°0'E</text><text x="1675.2" y="1869" text-anchor="end">6°0'S</text><text x="1675.2" y="2010.3" text-anchor="end">9°0'S</text><text x="1675.2" y="2151.7" text-anchor="end">12°0'S</text><text x="1675.2" y="2293" text-anchor="end">15°0'S</text></g>
</g>
<g id="p_j">
<clipPath id="clip_j"><rect x="107.6" y="2625" width="701.7" height="657.5"/></clipPath>
<rect x="99.2" y="2616.6" width="718.5" height="674.3" fill="#fff" stroke="#222" stroke-width="1.2"/>
<rect x="107" y="2624.4" width="702.9" height="658.7" fill="none" stroke="#222" stroke-width="1.2"/>
<path fill="#000" d="M107.6 2616H202.8V2625H107.6ZM107.6 3282.5H202.8V3291.5H107.6ZM353.1 2616H503.3V2625H353.1ZM353.1 3282.5H503.3V3291.5H353.1ZM653.5 2616H803.8V2625H653.5ZM653.5 3282.5H803.8V3291.5H653.5ZM98.6 2625H107.6V2711.2H98.6ZM809.3 2625H818.3V2711.2H809.3ZM98.6 2854.4H107.6V2997.7H98.6ZM809.3 2854.4H818.3V2997.7H809.3ZM98.6 3140.9H107.6V3282.5H98.6ZM809.3 3140.9H818.3V3282.5H809.3Z"/>
<g clip-path="url(#clip_j)">
<path fill="#2b83ba" d="M152.7 2625H278.2V2639.9H152.7ZM303 2625H353.4V2639.9H303ZM378.1 2625H403.4V2639.9H378.1ZM428.2 2625H653.8V2639.9H428.2ZM678.6 2625H804.1V2639.9H678.6ZM227.8 2639.6H353.4V2663.8H227.8ZM428.2 2639.6H503.6V2663.8H428.2ZM528.3 2639.6H603.8V2663.8H528.3ZM653.5 2639.6H678.9V2663.8H653.5ZM703.6 2639.6H729V2663.8H703.6ZM753.7 2639.6H804.1V2663.8H753.7ZM528.3 2663.5H603.8V2687.6H528.3ZM753.7 2663.5H804.1V2687.6H753.7ZM528.3 2687.3H603.8V2711.5H528.3ZM728.7 2687.3H804.1V2711.5H728.7ZM553.4 2711.2H578.7V2735.4H553.4ZM628.5 2711.2H678.9V2735.4H628.5ZM703.6 2711.2H729V2735.4H703.6ZM753.7 2735.1H804.1V2759.2H753.7ZM778.8 2758.9H804.1V2783.1H778.8ZM553.4 2782.8H578.7V2807H553.4ZM728.7 2782.8H804.1V2807H728.7ZM453.2 2806.7H478.6V2830.9H453.2ZM703.6 2806.7H804.1V2830.9H703.6ZM453.2 2830.6H478.6V2854.7H453.2ZM503.3 2830.6H528.6V2854.7H503.3ZM653.5 2830.6H678.9V2854.7H653.5ZM703.6 2830.6H804.1V2854.7H703.6ZM678.6 2854.4H804.1V2878.6H678.6ZM678.6 2878.3H779.1V2902.5H678.6ZM703.6 2902.2H804.1V2926.4H703.6ZM303 2926.1H328.3V2950.2H303ZM353.1 2926.1H378.4V2950.2H353.1ZM678.6 2926.1H779.1V2950.2H678.6ZM353.1 2949.9H378.4V2974.1H353.1Z"/>
<path fill="#c7e9ad" d="M277.9 2625H303.3V2639.9H277.9ZM378.1 2687.3H453.5V2711.5H378.1ZM478.3 2687.3H503.6V2711.5H478.3ZM202.8 2711.2H253.2V2735.4H202.8ZM353.1 2711.2H478.6V2735.4H353.1ZM227.8 2735.1H253.2V2759.2H227.8ZM353.1 2735.1H453.5V2759.2H353.1ZM227.8 2758.9H253.2V2783.1H227.8ZM378.1 2758.9H428.5V2783.1H378.1ZM478.3 2758.9H503.6V2783.1H478.3ZM252.9 2782.8H278.2V2807H252.9ZM353.1 2782.8H378.4V2807H353.1ZM478.3 2782.8H528.6V2807H478.3ZM252.9 2806.7H278.2V2830.9H252.9ZM303 2806.7H328.3V2830.9H303ZM478.3 2806.7H503.6V2830.9H478.3ZM252.9 2830.6H303.3V2854.7H252.9ZM603.5 2830.6H628.8V2854.7H603.5ZM252.9 2854.4H303.3V2878.6H252.9ZM553.4 2854.4H653.8V2878.6H553.4ZM252.9 2878.3H303.3V2902.5H252.9ZM353.1 2878.3H378.4V2902.5H353.1ZM453.2 2878.3H553.7V2902.5H453.2ZM578.4 2878.3H628.8V2902.5H578.4ZM252.9 2902.2H303.3V2926.4H252.9ZM328 2902.2H353.4V2926.4H328ZM453.2 2902.2H478.6V2926.4H453.2ZM503.3 2902.2H553.7V2926.4H503.3ZM578.4 2902.2H603.8V2926.4H578.4ZM277.9 2926.1H303.3V2950.2H277.9ZM378.1 2926.1H403.4V2950.2H378.1ZM528.3 2926.1H553.7V2950.2H528.3ZM378.1 2949.9H403.4V2974.1H378.1ZM503.3 2949.9H553.7V2974.1H503.3ZM578.4 2949.9H603.8V2974.1H578.4ZM653.5 2949.9H678.9V2974.1H653.5ZM378.1 2973.8H428.5V2998H378.1ZM553.4 2973.8H628.8V2998H553.4ZM678.6 2973.8H703.9V2998H678.6ZM378.1 2997.7H403.4V3021.8H378.1ZM528.3 2997.7H578.7V3021.8H528.3ZM603.5 2997.7H729V3021.8H603.5ZM778.8 2997.7H804.1V3021.8H778.8ZM378.1 3021.5H403.4V3045.7H378.1ZM478.3 3021.5H603.8V3045.7H478.3ZM653.5 3021.5H779.1V3045.7H653.5ZM277.9 3045.4H303.3V3069.6H277.9ZM328 3045.4H378.4V3069.6H328ZM503.3 3045.4H603.8V3069.6H503.3ZM678.6 3045.4H703.9V3069.6H678.6ZM303 3069.3H353.4V3093.5H303ZM553.4 3069.3H628.8V3093.5H553.4ZM252.9 3093.2H278.2V3117.3H252.9ZM578.4 3093.2H603.8V3117.3H578.4ZM252.9 3117H303.3V3141.2H252.9ZM478.3 3117H503.6V3141.2H478.3ZM528.3 3117H553.7V3141.2H528.3ZM678.6 3117H703.9V3141.2H678.6ZM277.9 3140.9H303.3V3165.1H277.9ZM428.2 3140.9H478.6V3165.1H428.2ZM503.3 3140.9H578.7V3165.1H503.3ZM603.5 3140.9H653.8V3165.1H603.5ZM177.8 3164.8H203.1V3188.9H177.8ZM227.8 3164.8H253.2V3188.9H227.8ZM277.9 3164.8H303.3V3188.9H277.9ZM453.2 3164.8H478.6V3188.9H453.2ZM503.3 3164.8H553.7V3188.9H503.3ZM603.5 3164.8H678.9V3188.9H603.5ZM177.8 3188.6H203.1V3212.8H177.8ZM227.8 3188.6H253.2V3212.8H227.8ZM277.9 3188.6H328.3V3212.8H277.9ZM403.1 3188.6H428.5V3212.8H403.1ZM478.3 3188.6H703.9V3212.8H478.3ZM177.8 3212.5H228.1V3236.7H177.8ZM503.3 3212.5H578.7V3236.7H503.3ZM653.5 3212.5H703.9V3236.7H653.5ZM177.8 3236.4H253.2V3260.6H177.8ZM478.3 3236.4H553.7V3260.6H478.3ZM227.8 3260.3H253.2V3282.8H227.8ZM277.9 3260.3H303.3V3282.8H277.9Z"/>
<path fill="#80bfab" d="M353.1 2625H378.4V2639.9H353.1ZM403.1 2625H428.5V2639.9H403.1ZM653.5 2625H678.9V2639.9H653.5ZM177.8 2639.6H228.1V2663.8H177.8ZM353.1 2639.6H428.5V2663.8H353.1ZM503.3 2639.6H528.6V2663.8H503.3ZM603.5 2639.6H653.8V2663.8H603.5ZM678.6 2639.6H703.9V2663.8H678.6ZM728.7 2639.6H754V2663.8H728.7ZM202.8 2663.5H528.6V2687.6H202.8ZM603.5 2663.5H754V2687.6H603.5ZM202.8 2687.3H378.4V2711.5H202.8ZM453.2 2687.3H478.6V2711.5H453.2ZM503.3 2687.3H528.6V2711.5H503.3ZM603.5 2687.3H729V2711.5H603.5ZM252.9 2711.2H353.4V2735.4H252.9ZM478.3 2711.2H553.7V2735.4H478.3ZM578.4 2711.2H628.8V2735.4H578.4ZM678.6 2711.2H703.9V2735.4H678.6ZM728.7 2711.2H804.1V2735.4H728.7ZM252.9 2735.1H353.4V2759.2H252.9ZM453.2 2735.1H754V2759.2H453.2ZM252.9 2758.9H378.4V2783.1H252.9ZM428.2 2758.9H478.6V2783.1H428.2ZM503.3 2758.9H779.1V2783.1H503.3ZM277.9 2782.8H353.4V2807H277.9ZM378.1 2782.8H478.6V2807H378.1ZM528.3 2782.8H553.7V2807H528.3ZM578.4 2782.8H729V2807H578.4ZM277.9 2806.7H303.3V2830.9H277.9ZM328 2806.7H453.5V2830.9H328ZM503.3 2806.7H703.9V2830.9H503.3ZM303 2830.6H453.5V2854.7H303ZM478.3 2830.6H503.6V2854.7H478.3ZM528.3 2830.6H603.8V2854.7H528.3ZM628.5 2830.6H653.8V2854.7H628.5ZM678.6 2830.6H703.9V2854.7H678.6ZM303 2854.4H553.7V2878.6H303ZM653.5 2854.4H678.9V2878.6H653.5ZM303 2878.3H353.4V2902.5H303ZM378.1 2878.3H453.5V2902.5H378.1ZM553.4 2878.3H578.7V2902.5H553.4ZM628.5 2878.3H678.9V2902.5H628.5ZM778.8 2878.3H804.1V2902.5H778.8ZM303 2902.2H328.3V2926.4H303ZM353.1 2902.2H453.5V2926.4H353.1ZM478.3 2902.2H503.6V2926.4H478.3ZM553.4 2902.2H578.7V2926.4H553.4ZM603.5 2902.2H703.9V2926.4H603.5ZM328 2926.1H353.4V2950.2H328ZM403.1 2926.1H528.6V2950.2H403.1ZM553.4 2926.1H678.9V2950.2H553.4ZM778.8 2926.1H804.1V2950.2H778.8ZM277.9 2949.9H353.4V2974.1H277.9ZM403.1 2949.9H503.6V2974.1H403.1ZM553.4 2949.9H578.7V2974.1H553.4ZM603.5 2949.9H653.8V2974.1H603.5ZM678.6 2949.9H804.1V2974.1H678.6ZM277.9 2973.8H378.4V2998H277.9ZM428.2 2973.8H553.7V2998H428.2ZM628.5 2973.8H678.9V2998H628.5ZM703.6 2973.8H804.1V2998H703.6ZM252.9 2997.7H378.4V3021.8H252.9ZM503.3 2997.7H528.6V3021.8H503.3ZM728.7 2997.7H779.1V3021.8H728.7ZM227.8 3021.5H378.4V3045.7H227.8ZM227.8 3045.4H278.2V3069.6H227.8ZM303 3045.4H328.3V3069.6H303ZM202.8 3069.3H303.3V3093.5H202.8ZM202.8 3093.2H253.2V3117.3H202.8ZM277.9 3093.2H303.3V3117.3H277.9ZM202.8 3117H253.2V3141.2H202.8ZM202.8 3140.9H278.2V3165.1H202.8ZM202.8 3164.8H228.1V3188.9H202.8ZM252.9 3164.8H278.2V3188.9H252.9ZM202.8 3188.6H228.1V3212.8H202.8ZM252.9 3188.6H278.2V3212.8H252.9ZM227.8 3212.5H278.2V3236.7H227.8ZM252.9 3236.4H278.2V3260.6H252.9Z"/>
<path fill="#ffffbf" d="M403.1 2997.7H503.6V3021.8H403.1ZM578.4 2997.7H603.8V3021.8H578.4ZM403.1 3021.5H478.6V3045.7H403.1ZM603.5 3021.5H653.8V3045.7H603.5ZM778.8 3021.5H804.1V3045.7H778.8ZM378.1 3045.4H503.6V3069.6H378.1ZM603.5 3045.4H678.9V3069.6H603.5ZM703.6 3045.4H804.1V3069.6H703.6ZM378.1 3069.3H553.7V3093.5H378.1ZM628.5 3069.3H779.1V3093.5H628.5ZM303 3093.2H353.4V3117.3H303ZM378.1 3093.2H578.7V3117.3H378.1ZM603.5 3093.2H703.9V3117.3H603.5ZM303 3117H478.6V3141.2H303ZM503.3 3117H528.6V3141.2H503.3ZM553.4 3117H678.9V3141.2H553.4ZM703.6 3117H729V3141.2H703.6ZM303 3140.9H378.4V3165.1H303ZM403.1 3140.9H428.5V3165.1H403.1ZM478.3 3140.9H503.6V3165.1H478.3ZM578.4 3140.9H603.8V3165.1H578.4ZM653.5 3140.9H703.9V3165.1H653.5ZM303 3164.8H353.4V3188.9H303ZM378.1 3164.8H453.5V3188.9H378.1ZM478.3 3164.8H503.6V3188.9H478.3ZM553.4 3164.8H603.8V3188.9H553.4ZM678.6 3164.8H703.9V3188.9H678.6ZM328 3188.6H353.4V3212.8H328ZM428.2 3188.6H478.6V3212.8H428.2ZM703.6 3188.6H729V3212.8H703.6ZM753.7 3188.6H804.1V3212.8H753.7ZM277.9 3212.5H328.3V3236.7H277.9ZM353.1 3212.5H378.4V3236.7H353.1ZM453.2 3212.5H503.6V3236.7H453.2ZM578.4 3212.5H653.8V3236.7H578.4ZM703.6 3212.5H804.1V3236.7H703.6ZM277.9 3236.4H378.4V3260.6H277.9ZM453.2 3236.4H478.6V3260.6H453.2ZM553.4 3236.4H603.8V3260.6H553.4ZM628.5 3236.4H653.8V3260.6H628.5ZM678.6 3236.4H729V3260.6H678.6ZM778.8 3236.4H804.1V3260.6H778.8ZM177.8 3260.3H228.1V3282.8H177.8ZM252.9 3260.3H278.2V3282.8H252.9ZM353.1 3260.3H378.4V3282.8H353.1ZM428.2 3260.3H553.7V3282.8H428.2ZM578.4 3260.3H603.8V3282.8H578.4ZM703.6 3260.3H729V3282.8H703.6ZM778.8 3260.3H804.1V3282.8H778.8Z"/>
<path fill="#fec980" d="M353.1 3069.3H378.4V3093.5H353.1ZM778.8 3069.3H804.1V3093.5H778.8ZM353.1 3093.2H378.4V3117.3H353.1ZM703.6 3093.2H804.1V3117.3H703.6ZM728.7 3117H754V3141.2H728.7ZM378.1 3140.9H403.4V3165.1H378.1ZM703.6 3140.9H754V3165.1H703.6ZM353.1 3164.8H378.4V3188.9H353.1ZM703.6 3164.8H804.1V3188.9H703.6ZM353.1 3188.6H403.4V3212.8H353.1ZM728.7 3188.6H754V3212.8H728.7ZM328 3212.5H353.4V3236.7H328ZM403.1 3212.5H453.5V3236.7H403.1ZM378.1 3236.4H453.5V3260.6H378.1ZM603.5 3236.4H628.8V3260.6H603.5ZM653.5 3236.4H678.9V3260.6H653.5ZM728.7 3236.4H779.1V3260.6H728.7ZM303 3260.3H353.4V3282.8H303ZM378.1 3260.3H428.5V3282.8H378.1ZM553.4 3260.3H578.7V3282.8H553.4ZM603.5 3260.3H653.8V3282.8H603.5ZM678.6 3260.3H703.9V3282.8H678.6ZM728.7 3260.3H779.1V3282.8H728.7Z"/>
<path fill="#f07c4a" d="M753.7 3117H804.1V3141.2H753.7ZM753.7 3140.9H804.1V3165.1H753.7ZM378.1 3212.5H403.4V3236.7H378.1ZM653.5 3260.3H678.9V3282.8H653.5Z"/>

<path d="M202.8 2625V3282.5M353.1 2625V3282.5M503.3 2625V3282.5M653.5 2625V3282.5M803.8 2625V3282.5M107.6 2711.2H809.3M107.6 2854.4H809.3M107.6 2997.7H809.3M107.6 3140.9H809.3" fill="none" stroke="#1a1a1a" stroke-opacity="0.8" stroke-width="2" stroke-dasharray="2.5 8.5"/>
<use href="#brd" stroke-width="2.2" transform="translate(202.8 2711.2) scale(0.50083 0.47744)"/>
<g class="lab" font-size="23.5"><text x="178.8" y="2675.4" textLength="93">Cabinda</text><text x="251.9" y="2735.1" textLength="57.7">Zaire</text><text x="349.5" y="2735.1" textLength="46.6">Uíge</text><text x="181.8" y="2849.2" textLength="84.2">Luanda</text><text x="241.9" y="2895" textLength="65.4">Bengo</text><text x="225.8" y="2950.4" textLength="126.4">Cuanza Sul</text><text x="367.6" y="2880.7" textLength="88.7">Malanje</text><text x="316.5" y="2866.8" textLength="152.7" transform="rotate(-30 316.5 2866.8)">Cuanza Norte</text><text x="486.3" y="2866.8" textLength="139.7">Lunda Norte</text><text x="539.4" y="2933.7" textLength="113">Lunda Sul</text><text x="212.3" y="3036.3" textLength="99.8">Benguela</text><text x="355.1" y="3033" textLength="95.3">Huambo</text><text x="320" y="3137.1" textLength="59.9">Huíla</text><text x="162.7" y="3158.6" textLength="85.3">Namibe</text><text x="339" y="3221.1" textLength="83.1">Cunene</text><text x="454.2" y="3021.5" textLength="35">Bié</text><text x="614.5" y="3047.8" textLength="80.9">Moxico</text><text x="489.8" y="3244.5" textLength="194">Cuando Cubango</text></g>

<rect x="497.1" y="2696.9" width="236.5" height="11.9" fill="#fff" stroke="#111" stroke-width="1.5"/><rect x="497.1" y="2696.9" width="118.2" height="11.9" fill="#000"/><g class="sb"><text x="498.1" y="2685" text-anchor="middle">0</text><text x="615.3" y="2685" text-anchor="middle">250</text><text x="747.6" y="2685" text-anchor="middle">500 km</text></g>
<path d="M141 2629L114 2692L141 2668.1Z" fill="#dcdcdc"/><path d="M141 2629L114 2692L141 2668.1L168 2692Z" fill="none" stroke="#111" stroke-width="2.6" stroke-linejoin="miter"/><path d="M141.8 2636L141.8 2665.6L163.5 2687.5Z" fill="#fff" stroke="none"/>
</g>
<g class="tk"><text x="202.8" y="3314.5" text-anchor="middle">12°0'E</text><text x="353.1" y="3314.5" text-anchor="middle">15°0'E</text><text x="503.3" y="3314.5" text-anchor="middle">18°0'E</text><text x="653.5" y="3314.5" text-anchor="middle">21°0'E</text><text x="803.8" y="3314.5" text-anchor="middle">24°0'E</text><text x="86.6" y="2716.7" text-anchor="end">6°0'S</text><text x="86.6" y="2859.9" text-anchor="end">9°0'S</text><text x="86.6" y="3003.2" text-anchor="end">12°0'S</text><text x="86.6" y="3146.4" text-anchor="end">15°0'S</text></g>
</g>
<g id="p_k">
<clipPath id="clip_k"><rect x="908.7" y="2623" width="684.9" height="660"/></clipPath>
<rect x="900.3" y="2614.6" width="701.7" height="676.8" fill="#fff" stroke="#222" stroke-width="1.2"/>
<rect x="908.1" y="2622.4" width="686.1" height="661.2" fill="none" stroke="#222" stroke-width="1.2"/>
<path fill="#000" d="M908.7 2614H982.5V2623H908.7ZM908.7 3283H982.5V3292H908.7ZM1133 2614H1283.5V2623H1133ZM1133 3283H1283.5V3292H1133ZM1434 2614H1584.5V2623H1434ZM1434 3283H1584.5V3292H1434ZM899.7 2623H908.7V2703H899.7ZM1593.6 2623H1602.6V2703H1593.6ZM899.7 2849.9H908.7V2996.8H899.7ZM1593.6 2849.9H1602.6V2996.8H1593.6ZM899.7 3143.7H908.7V3283H899.7ZM1593.6 3143.7H1602.6V3283H1593.6Z"/>
<g clip-path="url(#clip_k)">
<path fill="#fec980" d="M932.3 2623H957.7V2629.9H932.3ZM982.5 2623H1033V2629.9H982.5ZM1408.9 2623H1509.5V2629.9H1408.9ZM982.5 2629.6H1007.9V2654.3H982.5ZM1408.9 2629.6H1484.5V2654.3H1408.9ZM1383.8 2654H1484.5V2678.8H1383.8ZM1007.6 2678.5H1058V2703.3H1007.6ZM1358.8 2678.5H1484.5V2703.3H1358.8ZM1534.3 2678.5H1559.7V2703.3H1534.3ZM1007.6 2703H1033V2727.8H1007.6ZM1358.8 2703H1459.4V2727.8H1358.8ZM1007.6 2727.5H1033V2752.3H1007.6ZM1032.7 2776.4H1058V2801.2H1032.7ZM1057.8 2825.4H1083.1V2850.2H1057.8ZM1057.8 2849.9H1083.1V2874.7H1057.8ZM1057.8 2874.4H1083.1V2899.2H1057.8ZM1057.8 2898.9H1083.1V2923.7H1057.8ZM1082.8 2947.8H1108.2V2972.6H1082.8ZM1082.8 2972.3H1108.2V2997.1H1082.8ZM1007.6 3021.3H1033V3046.1H1007.6ZM1057.8 3021.3H1083.1V3046.1H1057.8ZM1007.6 3045.8H1033V3070.6H1007.6ZM982.5 3070.2H1007.9V3095H982.5ZM982.5 3119.2H1007.9V3144H982.5ZM982.5 3143.7H1007.9V3168.5H982.5Z"/>
<path fill="#f99e59" d="M957.4 2623H982.8V2629.9H957.4ZM957.4 2629.6H982.8V2654.3H957.4ZM982.5 2654H1007.9V2678.8H982.5ZM1007.6 2752H1033V2776.8H1007.6ZM1032.7 2800.9H1058V2825.7H1032.7ZM1032.7 2825.4H1058V2850.2H1032.7ZM1032.7 2849.9H1058V2874.7H1032.7ZM1032.7 2874.4H1058V2899.2H1032.7ZM1032.7 2898.9H1058V2923.7H1032.7ZM1057.8 2923.3H1083.1V2948.1H1057.8ZM1057.8 2947.8H1083.1V2972.6H1057.8ZM1032.7 2996.8H1058V3021.6H1032.7ZM1032.7 3021.3H1058V3046.1H1032.7ZM982.5 3094.7H1007.9V3119.5H982.5Z"/>
<path fill="#ffedaa" d="M1032.7 2623H1058V2629.9H1032.7ZM1358.8 2623H1409.2V2629.9H1358.8ZM1509.2 2623H1584.8V2629.9H1509.2ZM1007.6 2629.6H1058V2654.3H1007.6ZM1358.8 2629.6H1409.2V2654.3H1358.8ZM1484.2 2629.6H1584.8V2654.3H1484.2ZM1007.6 2654H1058V2678.8H1007.6ZM1358.8 2654H1384.1V2678.8H1358.8ZM1484.2 2654H1584.8V2678.8H1484.2ZM1057.8 2678.5H1108.2V2703.3H1057.8ZM1333.7 2678.5H1359V2703.3H1333.7ZM1484.2 2678.5H1534.6V2703.3H1484.2ZM1559.4 2678.5H1584.8V2703.3H1559.4ZM1032.7 2703H1058V2727.8H1032.7ZM1308.6 2703H1359V2727.8H1308.6ZM1459.1 2703H1484.5V2727.8H1459.1ZM1534.3 2703H1584.8V2727.8H1534.3ZM1032.7 2727.5H1058V2752.3H1032.7ZM1308.6 2727.5H1459.4V2752.3H1308.6ZM1534.3 2727.5H1584.8V2752.3H1534.3ZM1032.7 2752H1058V2776.8H1032.7ZM1383.8 2752H1459.4V2776.8H1383.8ZM1534.3 2752H1584.8V2776.8H1534.3ZM1057.8 2776.4H1083.1V2801.2H1057.8ZM1534.3 2776.4H1584.8V2801.2H1534.3ZM1057.8 2800.9H1133.3V2825.7H1057.8ZM1559.4 2800.9H1584.8V2825.7H1559.4ZM1082.8 2825.4H1133.3V2850.2H1082.8ZM1559.4 2825.4H1584.8V2850.2H1559.4ZM1082.8 2849.9H1133.3V2874.7H1082.8ZM1082.8 2874.4H1108.2V2899.2H1082.8ZM1082.8 2898.9H1108.2V2923.7H1082.8ZM1082.8 2923.3H1108.2V2948.1H1082.8ZM1082.8 2996.8H1108.2V3021.6H1082.8ZM1082.8 3021.3H1108.2V3046.1H1082.8ZM1032.7 3045.8H1083.1V3070.6H1032.7ZM1007.6 3070.2H1033V3095H1007.6ZM1007.6 3094.7H1033V3119.5H1007.6ZM957.4 3168.2H982.8V3193H957.4Z"/>
<path fill="#edf8b9" d="M1057.8 2623H1133.3V2629.9H1057.8ZM1333.7 2623H1359V2629.9H1333.7ZM1057.8 2629.6H1108.2V2654.3H1057.8ZM1333.7 2629.6H1359V2654.3H1333.7ZM1057.8 2654H1158.4V2678.8H1057.8ZM1283.5 2654H1359V2678.8H1283.5ZM1107.9 2678.5H1183.5V2703.3H1107.9ZM1258.4 2678.5H1334V2703.3H1258.4ZM1057.8 2703H1158.4V2727.8H1057.8ZM1258.4 2703H1308.9V2727.8H1258.4ZM1484.2 2703H1534.6V2727.8H1484.2ZM1057.8 2727.5H1083.1V2752.3H1057.8ZM1258.4 2727.5H1308.9V2752.3H1258.4ZM1459.1 2727.5H1534.6V2752.3H1459.1ZM1057.8 2752H1108.2V2776.8H1057.8ZM1133 2752H1158.4V2776.8H1133ZM1283.5 2752H1384.1V2776.8H1283.5ZM1459.1 2752H1534.6V2776.8H1459.1ZM1082.8 2776.4H1158.4V2801.2H1082.8ZM1283.5 2776.4H1534.6V2801.2H1283.5ZM1133 2800.9H1158.4V2825.7H1133ZM1383.8 2800.9H1559.7V2825.7H1383.8ZM1133 2825.4H1158.4V2850.2H1133ZM1534.3 2825.4H1559.7V2850.2H1534.3ZM1133 2849.9H1158.4V2874.7H1133ZM1534.3 2849.9H1584.8V2874.7H1534.3ZM1107.9 2874.4H1158.4V2899.2H1107.9ZM1534.3 2874.4H1584.8V2899.2H1534.3ZM1107.9 2898.9H1158.4V2923.7H1107.9ZM1534.3 2898.9H1584.8V2923.7H1534.3ZM1107.9 2923.3H1133.3V2948.1H1107.9ZM1559.4 2923.3H1584.8V2948.1H1559.4ZM1107.9 2947.8H1133.3V2972.6H1107.9ZM1534.3 2947.8H1584.8V2972.6H1534.3ZM1107.9 2972.3H1158.4V2997.1H1107.9ZM1534.3 2972.3H1584.8V2997.1H1534.3ZM1107.9 2996.8H1133.3V3021.6H1107.9ZM1107.9 3021.3H1133.3V3046.1H1107.9ZM1082.8 3045.8H1133.3V3070.6H1082.8ZM1032.7 3070.2H1083.1V3095H1032.7ZM1032.7 3094.7H1058V3119.5H1032.7ZM1133 3094.7H1158.4V3119.5H1133ZM1007.6 3119.2H1033V3144H1007.6ZM1208.2 3119.2H1233.6V3144H1208.2ZM1007.6 3143.7H1033V3168.5H1007.6ZM957.4 3192.7H982.8V3217.4H957.4ZM957.4 3217.1H982.8V3241.9H957.4ZM957.4 3241.6H982.8V3266.4H957.4ZM957.4 3266.1H982.8V3283.3H957.4Z"/>
<path fill="#c7e9ad" d="M1133 2623H1183.5V2629.9H1133ZM1283.5 2623H1334V2629.9H1283.5ZM1107.9 2629.6H1158.4V2654.3H1107.9ZM1283.5 2629.6H1334V2654.3H1283.5ZM1158.1 2654H1183.5V2678.8H1158.1ZM1258.4 2654H1283.8V2678.8H1258.4ZM1183.2 2678.5H1258.7V2703.3H1183.2ZM1158.1 2703H1258.7V2727.8H1158.1ZM1082.8 2727.5H1258.7V2752.3H1082.8ZM1107.9 2752H1133.3V2776.8H1107.9ZM1158.1 2752H1208.5V2776.8H1158.1ZM1233.3 2752H1283.8V2776.8H1233.3ZM1158.1 2776.4H1208.5V2801.2H1158.1ZM1258.4 2776.4H1283.8V2801.2H1258.4ZM1158.1 2800.9H1183.5V2825.7H1158.1ZM1258.4 2800.9H1384.1V2825.7H1258.4ZM1158.1 2825.4H1183.5V2850.2H1158.1ZM1383.8 2825.4H1534.6V2850.2H1383.8ZM1158.1 2849.9H1183.5V2874.7H1158.1ZM1408.9 2849.9H1534.6V2874.7H1408.9ZM1158.1 2874.4H1183.5V2899.2H1158.1ZM1509.2 2874.4H1534.6V2899.2H1509.2ZM1158.1 2898.9H1183.5V2923.7H1158.1ZM1434 2898.9H1484.5V2923.7H1434ZM1509.2 2898.9H1534.6V2923.7H1509.2ZM1133 2923.3H1208.5V2948.1H1133ZM1333.7 2923.3H1484.5V2948.1H1333.7ZM1509.2 2923.3H1559.7V2948.1H1509.2ZM1133 2947.8H1183.5V2972.6H1133ZM1283.5 2947.8H1534.6V2972.6H1283.5ZM1158.1 2972.3H1208.5V2997.1H1158.1ZM1308.6 2972.3H1534.6V2997.1H1308.6ZM1133 2996.8H1158.4V3021.6H1133ZM1358.8 2996.8H1584.8V3021.6H1358.8ZM1133 3021.3H1158.4V3046.1H1133ZM1383.8 3021.3H1584.8V3046.1H1383.8ZM1133 3045.8H1158.4V3070.6H1133ZM1408.9 3045.8H1484.5V3070.6H1408.9ZM1534.3 3045.8H1584.8V3070.6H1534.3ZM1082.8 3070.2H1133.3V3095H1082.8ZM1408.9 3070.2H1509.5V3095H1408.9ZM1057.8 3094.7H1133.3V3119.5H1057.8ZM1233.3 3094.7H1308.9V3119.5H1233.3ZM1408.9 3094.7H1484.5V3119.5H1408.9ZM1032.7 3119.2H1058V3144H1032.7ZM1133 3119.2H1208.5V3144H1133ZM1233.3 3119.2H1308.9V3144H1233.3ZM1333.7 3119.2H1384.1V3144H1333.7ZM1408.9 3119.2H1484.5V3144H1408.9ZM1158.1 3143.7H1308.9V3168.5H1158.1ZM1383.8 3143.7H1409.2V3168.5H1383.8ZM982.5 3168.2H1083.1V3193H982.5ZM1107.9 3168.2H1133.3V3193H1107.9ZM1158.1 3168.2H1258.7V3193H1158.1ZM1233.3 3192.7H1258.7V3217.4H1233.3ZM1208.2 3217.1H1233.6V3241.9H1208.2Z"/>
<path fill="#9dd3a7" d="M1183.2 2623H1283.8V2629.9H1183.2ZM1158.1 2629.6H1283.8V2654.3H1158.1ZM1183.2 2654H1258.7V2678.8H1183.2ZM1208.2 2752H1233.6V2776.8H1208.2ZM1208.2 2776.4H1258.7V2801.2H1208.2ZM1183.2 2800.9H1208.5V2825.7H1183.2ZM1183.2 2825.4H1208.5V2850.2H1183.2ZM1258.4 2825.4H1384.1V2850.2H1258.4ZM1183.2 2849.9H1208.5V2874.7H1183.2ZM1258.4 2849.9H1409.2V2874.7H1258.4ZM1183.2 2874.4H1208.5V2899.2H1183.2ZM1233.3 2874.4H1359V2899.2H1233.3ZM1383.8 2874.4H1509.5V2899.2H1383.8ZM1183.2 2898.9H1434.3V2923.7H1183.2ZM1484.2 2898.9H1509.5V2923.7H1484.2ZM1208.2 2923.3H1334V2948.1H1208.2ZM1484.2 2923.3H1509.5V2948.1H1484.2ZM1183.2 2947.8H1283.8V2972.6H1183.2ZM1258.4 2972.3H1308.9V2997.1H1258.4ZM1158.1 2996.8H1183.5V3021.6H1158.1ZM1283.5 2996.8H1359V3021.6H1283.5ZM1158.1 3021.3H1183.5V3046.1H1158.1ZM1283.5 3021.3H1384.1V3046.1H1283.5ZM1158.1 3045.8H1183.5V3070.6H1158.1ZM1258.4 3045.8H1409.2V3070.6H1258.4ZM1484.2 3045.8H1534.6V3070.6H1484.2ZM1133 3070.2H1208.5V3095H1133ZM1233.3 3070.2H1409.2V3095H1233.3ZM1509.2 3070.2H1584.8V3095H1509.2ZM1158.1 3094.7H1233.6V3119.5H1158.1ZM1308.6 3094.7H1409.2V3119.5H1308.6ZM1484.2 3094.7H1584.8V3119.5H1484.2ZM1057.8 3119.2H1133.3V3144H1057.8ZM1308.6 3119.2H1334V3144H1308.6ZM1383.8 3119.2H1409.2V3144H1383.8ZM1484.2 3119.2H1584.8V3144H1484.2ZM1032.7 3143.7H1158.4V3168.5H1032.7ZM1308.6 3143.7H1384.1V3168.5H1308.6ZM1408.9 3143.7H1559.7V3168.5H1408.9ZM1082.8 3168.2H1108.2V3193H1082.8ZM1133 3168.2H1158.4V3193H1133ZM1258.4 3168.2H1559.7V3193H1258.4ZM982.5 3192.7H1233.6V3217.4H982.5ZM1258.4 3192.7H1559.7V3217.4H1258.4ZM982.5 3217.1H1133.3V3241.9H982.5ZM1233.3 3217.1H1559.7V3241.9H1233.3ZM982.5 3241.6H1133.3V3266.4H982.5ZM1333.7 3241.6H1509.5V3266.4H1333.7ZM1007.6 3266.1H1133.3V3283.3H1007.6ZM1383.8 3266.1H1484.5V3283.3H1383.8Z"/>
<path fill="#e85b3a" d="M982.5 2678.5H1007.9V2703.3H982.5ZM982.5 2703H1007.9V2727.8H982.5ZM1057.8 2972.3H1083.1V2997.1H1057.8ZM1057.8 2996.8H1083.1V3021.6H1057.8Z"/>
<path fill="#64abb0" d="M1208.2 2800.9H1258.7V2825.7H1208.2ZM1208.2 2825.4H1258.7V2850.2H1208.2ZM1208.2 2849.9H1258.7V2874.7H1208.2ZM1208.2 2874.4H1233.6V2899.2H1208.2ZM1358.8 2874.4H1384.1V2899.2H1358.8ZM1208.2 2972.3H1258.7V2997.1H1208.2ZM1183.2 2996.8H1208.5V3021.6H1183.2ZM1233.3 2996.8H1283.8V3021.6H1233.3ZM1183.2 3021.3H1208.5V3046.1H1183.2ZM1258.4 3021.3H1283.8V3046.1H1258.4ZM1183.2 3045.8H1258.7V3070.6H1183.2ZM1208.2 3070.2H1233.6V3095H1208.2ZM1559.4 3143.7H1584.8V3168.5H1559.4ZM1559.4 3168.2H1584.8V3193H1559.4ZM1559.4 3192.7H1584.8V3217.4H1559.4ZM1133 3217.1H1208.5V3241.9H1133ZM1559.4 3217.1H1584.8V3241.9H1559.4ZM1133 3241.6H1334V3266.4H1133ZM1509.2 3241.6H1584.8V3266.4H1509.2ZM982.5 3266.1H1007.9V3283.3H982.5ZM1133 3266.1H1384.1V3283.3H1133ZM1484.2 3266.1H1584.8V3283.3H1484.2Z"/>
<path fill="#2b83ba" d="M1208.2 2996.8H1233.6V3021.6H1208.2ZM1208.2 3021.3H1258.7V3046.1H1208.2Z"/>

<path d="M982.5 2623V3283M1133 2623V3283M1283.5 2623V3283M1434 2623V3283M1584.5 2623V3283M908.7 2703H1593.6M908.7 2849.9H1593.6M908.7 2996.8H1593.6M908.7 3143.7H1593.6" fill="none" stroke="#1a1a1a" stroke-opacity="0.8" stroke-width="2" stroke-dasharray="2.5 8.5"/>
<use href="#brd" stroke-width="2.2" transform="translate(982.5 2703) scale(0.50167 0.48967)"/>
<g class="lab" font-size="23.5"><text x="958.4" y="2666.3" textLength="93">Cabinda</text><text x="1031.7" y="2727.5" textLength="57.7">Zaire</text><text x="1129.5" y="2727.5" textLength="46.6">Uíge</text><text x="961.4" y="2844.5" textLength="84.2">Luanda</text><text x="1021.6" y="2891.5" textLength="65.4">Bengo</text><text x="1005.6" y="2948.3" textLength="126.4">Cuanza Sul</text><text x="1147.5" y="2876.8" textLength="88.7">Malanje</text><text x="1096.4" y="2862.6" textLength="152.7" transform="rotate(-30 1096.4 2862.6)">Cuanza Norte</text><text x="1266.4" y="2862.6" textLength="139.7">Lunda Norte</text><text x="1319.6" y="2931.2" textLength="113">Lunda Sul</text><text x="992" y="3036.5" textLength="99.8">Benguela</text><text x="1135" y="3033" textLength="95.3">Huambo</text><text x="1099.9" y="3139.8" textLength="59.9">Huíla</text><text x="942.4" y="3161.8" textLength="85.3">Namibe</text><text x="1119" y="3226" textLength="83.1">Cunene</text><text x="1234.3" y="3021.3" textLength="35">Bié</text><text x="1394.9" y="3048.2" textLength="80.9">Moxico</text><text x="1270" y="3250" textLength="194">Cuando Cubango</text></g>

<rect x="1283.3" y="2687.1" width="238" height="12.3" fill="#fff" stroke="#111" stroke-width="1.5"/><rect x="1283.3" y="2687.1" width="119" height="12.3" fill="#000"/><g class="sb"><text x="1284.3" y="2673.6" text-anchor="middle">0</text><text x="1402.3" y="2673.6" text-anchor="middle">250</text><text x="1535.3" y="2673.6" text-anchor="middle">500 km</text></g>
<path d="M932.6 2629L910.6 2684L932.6 2663.1Z" fill="#dcdcdc"/><path d="M932.6 2629L910.6 2684L932.6 2663.1L954.6 2684Z" fill="none" stroke="#111" stroke-width="2.6" stroke-linejoin="miter"/><path d="M933.4 2636L933.4 2660.6L950.1 2679.5Z" fill="#fff" stroke="none"/>
</g>
<g class="tk"><text x="982.5" y="3315" text-anchor="middle">12°0'E</text><text x="1133" y="3315" text-anchor="middle">15°0'E</text><text x="1283.5" y="3315" text-anchor="middle">18°0'E</text><text x="1434" y="3315" text-anchor="middle">21°0'E</text><text x="1584.5" y="3315" text-anchor="middle">24°0'E</text><text x="887.7" y="2708.5" text-anchor="end">6°0'S</text><text x="887.7" y="2855.4" text-anchor="end">9°0'S</text><text x="887.7" y="3002.3" text-anchor="end">12°0'S</text><text x="887.7" y="3149.2" text-anchor="end">15°0'S</text></g>
</g>
<g id="p_l">
<clipPath id="clip_l"><rect x="1703" y="2625.5" width="702.4" height="661.1"/></clipPath>
<rect x="1694.6" y="2617.1" width="719.2" height="677.9" fill="#fff" stroke="#222" stroke-width="1.2"/>
<rect x="1702.4" y="2624.9" width="703.6" height="662.3" fill="none" stroke="#222" stroke-width="1.2"/>
<path fill="#000" d="M1703 2616.5H1797.6V2625.5H1703ZM1703 3286.6H1797.6V3295.6H1703ZM1948.3 2616.5H2099.1V2625.5H1948.3ZM1948.3 3286.6H2099.1V3295.6H1948.3ZM2249.8 2616.5H2400.5V2625.5H2249.8ZM2249.8 3286.6H2400.5V3295.6H2249.8ZM1694 2625.5H1703V2721H1694ZM2405.4 2625.5H2414.4V2721H2405.4ZM1694 2863.2H1703V3005.3H1694ZM2405.4 2863.2H2414.4V3005.3H2405.4ZM1694 3147.5H1703V3286.6H1694ZM2405.4 3147.5H2414.4V3286.6H2405.4Z"/>
<g clip-path="url(#clip_l)">
<path fill="#e85b3a" d="M1747.4 2626.2H1797.9V2650.2H1747.4ZM1772.5 2649.9H1797.9V2673.9H1772.5ZM1797.6 2673.6H1823V2697.6H1797.6ZM1822.7 2768.4H1848.1V2792.4H1822.7ZM1847.8 2815.8H1873.3V2839.8H1847.8ZM1847.8 2839.5H1873.3V2863.5H1847.8ZM1847.8 2863.2H1873.3V2887.2H1847.8ZM1847.8 2886.9H1873.3V2910.9H1847.8ZM1847.8 2910.6H1873.3V2934.6H1847.8ZM1873 2934.2H1898.4V2958.2H1873ZM1873 2957.9H1898.4V2981.9H1873ZM1847.8 3005.3H1873.3V3029.3H1847.8ZM1797.6 3123.8H1823V3147.8H1797.6Z"/>
<path fill="#f99e59" d="M1797.6 2626.2H1823V2650.2H1797.6ZM2224.7 2626.2H2400.8V2650.2H2224.7ZM1797.6 2649.9H1823V2673.9H1797.6ZM2224.7 2649.9H2325.4V2673.9H2224.7ZM2350.3 2649.9H2400.8V2673.9H2350.3ZM2199.5 2673.6H2300.3V2697.6H2199.5ZM2350.3 2673.6H2375.7V2697.6H2350.3ZM1822.7 2697.3H1873.3V2721.3H1822.7ZM2149.3 2697.3H2300.3V2721.3H2149.3ZM2350.3 2697.3H2400.8V2721.3H2350.3ZM1822.7 2721H1848.1V2745H1822.7ZM2149.3 2721H2174.7V2745H2149.3ZM2224.7 2721H2275.2V2745H2224.7ZM1847.8 2792.1H1873.3V2816.1H1847.8ZM1873 2863.2H1898.4V2887.2H1873ZM1873 2886.9H1898.4V2910.9H1873ZM1873 2910.6H1898.4V2934.6H1873ZM1898.1 2957.9H1923.5V2981.9H1898.1ZM1898.1 2981.6H1923.5V3005.6H1898.1ZM1822.7 3029H1898.4V3053H1822.7ZM1822.7 3052.7H1848.1V3076.7H1822.7ZM1797.6 3076.4H1823V3100.4H1797.6ZM1797.6 3100.1H1823V3124.1H1797.6Z"/>
<path fill="#fec980" d="M1822.7 2626.2H1873.3V2650.2H1822.7ZM2199.5 2626.2H2225V2650.2H2199.5ZM1822.7 2649.9H1848.1V2673.9H1822.7ZM2174.4 2649.9H2225V2673.9H2174.4ZM2325.1 2649.9H2350.6V2673.9H2325.1ZM1822.7 2673.6H1873.3V2697.6H1822.7ZM2149.3 2673.6H2199.8V2697.6H2149.3ZM2300 2673.6H2350.6V2697.6H2300ZM2375.4 2673.6H2400.8V2697.6H2375.4ZM1873 2697.3H1923.5V2721.3H1873ZM2124.2 2697.3H2149.6V2721.3H2124.2ZM2300 2697.3H2350.6V2721.3H2300ZM1847.8 2721H1873.3V2745H1847.8ZM2124.2 2721H2149.6V2745H2124.2ZM2174.4 2721H2225V2745H2174.4ZM2274.9 2721H2300.3V2745H2274.9ZM2350.3 2721H2400.8V2745H2350.3ZM1822.7 2744.7H1848.1V2768.7H1822.7ZM2149.3 2744.7H2275.2V2768.7H2149.3ZM2350.3 2744.7H2400.8V2768.7H2350.3ZM1847.8 2768.4H1873.3V2792.4H1847.8ZM2224.7 2768.4H2275.2V2792.4H2224.7ZM2350.3 2768.4H2400.8V2792.4H2350.3ZM1873 2792.1H1898.4V2816.1H1873ZM2350.3 2792.1H2400.8V2816.1H2350.3ZM1873 2815.8H1923.5V2839.8H1873ZM2350.3 2815.8H2400.8V2839.8H2350.3ZM1873 2839.5H1948.6V2863.5H1873ZM2375.4 2839.5H2400.8V2863.5H2375.4ZM1898.1 2863.2H1948.6V2887.2H1898.1ZM2375.4 2863.2H2400.8V2887.2H2375.4ZM1898.1 2886.9H1948.6V2910.9H1898.1ZM1898.1 2910.6H1923.5V2934.6H1898.1ZM2375.4 2910.6H2400.8V2934.6H2375.4ZM1898.1 2934.2H1923.5V2958.2H1898.1ZM1898.1 3005.3H1923.5V3029.3H1898.1ZM1898.1 3029H1923.5V3053H1898.1ZM1847.8 3052.7H1898.4V3076.7H1847.8ZM1822.7 3076.4H1848.1V3100.4H1822.7ZM1822.7 3100.1H1848.1V3124.1H1822.7ZM1797.6 3147.5H1823V3171.5H1797.6Z"/>
<path fill="#ffefaa" d="M1873 2626.2H1948.6V2650.2H1873ZM2149.3 2626.2H2199.8V2650.2H2149.3ZM1847.8 2649.9H1948.6V2673.9H1847.8ZM2124.2 2649.9H2174.7V2673.9H2124.2ZM1873 2673.6H1948.6V2697.6H1873ZM2124.2 2673.6H2149.6V2697.6H2124.2ZM1923.2 2697.3H1948.6V2721.3H1923.2ZM2099.1 2697.3H2124.5V2721.3H2099.1ZM1873 2721H1948.6V2745H1873ZM2073.9 2721H2124.5V2745H2073.9ZM2300 2721H2350.6V2745H2300ZM1847.8 2744.7H1898.4V2768.7H1847.8ZM2073.9 2744.7H2149.6V2768.7H2073.9ZM2274.9 2744.7H2300.3V2768.7H2274.9ZM2325.1 2744.7H2350.6V2768.7H2325.1ZM1873 2768.4H1898.4V2792.4H1873ZM2099.1 2768.4H2225V2792.4H2099.1ZM2274.9 2768.4H2350.6V2792.4H2274.9ZM1898.1 2792.1H1973.7V2816.1H1898.1ZM2149.3 2792.1H2350.6V2816.1H2149.3ZM1923.2 2815.8H1973.7V2839.8H1923.2ZM2224.7 2815.8H2300.3V2839.8H2224.7ZM2325.1 2815.8H2350.6V2839.8H2325.1ZM1948.3 2839.5H1973.7V2863.5H1948.3ZM2325.1 2839.5H2375.7V2863.5H2325.1ZM1948.3 2863.2H1973.7V2887.2H1948.3ZM2350.3 2863.2H2375.7V2887.2H2350.3ZM1948.3 2886.9H1973.7V2910.9H1948.3ZM2350.3 2886.9H2400.8V2910.9H2350.3ZM1923.2 2910.6H1973.7V2934.6H1923.2ZM2350.3 2910.6H2375.7V2934.6H2350.3ZM1923.2 2934.2H1973.7V2958.2H1923.2ZM2350.3 2934.2H2400.8V2958.2H2350.3ZM1923.2 2957.9H1973.7V2981.9H1923.2ZM2350.3 2957.9H2400.8V2981.9H2350.3ZM1923.2 2981.6H1948.6V3005.6H1923.2ZM2350.3 2981.6H2400.8V3005.6H2350.3ZM1923.2 3005.3H1948.6V3029.3H1923.2ZM1898.1 3052.7H1923.5V3076.7H1898.1ZM1847.8 3076.4H1873.3V3100.4H1847.8ZM1822.7 3123.8H1848.1V3147.8H1822.7ZM1772.5 3171.2H1797.9V3195.2H1772.5ZM1772.5 3194.9H1797.9V3218.9H1772.5Z"/>
<path fill="#ebf7c6" d="M1948.3 2626.2H1973.7V2650.2H1948.3ZM2099.1 2626.2H2149.6V2650.2H2099.1ZM1948.3 2649.9H1973.7V2673.9H1948.3ZM2073.9 2649.9H2124.5V2673.9H2073.9ZM1948.3 2673.6H1998.9V2697.6H1948.3ZM2073.9 2673.6H2124.5V2697.6H2073.9ZM1948.3 2697.3H2024V2721.3H1948.3ZM2048.8 2697.3H2099.4V2721.3H2048.8ZM1948.3 2721H2074.2V2745H1948.3ZM1898.1 2744.7H2024V2768.7H1898.1ZM2048.8 2744.7H2074.2V2768.7H2048.8ZM2300 2744.7H2325.4V2768.7H2300ZM1898.1 2768.4H1998.9V2792.4H1898.1ZM2048.8 2768.4H2099.4V2792.4H2048.8ZM1973.4 2792.1H1998.9V2816.1H1973.4ZM2073.9 2792.1H2149.6V2816.1H2073.9ZM1973.4 2815.8H1998.9V2839.8H1973.4ZM2124.2 2815.8H2225V2839.8H2124.2ZM2300 2815.8H2325.4V2839.8H2300ZM1973.4 2839.5H1998.9V2863.5H1973.4ZM2224.7 2839.5H2325.4V2863.5H2224.7ZM2249.8 2863.2H2350.6V2887.2H2249.8ZM2325.1 2886.9H2350.6V2910.9H2325.1ZM2300 2910.6H2350.6V2934.6H2300ZM2199.5 2934.2H2300.3V2958.2H2199.5ZM2325.1 2934.2H2350.6V2958.2H2325.1ZM2149.3 2957.9H2174.7V2981.9H2149.3ZM2199.5 2957.9H2350.6V2981.9H2199.5ZM1948.3 2981.6H1973.7V3005.6H1948.3ZM2199.5 2981.6H2350.6V3005.6H2199.5ZM1948.3 3005.3H1973.7V3029.3H1948.3ZM2249.8 3005.3H2300.3V3029.3H2249.8ZM2350.3 3005.3H2375.7V3029.3H2350.3ZM1923.2 3029H1948.6V3053H1923.2ZM1923.2 3052.7H1948.6V3076.7H1923.2ZM1873 3076.4H1898.4V3100.4H1873ZM1847.8 3100.1H1898.4V3124.1H1847.8ZM1822.7 3147.5H1873.3V3171.5H1822.7ZM1797.6 3171.2H1823V3195.2H1797.6ZM1797.6 3194.9H1823V3218.9H1797.6ZM1772.5 3218.6H1797.9V3242.6H1772.5ZM1772.5 3242.3H1797.9V3266.3H1772.5ZM1772.5 3266H1797.9V3286.9H1772.5Z"/>
<path fill="#c4e6db" d="M1973.4 2626.2H2024V2650.2H1973.4ZM2048.8 2626.2H2099.4V2650.2H2048.8ZM1973.4 2649.9H2024V2673.9H1973.4ZM2048.8 2649.9H2074.2V2673.9H2048.8ZM1998.6 2673.6H2074.2V2697.6H1998.6ZM2023.7 2697.3H2049.1V2721.3H2023.7ZM2023.7 2744.7H2049.1V2768.7H2023.7ZM1998.6 2768.4H2049.1V2792.4H1998.6ZM1998.6 2792.1H2074.2V2816.1H1998.6ZM1998.6 2815.8H2024V2839.8H1998.6ZM2073.9 2815.8H2124.5V2839.8H2073.9ZM2124.2 2839.5H2225V2863.5H2124.2ZM1973.4 2863.2H1998.9V2887.2H1973.4ZM2099.1 2863.2H2149.6V2887.2H2099.1ZM2224.7 2863.2H2250.1V2887.2H2224.7ZM1973.4 2886.9H1998.9V2910.9H1973.4ZM2224.7 2886.9H2325.4V2910.9H2224.7ZM1973.4 2910.6H2024V2934.6H1973.4ZM2073.9 2910.6H2099.4V2934.6H2073.9ZM2199.5 2910.6H2300.3V2934.6H2199.5ZM1973.4 2934.2H2199.8V2958.2H1973.4ZM2300 2934.2H2325.4V2958.2H2300ZM1973.4 2957.9H1998.9V2981.9H1973.4ZM2099.1 2957.9H2149.6V2981.9H2099.1ZM2174.4 2957.9H2199.8V2981.9H2174.4ZM1973.4 2981.6H1998.9V3005.6H1973.4ZM2099.1 2981.6H2199.8V3005.6H2099.1ZM2149.3 3005.3H2250.1V3029.3H2149.3ZM2300 3005.3H2350.6V3029.3H2300ZM2375.4 3005.3H2400.8V3029.3H2375.4ZM1948.3 3029H1973.7V3053H1948.3ZM2149.3 3029H2174.7V3053H2149.3ZM2199.5 3029H2400.8V3053H2199.5ZM1948.3 3052.7H1973.7V3076.7H1948.3ZM2174.4 3052.7H2300.3V3076.7H2174.4ZM2350.3 3052.7H2375.7V3076.7H2350.3ZM1898.1 3076.4H1948.6V3100.4H1898.1ZM2224.7 3076.4H2300.3V3100.4H2224.7ZM1898.1 3100.1H1948.6V3124.1H1898.1ZM2048.8 3100.1H2124.5V3124.1H2048.8ZM2224.7 3100.1H2300.3V3124.1H2224.7ZM1847.8 3123.8H1873.3V3147.8H1847.8ZM1948.3 3123.8H2149.6V3147.8H1948.3ZM2224.7 3123.8H2300.3V3147.8H2224.7ZM1948.3 3147.5H1973.7V3171.5H1948.3ZM1998.6 3147.5H2024V3171.5H1998.6ZM2048.8 3147.5H2124.5V3171.5H2048.8ZM2199.5 3147.5H2250.1V3171.5H2199.5ZM1822.7 3171.2H1898.4V3195.2H1822.7ZM1923.2 3171.2H1948.6V3195.2H1923.2ZM2199.5 3171.2H2250.1V3195.2H2199.5ZM1847.8 3194.9H1898.4V3218.9H1847.8Z"/>
<path fill="#9ecae3" d="M2023.7 2626.2H2049.1V2650.2H2023.7ZM2023.7 2649.9H2049.1V2673.9H2023.7ZM2023.7 2815.8H2074.2V2839.8H2023.7ZM1998.6 2839.5H2024V2863.5H1998.6ZM2073.9 2839.5H2124.5V2863.5H2073.9ZM1998.6 2863.2H2099.4V2887.2H1998.6ZM2149.3 2863.2H2225V2887.2H2149.3ZM1998.6 2886.9H2225V2910.9H1998.6ZM2023.7 2910.6H2074.2V2934.6H2023.7ZM2099.1 2910.6H2199.8V2934.6H2099.1ZM1998.6 2957.9H2099.4V2981.9H1998.6ZM1998.6 2981.6H2024V3005.6H1998.6ZM2048.8 2981.6H2099.4V3005.6H2048.8ZM1973.4 3005.3H2024V3029.3H1973.4ZM2073.9 3005.3H2149.6V3029.3H2073.9ZM1973.4 3029H1998.9V3053H1973.4ZM2099.1 3029H2149.6V3053H2099.1ZM2174.4 3029H2199.8V3053H2174.4ZM1973.4 3052.7H1998.9V3076.7H1973.4ZM2073.9 3052.7H2174.7V3076.7H2073.9ZM2300 3052.7H2350.6V3076.7H2300ZM2375.4 3052.7H2400.8V3076.7H2375.4ZM1948.3 3076.4H1998.9V3100.4H1948.3ZM2048.8 3076.4H2225V3100.4H2048.8ZM2300 3076.4H2400.8V3100.4H2300ZM1948.3 3100.1H2049.1V3124.1H1948.3ZM2124.2 3100.1H2225V3124.1H2124.2ZM2300 3100.1H2375.7V3124.1H2300ZM1873 3123.8H1948.6V3147.8H1873ZM2149.3 3123.8H2225V3147.8H2149.3ZM2300 3123.8H2350.6V3147.8H2300ZM1873 3147.5H1948.6V3171.5H1873ZM1973.4 3147.5H1998.9V3171.5H1973.4ZM2023.7 3147.5H2049.1V3171.5H2023.7ZM2124.2 3147.5H2199.8V3171.5H2124.2ZM2249.8 3147.5H2350.6V3171.5H2249.8ZM1898.1 3171.2H1923.5V3195.2H1898.1ZM1948.3 3171.2H2199.8V3195.2H1948.3ZM2249.8 3171.2H2350.6V3195.2H2249.8ZM1822.7 3194.9H1848.1V3218.9H1822.7ZM1898.1 3194.9H1973.7V3218.9H1898.1ZM1998.6 3194.9H2325.4V3218.9H1998.6ZM1797.6 3218.6H1948.6V3242.6H1797.6ZM2073.9 3218.6H2350.6V3242.6H2073.9ZM1797.6 3242.3H1948.6V3266.3H1797.6ZM2099.1 3242.3H2124.5V3266.3H2099.1ZM2174.4 3242.3H2300.3V3266.3H2174.4ZM1822.7 3266H1898.4V3286.9H1822.7Z"/>
<path fill="#d7191c" d="M1797.6 2697.3H1823V2721.3H1797.6ZM1797.6 2721H1823V2745H1797.6ZM1873 2981.6H1898.4V3005.6H1873ZM1873 3005.3H1898.4V3029.3H1873Z"/>
<path fill="#5e9fd0" d="M2023.7 2839.5H2074.2V2863.5H2023.7ZM2023.7 2981.6H2049.1V3005.6H2023.7ZM2048.8 3005.3H2074.2V3029.3H2048.8ZM1998.6 3029H2024V3053H1998.6ZM2073.9 3029H2099.4V3053H2073.9ZM1998.6 3052.7H2024V3076.7H1998.6ZM2048.8 3052.7H2074.2V3076.7H2048.8ZM1998.6 3076.4H2049.1V3100.4H1998.6ZM2375.4 3100.1H2400.8V3124.1H2375.4ZM2350.3 3123.8H2400.8V3147.8H2350.3ZM2350.3 3147.5H2400.8V3171.5H2350.3ZM2350.3 3171.2H2400.8V3195.2H2350.3ZM1973.4 3194.9H1998.9V3218.9H1973.4ZM2325.1 3194.9H2400.8V3218.9H2325.1ZM1948.3 3218.6H2074.2V3242.6H1948.3ZM2350.3 3218.6H2400.8V3242.6H2350.3ZM1948.3 3242.3H1973.7V3266.3H1948.3ZM1998.6 3242.3H2099.4V3266.3H1998.6ZM2124.2 3242.3H2174.7V3266.3H2124.2ZM2300 3242.3H2400.8V3266.3H2300ZM1797.6 3266H1823V3286.9H1797.6ZM1898.1 3266H1998.9V3286.9H1898.1ZM2073.9 3266H2350.6V3286.9H2073.9ZM2375.4 3266H2400.8V3286.9H2375.4Z"/>
<path fill="#2c7bb6" d="M2023.7 3005.3H2049.1V3029.3H2023.7ZM2023.7 3029H2074.2V3053H2023.7ZM2023.7 3052.7H2049.1V3076.7H2023.7ZM1973.4 3242.3H1998.9V3266.3H1973.4ZM1998.6 3266H2074.2V3286.9H1998.6ZM2350.3 3266H2375.7V3286.9H2350.3Z"/>

<path d="M1797.6 2625.5V3286.6M1948.3 2625.5V3286.6M2099.1 2625.5V3286.6M2249.8 2625.5V3286.6M2400.5 2625.5V3286.6M1703 2721H2405.4M1703 2863.2H2405.4M1703 3005.3H2405.4M1703 3147.5H2405.4" fill="none" stroke="#1a1a1a" stroke-opacity="0.8" stroke-width="2" stroke-dasharray="2.5 8.5"/>
<use href="#brd" stroke-width="3.0" transform="translate(1797.6 2721) scale(0.50242 0.47389)"/>




</g>
<g class="tk"><text x="1797.6" y="3318.6" text-anchor="middle">12°0'E</text><text x="1948.3" y="3318.6" text-anchor="middle">15°0'E</text><text x="2099.1" y="3318.6" text-anchor="middle">18°0'E</text><text x="2249.8" y="3318.6" text-anchor="middle">21°0'E</text><text x="2400.5" y="3318.6" text-anchor="middle">24°0'E</text><text x="1682" y="2726.5" text-anchor="end">6°0'S</text><text x="1682" y="2868.7" text-anchor="end">9°0'S</text><text x="1682" y="3010.8" text-anchor="end">12°0'S</text><text x="1682" y="3153" text-anchor="end">15°0'S</text></g>
</g>
<g class="ttl"><text x="313.7" y="59.3" font-size="43" textLength="174">Historical</text><text x="1517.6" y="59.3" font-size="43" textLength="146.4">RCP 8.5</text><text x="303.8" y="128.2" font-size="42" textLength="177.4">1981-2010</text><text x="1084.1" y="123.3" font-size="42" textLength="179">2041-2070</text><text x="1843.3" y="120.8" font-size="42" textLength="427.5">(2041-2070)-(1981-2010)</text></g><g class="pl"><text x="104.3" y="122.3" font-size="44" textLength="33.5">a)</text><text x="878.7" y="119.4" font-size="44" textLength="34.5">b)</text><text x="1684.6" y="119.4" font-size="44" textLength="32">c)</text><text x="104" y="946.8" font-size="44" textLength="34.5">d)</text><text x="879.4" y="943.3" font-size="44" textLength="30">e)</text><text x="1686.8" y="946.8" font-size="44" textLength="25">f)</text><text x="104" y="1742.2" font-size="44" textLength="32">g)</text><text x="890.2" y="1744.6" font-size="44" textLength="33.5">h)</text><text x="1678.4" y="1747.1" font-size="44" textLength="23">i)</text><text x="101.6" y="2596.9" font-size="44" textLength="29.5">j)</text><text x="906.2" y="2600.2" font-size="44" textLength="34.5">k)</text><text x="1691.7" y="2598.4" font-size="44" textLength="22">l)</text></g>
<g class="lg"><text x="321.7" y="824.5" font-size="18" textLength="905" lengthAdjust="spacingAndGlyphs" style="font-family:'DejaVu Serif','Liberation Serif',serif">Tropical nights (number of days where daily minimum temperature &gt;20 degree C)</text><text x="287.2" y="849.1" font-size="23.5" textLength="100">TR (day)</text><rect x="287.2" y="854" width="39.5" height="38" fill="#2b83ba" stroke="#9a9a9a" stroke-opacity=".55" stroke-width="1.2"/><text x="331.6" y="881.1" font-size="23.5" textLength="60.6">&lt;= 10</text><rect x="402" y="829.4" width="40.6" height="37.5" fill="#2b83ba" stroke="#9a9a9a" stroke-opacity=".55" stroke-width="1.2"/><text x="447.3" y="856.5" font-size="23.5" textLength="72.2">10 - 30</text><rect x="402" y="869.5" width="40.6" height="37.5" fill="#2b83ba" stroke="#9a9a9a" stroke-opacity=".55" stroke-width="1.2"/><text x="447.3" y="897.4" font-size="23.5" textLength="72.2">30 - 70</text><rect x="528.6" y="829.4" width="40.6" height="37.5" fill="#64abb0" stroke="#9a9a9a" stroke-opacity=".55" stroke-width="1.2"/><text x="574.4" y="856.5" font-size="23.5" textLength="85">70 - 130</text><rect x="528.6" y="869.5" width="40.6" height="37.5" fill="#9dd3a7" stroke="#9a9a9a" stroke-opacity=".55" stroke-width="1.2"/><text x="574.4" y="897.4" font-size="23.5" textLength="97.7">130 - 160</text><rect x="679.9" y="829.4" width="40.6" height="37.5" fill="#c7e9ad" stroke="#9a9a9a" stroke-opacity=".55" stroke-width="1.2"/><text x="727.1" y="856.5" font-size="23.5" textLength="97.7">160 - 200</text><rect x="679.9" y="869.5" width="40.6" height="37.5" fill="#edf8b9" stroke="#9a9a9a" stroke-opacity=".55" stroke-width="1.2"/><text x="727.1" y="897.4" font-size="23.5" textLength="97.7">200 - 230</text><rect x="832.6" y="829.4" width="40.6" height="37.5" fill="#ffedaa" stroke="#9a9a9a" stroke-opacity=".55" stroke-width="1.2"/><text x="879.9" y="856.5" font-size="23.5" textLength="97.7">230 - 260</text><rect x="832.6" y="869.5" width="40.6" height="37.5" fill="#fec980" stroke="#9a9a9a" stroke-opacity=".55" stroke-width="1.2"/><text x="879.9" y="897.4" font-size="23.5" textLength="97.7">260 - 300</text><rect x="984.5" y="829.4" width="40.6" height="37.5" fill="#f99e59" stroke="#9a9a9a" stroke-opacity=".55" stroke-width="1.2"/><text x="1031" y="856.5" font-size="23.5" textLength="97.7">300 - 330</text><rect x="984.5" y="869.5" width="40.6" height="37.5" fill="#e85b3a" stroke="#9a9a9a" stroke-opacity=".55" stroke-width="1.2"/><text x="1031" y="897.4" font-size="23.5" textLength="97.7">330 - 363</text><rect x="1138" y="829.4" width="40.6" height="37.5" fill="#d7191c" stroke="#9a9a9a" stroke-opacity=".55" stroke-width="1.2"/><text x="1183" y="856.5" font-size="23.5" textLength="59.2">&gt; 363</text></g><g class="lg"><text x="1629.4" y="852.4" font-size="23.5" textLength="97">TR (day)</text><rect x="1627.4" y="862.2" width="40.6" height="30.3" fill="#2c7bb6" stroke="#9a9a9a" stroke-opacity=".55" stroke-width="1.2"/><text x="1669.3" y="885.1" font-size="23.5" textLength="59">&lt;= 30</text><rect x="1737" y="830.9" width="40.6" height="30.8" fill="#5e9fd0" stroke="#9a9a9a" stroke-opacity=".55" stroke-width="1.2"/><text x="1778.9" y="854.8" font-size="23.5" textLength="75.8">30 − 60</text><rect x="1737" y="870.3" width="40.6" height="30.8" fill="#9ecae3" stroke="#9a9a9a" stroke-opacity=".55" stroke-width="1.2"/><text x="1778.9" y="893.7" font-size="23.5" textLength="75.8">50 − 70</text><rect x="1864.3" y="830.9" width="40.6" height="30.8" fill="#c4e6db" stroke="#9a9a9a" stroke-opacity=".55" stroke-width="1.2"/><text x="1906.2" y="854.8" font-size="23.5" textLength="75.8">70 − 90</text><rect x="1864.3" y="870.3" width="40.6" height="30.8" fill="#ebf7c6" stroke="#9a9a9a" stroke-opacity=".55" stroke-width="1.2"/><text x="1906.2" y="893.7" font-size="23.5" textLength="81.9">90− 110</text><rect x="1997" y="830.9" width="40.6" height="30.8" fill="#ffefaa" stroke="#9a9a9a" stroke-opacity=".55" stroke-width="1.2"/><text x="2041.6" y="854.8" font-size="23.5" textLength="94.3">110− 130</text><rect x="1997" y="870.3" width="40.6" height="30.8" fill="#fec980" stroke="#9a9a9a" stroke-opacity=".55" stroke-width="1.2"/><text x="2041.6" y="893.7" font-size="23.5" textLength="100.4">130 − 150</text><rect x="2151.2" y="830.9" width="40.6" height="30.8" fill="#f99e59" stroke="#9a9a9a" stroke-opacity=".55" stroke-width="1.2"/><text x="2194.6" y="854.8" font-size="23.5" textLength="100.4">150 − 170</text><rect x="2151.2" y="870.3" width="40.6" height="30.8" fill="#e85b3a" stroke="#9a9a9a" stroke-opacity=".55" stroke-width="1.2"/><text x="2194.6" y="893.7" font-size="23.5" textLength="100.4">170 − 200</text><rect x="2304.2" y="830.9" width="40.6" height="30.8" fill="#d7191c" stroke="#9a9a9a" stroke-opacity=".55" stroke-width="1.2"/><text x="2347.1" y="854.8" font-size="23.5" textLength="57.2">&gt; 200</text></g><g class="lg"><text x="388" y="1628.6" font-size="17" textLength="846" lengthAdjust="spacingAndGlyphs" style="font-family:'DejaVu Serif','Liberation Serif',serif">Maximum number of consecutive summer days (temperature &gt;25 degree C)</text><text x="99.9" y="1655.2" font-size="22" textLength="115.7">CSU (day)</text><rect x="98.9" y="1660.1" width="40.4" height="36" fill="#2c7bb6" stroke="#9a9a9a" stroke-opacity=".55" stroke-width="1.2"/><text x="144.2" y="1683.7" font-size="22" textLength="60">&lt;= 10</text><rect x="224" y="1633.5" width="40.4" height="37.8" fill="#4c92c3" stroke="#9a9a9a" stroke-opacity=".55" stroke-width="1.2"/><text x="271.3" y="1660.1" font-size="22" textLength="72.6">10 - 15</text><rect x="224" y="1674" width="40.4" height="37.8" fill="#6caad0" stroke="#9a9a9a" stroke-opacity=".55" stroke-width="1.2"/><text x="271.3" y="1701" font-size="22" textLength="72.6">15 - 20</text><rect x="352.1" y="1633.5" width="40.4" height="37.8" fill="#8bc2dc" stroke="#9a9a9a" stroke-opacity=".55" stroke-width="1.2"/><text x="398.9" y="1660.1" font-size="22" textLength="72.6">20 - 25</text><rect x="352.1" y="1674" width="40.4" height="37.8" fill="#abd9e9" stroke="#9a9a9a" stroke-opacity=".55" stroke-width="1.2"/><text x="398.9" y="1701" font-size="22" textLength="72.6">25 - 30</text><rect x="480.1" y="1633.5" width="40.4" height="37.8" fill="#c0e2de" stroke="#9a9a9a" stroke-opacity=".55" stroke-width="1.2"/><text x="526.9" y="1660.1" font-size="22" textLength="72.6">30 - 35</text><rect x="480.1" y="1674" width="40.4" height="37.8" fill="#d5ecd4" stroke="#9a9a9a" stroke-opacity=".55" stroke-width="1.2"/><text x="526.9" y="1701" font-size="22" textLength="72.6">35 - 40</text><rect x="608.2" y="1633.5" width="40.4" height="37.8" fill="#eaf6ca" stroke="#9a9a9a" stroke-opacity=".55" stroke-width="1.2"/><text x="655" y="1660.1" font-size="22" textLength="72.6">40 - 45</text><rect x="608.2" y="1674" width="40.4" height="37.8" fill="#ffffbf" stroke="#9a9a9a" stroke-opacity=".55" stroke-width="1.2"/><text x="655" y="1701" font-size="22" textLength="72.6">45 - 50</text><rect x="736.8" y="1633.5" width="40.4" height="37.8" fill="#feeba8" stroke="#9a9a9a" stroke-opacity=".55" stroke-width="1.2"/><text x="783.1" y="1660.1" font-size="22" textLength="72.6">50 - 60</text><rect x="736.8" y="1674" width="40.4" height="37.8" fill="#fed690" stroke="#9a9a9a" stroke-opacity=".55" stroke-width="1.2"/><text x="783.1" y="1701" font-size="22" textLength="72.6">60 - 65</text><rect x="866" y="1633.5" width="40.4" height="37.8" fill="#fec278" stroke="#9a9a9a" stroke-opacity=".55" stroke-width="1.2"/><text x="911" y="1660.1" font-size="22" textLength="72.6">65 - 70</text><rect x="866" y="1674" width="40.4" height="37.8" fill="#fdae61" stroke="#9a9a9a" stroke-opacity=".55" stroke-width="1.2"/><text x="911" y="1701" font-size="22" textLength="66.2">70- 75</text><rect x="994" y="1633.5" width="40.4" height="37.8" fill="#f48950" stroke="#9a9a9a" stroke-opacity=".55" stroke-width="1.2"/><text x="1039" y="1660.1" font-size="22" textLength="66.2">75- 80</text><rect x="994" y="1674" width="40.4" height="37.8" fill="#ea643e" stroke="#9a9a9a" stroke-opacity=".55" stroke-width="1.2"/><text x="1039" y="1701" font-size="22" textLength="72.6">80 - 85</text><rect x="1122" y="1633.5" width="40.4" height="37.8" fill="#e03e2d" stroke="#9a9a9a" stroke-opacity=".55" stroke-width="1.2"/><text x="1166.5" y="1660.1" font-size="22" textLength="72.6">85 - 90</text><rect x="1122" y="1674" width="40.4" height="37.8" fill="#d7191c" stroke="#9a9a9a" stroke-opacity=".55" stroke-width="1.2"/><text x="1166.5" y="1701" font-size="22" textLength="46.6">&gt; 90</text></g><g class="lg"><text x="1637.2" y="1653.2" font-size="22" textLength="118">CSU (day)</text><rect x="1636.3" y="1663.1" width="40.4" height="29.5" fill="#2c7bb6" stroke="#9a9a9a" stroke-opacity=".55" stroke-width="1.2"/><text x="1678.1" y="1684.7" font-size="22" textLength="50">&lt;= 5</text><rect x="1763.8" y="1633.5" width="42.4" height="29.3" fill="#5e9fd0" stroke="#9a9a9a" stroke-opacity=".55" stroke-width="1.2"/><text x="1807.2" y="1654.2" font-size="22" textLength="65.6">5 − 10</text><rect x="1763.8" y="1671.4" width="42.4" height="29.3" fill="#9ecae3" stroke="#9a9a9a" stroke-opacity=".55" stroke-width="1.2"/><text x="1807.2" y="1693.6" font-size="22" textLength="78.3">10 − 15</text><rect x="1896.8" y="1633.5" width="42.4" height="29.3" fill="#c4e6db" stroke="#9a9a9a" stroke-opacity=".55" stroke-width="1.2"/><text x="1940.2" y="1654.2" font-size="22" textLength="78.3">15 − 20</text><rect x="1896.8" y="1671.4" width="42.4" height="29.3" fill="#ebf7c6" stroke="#9a9a9a" stroke-opacity=".55" stroke-width="1.2"/><text x="1940.2" y="1693.6" font-size="22" textLength="78.3">20 − 25</text><rect x="2029.9" y="1633.5" width="42.4" height="29.3" fill="#ffefaa" stroke="#9a9a9a" stroke-opacity=".55" stroke-width="1.2"/><text x="2072.2" y="1654.2" font-size="22" textLength="78.3">25 − 30</text><rect x="2029.9" y="1671.4" width="42.4" height="29.3" fill="#fec980" stroke="#9a9a9a" stroke-opacity=".55" stroke-width="1.2"/><text x="2072.2" y="1693.6" font-size="22" textLength="65.6">30 − 5</text><rect x="2162.9" y="1633.5" width="42.4" height="29.3" fill="#f99e59" stroke="#9a9a9a" stroke-opacity=".55" stroke-width="1.2"/><text x="2205.2" y="1654.2" font-size="22" textLength="78.3">35 − 40</text><rect x="2162.9" y="1671.4" width="42.4" height="29.3" fill="#e85b3a" stroke="#9a9a9a" stroke-opacity=".55" stroke-width="1.2"/><text x="2205.2" y="1693.6" font-size="22" textLength="78.3">40 − 45</text><rect x="2295.9" y="1633.5" width="42.4" height="29.3" fill="#d7191c" stroke="#9a9a9a" stroke-opacity=".55" stroke-width="1.2"/><text x="2337.7" y="1654.2" font-size="22" textLength="46.4">&gt; 45</text></g><g class="lg"><text x="308.5" y="2483.5" font-size="19" textLength="233" lengthAdjust="spacingAndGlyphs" style="font-family:'DejaVu Serif','Liberation Serif',serif">Warm and wet days</text><text x="60.7" y="2513" font-size="23.5" textLength="122">WW (day)</text><rect x="60.7" y="2519" width="42.3" height="30.5" fill="#2b83ba" stroke="#9a9a9a" stroke-opacity=".55" stroke-width="1.2"/><text x="109" y="2541.1" font-size="23.5" textLength="48">&lt;= 1</text><rect x="187.8" y="2490.4" width="41.9" height="31.3" fill="#5aa4b2" stroke="#9a9a9a" stroke-opacity=".55" stroke-width="1.2"/><text x="236.1" y="2514" font-size="23.5" textLength="51.7">1 - 2</text><rect x="187.8" y="2528" width="41.9" height="31.3" fill="#88c4aa" stroke="#9a9a9a" stroke-opacity=".55" stroke-width="1.2"/><text x="236.1" y="2551" font-size="23.5" textLength="51.7">2 - 3</text><rect x="290.2" y="2490.4" width="41.9" height="31.3" fill="#b3e0a6" stroke="#9a9a9a" stroke-opacity=".55" stroke-width="1.2"/><text x="338" y="2514" font-size="23.5" textLength="51.7">3 - 4</text><rect x="290.2" y="2528" width="41.9" height="31.3" fill="#d1ecb0" stroke="#9a9a9a" stroke-opacity=".55" stroke-width="1.2"/><text x="338" y="2551" font-size="23.5" textLength="51.7">4 - 5</text><rect x="392.2" y="2490.4" width="41.9" height="31.3" fill="#f0f9ba" stroke="#9a9a9a" stroke-opacity=".55" stroke-width="1.2"/><text x="440" y="2514" font-size="23.5" textLength="51.7">5 - 6</text><rect x="392.2" y="2528" width="41.9" height="31.3" fill="#fff0ae" stroke="#9a9a9a" stroke-opacity=".55" stroke-width="1.2"/><text x="440" y="2551" font-size="23.5" textLength="51.7">6 - 7</text><rect x="494.2" y="2490.4" width="41.9" height="31.3" fill="#fed38c" stroke="#9a9a9a" stroke-opacity=".55" stroke-width="1.2"/><text x="542.5" y="2514" font-size="23.5" textLength="51.7">7 - 8</text><rect x="494.2" y="2528" width="41.9" height="31.3" fill="#fdb56a" stroke="#9a9a9a" stroke-opacity=".55" stroke-width="1.2"/><text x="542.5" y="2551" font-size="23.5" textLength="51.7">8 - 9</text><rect x="596.7" y="2490.4" width="41.9" height="31.3" fill="#f3854e" stroke="#9a9a9a" stroke-opacity=".55" stroke-width="1.2"/><text x="645.9" y="2514" font-size="23.5" textLength="65.8">9 - 10</text><rect x="596.7" y="2528" width="41.9" height="31.3" fill="#e54f35" stroke="#9a9a9a" stroke-opacity=".55" stroke-width="1.2"/><text x="645.9" y="2551" font-size="23.5" textLength="79.9">10 - 11</text><rect x="724.7" y="2490.4" width="41.9" height="31.3" fill="#d7191c" stroke="#9a9a9a" stroke-opacity=".55" stroke-width="1.2"/><text x="773" y="2514" font-size="23.5" textLength="51.3">&gt; 11</text></g><g class="lg"><text x="1111.6" y="2495.3" font-size="19.5" textLength="241" lengthAdjust="spacingAndGlyphs" style="font-family:'DejaVu Serif','Liberation Serif',serif">Warm and wet days</text><text x="832.3" y="2536.2" font-size="23.5" textLength="125.6">WW (day)</text><rect x="830.8" y="2543.6" width="44.9" height="32" fill="#2b83ba" stroke="#9a9a9a" stroke-opacity=".55" stroke-width="1.2"/><text x="881.6" y="2568.2" font-size="23.5" textLength="52.7">&lt;= 7</text><rect x="967.8" y="2511.6" width="44.3" height="33" fill="#2b83ba" stroke="#9a9a9a" stroke-opacity=".55" stroke-width="1.2"/><text x="1018.5" y="2537.7" font-size="23.5" textLength="65.8">7 - 13</text><rect x="967.8" y="2552.5" width="44.3" height="33" fill="#64abb0" stroke="#9a9a9a" stroke-opacity=".55" stroke-width="1.2"/><text x="1018.5" y="2578.1" font-size="23.5" textLength="79.9">13 - 20</text><rect x="1107.2" y="2511.6" width="44.3" height="33" fill="#c7e8ad" stroke="#9a9a9a" stroke-opacity=".55" stroke-width="1.2"/><text x="1157.4" y="2537.7" font-size="23.5" textLength="79.9">20 - 27</text><rect x="1107.2" y="2552.5" width="44.3" height="33" fill="#ecf7b9" stroke="#9a9a9a" stroke-opacity=".55" stroke-width="1.2"/><text x="1157.4" y="2578.1" font-size="23.5" textLength="79.9">27 - 34</text><rect x="1247.1" y="2511.6" width="44.3" height="33" fill="#ffedaa" stroke="#9a9a9a" stroke-opacity=".55" stroke-width="1.2"/><text x="1296.4" y="2537.7" font-size="23.5" textLength="79.9">34 - 40</text><rect x="1247.1" y="2552.5" width="44.3" height="33" fill="#fec980" stroke="#9a9a9a" stroke-opacity=".55" stroke-width="1.2"/><text x="1296.4" y="2578.1" font-size="23.5" textLength="79.9">40 - 47</text><rect x="1386.5" y="2511.6" width="44.3" height="33" fill="#f99d59" stroke="#9a9a9a" stroke-opacity=".55" stroke-width="1.2"/><text x="1435.8" y="2537.7" font-size="23.5" textLength="79.9">47 - 54</text><rect x="1386.5" y="2552.5" width="44.3" height="33" fill="#e85b3b" stroke="#9a9a9a" stroke-opacity=".55" stroke-width="1.2"/><text x="1435.8" y="2578.1" font-size="23.5" textLength="79.9">54 - 60</text><rect x="1525.4" y="2511.6" width="44.3" height="33" fill="#d7191c" stroke="#9a9a9a" stroke-opacity=".55" stroke-width="1.2"/><text x="1573.7" y="2537.7" font-size="23.5" textLength="51.3">&gt; 60</text></g><g class="lg"><text x="1639.2" y="2516.6" font-size="23.5" textLength="116">WW (day)</text><rect x="1631.1" y="2528.2" width="40.9" height="30.3" fill="#5b9fcf" stroke="#9a9a9a" stroke-opacity=".55" stroke-width="1.2"/><text x="1680.6" y="2550.9" font-size="23.5" textLength="50.5">&lt;= 5</text><rect x="1762.9" y="2495.3" width="41.4" height="31.4" fill="#8fc3de" stroke="#9a9a9a" stroke-opacity=".55" stroke-width="1.2"/><text x="1814.4" y="2518.1" font-size="23.5" textLength="70.7">5 − 10</text><rect x="1762.9" y="2535.7" width="41.4" height="31.4" fill="#b5dde0" stroke="#9a9a9a" stroke-opacity=".55" stroke-width="1.2"/><text x="1814.4" y="2558.5" font-size="23.5" textLength="84.4">10 − 15</text><rect x="1902.8" y="2495.3" width="41.4" height="31.4" fill="#d9efd0" stroke="#9a9a9a" stroke-opacity=".55" stroke-width="1.2"/><text x="1953.3" y="2518.1" font-size="23.5" textLength="84.4">15 − 20</text><rect x="1902.8" y="2535.7" width="41.4" height="31.4" fill="#ffffc0" stroke="#9a9a9a" stroke-opacity=".55" stroke-width="1.2"/><text x="1953.3" y="2558.5" font-size="23.5" textLength="84.4">20 − 25</text><rect x="2043.1" y="2495.3" width="41.4" height="31.4" fill="#fee29a" stroke="#9a9a9a" stroke-opacity=".55" stroke-width="1.2"/><text x="2093.6" y="2518.1" font-size="23.5" textLength="84.4">25 − 30</text><rect x="2043.1" y="2535.7" width="41.4" height="31.4" fill="#fdb96b" stroke="#9a9a9a" stroke-opacity=".55" stroke-width="1.2"/><text x="2093.6" y="2558.5" font-size="23.5" textLength="84.4">30 − 35</text><rect x="2184" y="2495.3" width="41.4" height="31.4" fill="#f48f55" stroke="#9a9a9a" stroke-opacity=".55" stroke-width="1.2"/><text x="2233.5" y="2518.1" font-size="23.5" textLength="84.4">35 − 40</text><rect x="2184" y="2535.7" width="41.4" height="31.4" fill="#e85b3a" stroke="#9a9a9a" stroke-opacity=".55" stroke-width="1.2"/><text x="2233.5" y="2558.5" font-size="23.5" textLength="84.4">40 − 45</text><rect x="2323.4" y="2495.3" width="41.4" height="31.4" fill="#d7191c" stroke="#9a9a9a" stroke-opacity=".55" stroke-width="1.2"/><text x="2372.3" y="2518.1" font-size="23.5" textLength="50">&gt; 45</text></g><g class="lg"><text x="237.9" y="3343.3" font-size="19" textLength="300.5" lengthAdjust="spacingAndGlyphs" style="font-family:'DejaVu Serif','Liberation Serif',serif">Warm spell duration index</text><text x="205.9" y="3370.4" font-size="23.5" textLength="134.5">WSDI (day)</text><rect x="203.4" y="3376.4" width="42.9" height="40.3" fill="#2b83ba" stroke="#9a9a9a" stroke-opacity=".55" stroke-width="1.2"/><text x="251.7" y="3404.4" font-size="23.5" textLength="45.3">&lt;= 1</text><rect x="347.3" y="3349.3" width="42.6" height="40.6" fill="#80bfab" stroke="#9a9a9a" stroke-opacity=".55" stroke-width="1.2"/><text x="395.6" y="3378.8" font-size="23.5" textLength="48.7">1 - 2</text><rect x="347.3" y="3393.6" width="42.6" height="40.6" fill="#c7e9ad" stroke="#9a9a9a" stroke-opacity=".55" stroke-width="1.2"/><text x="395.6" y="3422.2" font-size="23.5" textLength="48.7">2 - 3</text><rect x="449.8" y="3349.3" width="42.6" height="40.6" fill="#ffffbf" stroke="#9a9a9a" stroke-opacity=".55" stroke-width="1.2"/><text x="496.6" y="3378.8" font-size="23.5" textLength="48.7">3 - 4</text><rect x="449.8" y="3393.6" width="42.6" height="40.6" fill="#fec980" stroke="#9a9a9a" stroke-opacity=".55" stroke-width="1.2"/><text x="496.6" y="3422.2" font-size="23.5" textLength="48.7">4 - 5</text><rect x="552.2" y="3349.3" width="42.6" height="40.6" fill="#f07c4a" stroke="#9a9a9a" stroke-opacity=".55" stroke-width="1.2"/><text x="600" y="3378.8" font-size="23.5" textLength="48.7">5 - 6</text><rect x="552.2" y="3393.6" width="42.6" height="40.6" fill="#d7191c" stroke="#9a9a9a" stroke-opacity=".55" stroke-width="1.2"/><text x="600" y="3422.2" font-size="23.5" textLength="35.1">&gt; 6</text></g><g class="lg"><text x="1111.8" y="3354.2" font-size="20" textLength="319" lengthAdjust="spacingAndGlyphs" style="font-family:'DejaVu Serif','Liberation Serif',serif">Warm spell duration index</text><text x="840.8" y="3396.1" font-size="23.5" textLength="141">WSDI (day)</text><rect x="838.9" y="3402.5" width="42.8" height="34.5" fill="#2b83ba" stroke="#9a9a9a" stroke-opacity=".55" stroke-width="1.2"/><text x="883.2" y="3427.1" font-size="23.5" textLength="64">&lt;= 43</text><rect x="991.6" y="3371.4" width="43" height="34.5" fill="#64abb0" stroke="#9a9a9a" stroke-opacity=".55" stroke-width="1.2"/><text x="1035.4" y="3397.5" font-size="23.5" textLength="79.2">43 - 47</text><rect x="991.6" y="3412.3" width="43" height="34.5" fill="#9dd3a7" stroke="#9a9a9a" stroke-opacity=".55" stroke-width="1.2"/><text x="1035.4" y="3437.9" font-size="23.5" textLength="79.2">47 - 50</text><rect x="1124.1" y="3371.4" width="43" height="34.5" fill="#c7e9ad" stroke="#9a9a9a" stroke-opacity=".55" stroke-width="1.2"/><text x="1168.4" y="3397.5" font-size="23.5" textLength="79.2">50 - 53</text><rect x="1124.1" y="3412.3" width="43" height="34.5" fill="#edf8b9" stroke="#9a9a9a" stroke-opacity=".55" stroke-width="1.2"/><text x="1168.4" y="3437.9" font-size="23.5" textLength="79.2">53 - 56</text><rect x="1256.1" y="3371.4" width="43" height="34.5" fill="#ffedaa" stroke="#9a9a9a" stroke-opacity=".55" stroke-width="1.2"/><text x="1300.4" y="3397.5" font-size="23.5" textLength="79.2">56 - 59</text><rect x="1256.1" y="3412.3" width="43" height="34.5" fill="#fec980" stroke="#9a9a9a" stroke-opacity=".55" stroke-width="1.2"/><text x="1300.4" y="3437.9" font-size="23.5" textLength="79.2">59 - 62</text><rect x="1388.1" y="3371.4" width="43" height="34.5" fill="#f99e59" stroke="#9a9a9a" stroke-opacity=".55" stroke-width="1.2"/><text x="1432" y="3397.5" font-size="23.5" textLength="79.2">62 - 66</text><rect x="1388.1" y="3412.3" width="43" height="34.5" fill="#e85b3a" stroke="#9a9a9a" stroke-opacity=".55" stroke-width="1.2"/><text x="1432" y="3437.9" font-size="23.5" textLength="79.2">66 - 69</text><rect x="1519.7" y="3371.4" width="43" height="34.5" fill="#d7191c" stroke="#9a9a9a" stroke-opacity=".55" stroke-width="1.2"/><text x="1564" y="3397.5" font-size="23.5" textLength="50.9">&gt; 69</text></g><g class="lg"><text x="1635.9" y="3379.8" font-size="23.5" textLength="139">WSDI (day)</text><rect x="1634.9" y="3389.7" width="43.4" height="31" fill="#2c7bb6" stroke="#9a9a9a" stroke-opacity=".55" stroke-width="1.2"/><text x="1686.6" y="3413.3" font-size="23.5" textLength="64">&lt;= 40</text><rect x="1782.7" y="3357.6" width="43.2" height="31.5" fill="#5e9fd0" stroke="#9a9a9a" stroke-opacity=".55" stroke-width="1.2"/><text x="1834.4" y="3381.3" font-size="23.5" textLength="82.2">40 − 43</text><rect x="1782.7" y="3398.5" width="43.2" height="31.5" fill="#9ecae3" stroke="#9a9a9a" stroke-opacity=".55" stroke-width="1.2"/><text x="1834.4" y="3423.2" font-size="23.5" textLength="82.2">43 − 46</text><rect x="1924.6" y="3357.6" width="43.2" height="31.5" fill="#c4e6db" stroke="#9a9a9a" stroke-opacity=".55" stroke-width="1.2"/><text x="1976.3" y="3381.3" font-size="23.5" textLength="82.2">46 − 49</text><rect x="1924.6" y="3398.5" width="43.2" height="31.5" fill="#ebf7c6" stroke="#9a9a9a" stroke-opacity=".55" stroke-width="1.2"/><text x="1976.3" y="3423.2" font-size="23.5" textLength="82.2">49 − 52</text><rect x="2067.4" y="3357.6" width="43.2" height="31.5" fill="#ffefaa" stroke="#9a9a9a" stroke-opacity=".55" stroke-width="1.2"/><text x="2118.7" y="3381.3" font-size="23.5" textLength="82.2">52 − 55</text><rect x="2067.4" y="3398.5" width="43.2" height="31.5" fill="#fec980" stroke="#9a9a9a" stroke-opacity=".55" stroke-width="1.2"/><text x="2118.7" y="3423.2" font-size="23.5" textLength="82.2">55 − 58</text><rect x="2209.8" y="3357.6" width="43.2" height="31.5" fill="#f99e59" stroke="#9a9a9a" stroke-opacity=".55" stroke-width="1.2"/><text x="2261.5" y="3381.3" font-size="23.5" textLength="82.2">58 − 61</text><rect x="2209.8" y="3398.5" width="43.2" height="31.5" fill="#e85b3a" stroke="#9a9a9a" stroke-opacity=".55" stroke-width="1.2"/><text x="2261.5" y="3423.2" font-size="23.5" textLength="82.2">61 − 64</text><rect x="2351.7" y="3357.6" width="43.2" height="31.5" fill="#d7191c" stroke="#9a9a9a" stroke-opacity=".55" stroke-width="1.2"/><text x="2403.4" y="3381.3" font-size="23.5" textLength="48.8">&gt; 64</text></g>
</svg></body></html>
